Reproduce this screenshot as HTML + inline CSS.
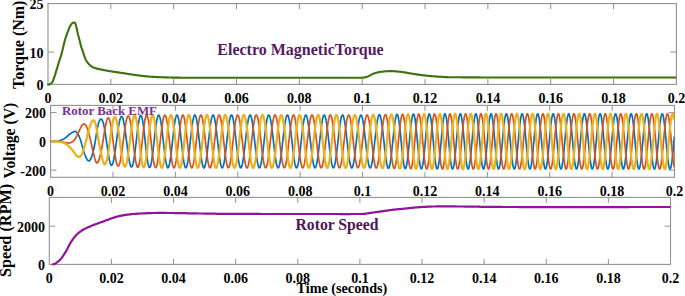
<!DOCTYPE html>
<html><head><meta charset="utf-8"><style>
html,body{margin:0;padding:0;background:#fff;width:685px;height:296px;overflow:hidden}
</style></head><body>
<svg width="685" height="296" viewBox="0 0 685 296" style="position:absolute;left:0;top:0"><rect x="48.0" y="3.6" width="628.40" height="80.80" fill="none" stroke="#929292" stroke-width="1.1"/><text x="48.00" y="102.8" text-anchor="middle" font-family='"Liberation Serif", serif' font-weight="bold" font-size="14">0</text><line x1="110.84" y1="84.4" x2="110.84" y2="78.9" stroke="#929292" stroke-width="1"/><line x1="110.84" y1="3.6" x2="110.84" y2="9.1" stroke="#929292" stroke-width="1"/><text x="110.84" y="102.8" text-anchor="middle" font-family='"Liberation Serif", serif' font-weight="bold" font-size="14">0.02</text><line x1="173.68" y1="84.4" x2="173.68" y2="78.9" stroke="#929292" stroke-width="1"/><line x1="173.68" y1="3.6" x2="173.68" y2="9.1" stroke="#929292" stroke-width="1"/><text x="173.68" y="102.8" text-anchor="middle" font-family='"Liberation Serif", serif' font-weight="bold" font-size="14">0.04</text><line x1="236.52" y1="84.4" x2="236.52" y2="78.9" stroke="#929292" stroke-width="1"/><line x1="236.52" y1="3.6" x2="236.52" y2="9.1" stroke="#929292" stroke-width="1"/><text x="236.52" y="102.8" text-anchor="middle" font-family='"Liberation Serif", serif' font-weight="bold" font-size="14">0.06</text><line x1="299.36" y1="84.4" x2="299.36" y2="78.9" stroke="#929292" stroke-width="1"/><line x1="299.36" y1="3.6" x2="299.36" y2="9.1" stroke="#929292" stroke-width="1"/><text x="299.36" y="102.8" text-anchor="middle" font-family='"Liberation Serif", serif' font-weight="bold" font-size="14">0.08</text><line x1="362.20" y1="84.4" x2="362.20" y2="78.9" stroke="#929292" stroke-width="1"/><line x1="362.20" y1="3.6" x2="362.20" y2="9.1" stroke="#929292" stroke-width="1"/><text x="362.20" y="102.8" text-anchor="middle" font-family='"Liberation Serif", serif' font-weight="bold" font-size="14">0.1</text><line x1="425.04" y1="84.4" x2="425.04" y2="78.9" stroke="#929292" stroke-width="1"/><line x1="425.04" y1="3.6" x2="425.04" y2="9.1" stroke="#929292" stroke-width="1"/><text x="425.04" y="102.8" text-anchor="middle" font-family='"Liberation Serif", serif' font-weight="bold" font-size="14">0.12</text><line x1="487.88" y1="84.4" x2="487.88" y2="78.9" stroke="#929292" stroke-width="1"/><line x1="487.88" y1="3.6" x2="487.88" y2="9.1" stroke="#929292" stroke-width="1"/><text x="487.88" y="102.8" text-anchor="middle" font-family='"Liberation Serif", serif' font-weight="bold" font-size="14">0.14</text><line x1="550.72" y1="84.4" x2="550.72" y2="78.9" stroke="#929292" stroke-width="1"/><line x1="550.72" y1="3.6" x2="550.72" y2="9.1" stroke="#929292" stroke-width="1"/><text x="550.72" y="102.8" text-anchor="middle" font-family='"Liberation Serif", serif' font-weight="bold" font-size="14">0.16</text><line x1="613.56" y1="84.4" x2="613.56" y2="78.9" stroke="#929292" stroke-width="1"/><line x1="613.56" y1="3.6" x2="613.56" y2="9.1" stroke="#929292" stroke-width="1"/><text x="613.56" y="102.8" text-anchor="middle" font-family='"Liberation Serif", serif' font-weight="bold" font-size="14">0.18</text><text x="676.40" y="102.8" text-anchor="middle" font-family='"Liberation Serif", serif' font-weight="bold" font-size="14">0.2</text><text x="43.6" y="90.00" text-anchor="end" font-family='"Liberation Serif", serif' font-weight="bold" font-size="14">0</text><line x1="48.0" y1="52.08" x2="54.0" y2="52.08" stroke="#929292" stroke-width="1"/><line x1="676.4" y1="52.08" x2="670.4" y2="52.08" stroke="#929292" stroke-width="1"/><text x="43.6" y="57.68" text-anchor="end" font-family='"Liberation Serif", serif' font-weight="bold" font-size="14">10</text><text x="43.6" y="9.20" text-anchor="end" font-family='"Liberation Serif", serif' font-weight="bold" font-size="14">25</text><rect x="50.6" y="105.4" width="623.90" height="71.90" fill="none" stroke="#929292" stroke-width="1.1"/><text x="50.60" y="195.5" text-anchor="middle" font-family='"Liberation Serif", serif' font-weight="bold" font-size="14">0</text><line x1="112.99" y1="177.3" x2="112.99" y2="171.8" stroke="#929292" stroke-width="1"/><line x1="112.99" y1="105.4" x2="112.99" y2="110.9" stroke="#929292" stroke-width="1"/><text x="112.99" y="195.5" text-anchor="middle" font-family='"Liberation Serif", serif' font-weight="bold" font-size="14">0.02</text><line x1="175.38" y1="177.3" x2="175.38" y2="171.8" stroke="#929292" stroke-width="1"/><line x1="175.38" y1="105.4" x2="175.38" y2="110.9" stroke="#929292" stroke-width="1"/><text x="175.38" y="195.5" text-anchor="middle" font-family='"Liberation Serif", serif' font-weight="bold" font-size="14">0.04</text><line x1="237.77" y1="177.3" x2="237.77" y2="171.8" stroke="#929292" stroke-width="1"/><line x1="237.77" y1="105.4" x2="237.77" y2="110.9" stroke="#929292" stroke-width="1"/><text x="237.77" y="195.5" text-anchor="middle" font-family='"Liberation Serif", serif' font-weight="bold" font-size="14">0.06</text><line x1="300.16" y1="177.3" x2="300.16" y2="171.8" stroke="#929292" stroke-width="1"/><line x1="300.16" y1="105.4" x2="300.16" y2="110.9" stroke="#929292" stroke-width="1"/><text x="300.16" y="195.5" text-anchor="middle" font-family='"Liberation Serif", serif' font-weight="bold" font-size="14">0.08</text><line x1="362.55" y1="177.3" x2="362.55" y2="171.8" stroke="#929292" stroke-width="1"/><line x1="362.55" y1="105.4" x2="362.55" y2="110.9" stroke="#929292" stroke-width="1"/><text x="362.55" y="195.5" text-anchor="middle" font-family='"Liberation Serif", serif' font-weight="bold" font-size="14">0.1</text><line x1="424.94" y1="177.3" x2="424.94" y2="171.8" stroke="#929292" stroke-width="1"/><line x1="424.94" y1="105.4" x2="424.94" y2="110.9" stroke="#929292" stroke-width="1"/><text x="424.94" y="195.5" text-anchor="middle" font-family='"Liberation Serif", serif' font-weight="bold" font-size="14">0.12</text><line x1="487.33" y1="177.3" x2="487.33" y2="171.8" stroke="#929292" stroke-width="1"/><line x1="487.33" y1="105.4" x2="487.33" y2="110.9" stroke="#929292" stroke-width="1"/><text x="487.33" y="195.5" text-anchor="middle" font-family='"Liberation Serif", serif' font-weight="bold" font-size="14">0.14</text><line x1="549.72" y1="177.3" x2="549.72" y2="171.8" stroke="#929292" stroke-width="1"/><line x1="549.72" y1="105.4" x2="549.72" y2="110.9" stroke="#929292" stroke-width="1"/><text x="549.72" y="195.5" text-anchor="middle" font-family='"Liberation Serif", serif' font-weight="bold" font-size="14">0.16</text><line x1="612.11" y1="177.3" x2="612.11" y2="171.8" stroke="#929292" stroke-width="1"/><line x1="612.11" y1="105.4" x2="612.11" y2="110.9" stroke="#929292" stroke-width="1"/><text x="612.11" y="195.5" text-anchor="middle" font-family='"Liberation Serif", serif' font-weight="bold" font-size="14">0.18</text><text x="674.50" y="195.5" text-anchor="middle" font-family='"Liberation Serif", serif' font-weight="bold" font-size="14">0.2</text><line x1="50.6" y1="170.11" x2="56.6" y2="170.11" stroke="#929292" stroke-width="1"/><line x1="674.5" y1="170.11" x2="668.5" y2="170.11" stroke="#929292" stroke-width="1"/><text x="46.0" y="175.71" text-anchor="end" font-family='"Liberation Serif", serif' font-weight="bold" font-size="14">-200</text><line x1="50.6" y1="141.35" x2="56.6" y2="141.35" stroke="#929292" stroke-width="1"/><line x1="674.5" y1="141.35" x2="668.5" y2="141.35" stroke="#929292" stroke-width="1"/><text x="46.0" y="146.95" text-anchor="end" font-family='"Liberation Serif", serif' font-weight="bold" font-size="14">0</text><line x1="50.6" y1="112.59" x2="56.6" y2="112.59" stroke="#929292" stroke-width="1"/><line x1="674.5" y1="112.59" x2="668.5" y2="112.59" stroke="#929292" stroke-width="1"/><text x="46.0" y="118.19" text-anchor="end" font-family='"Liberation Serif", serif' font-weight="bold" font-size="14">200</text><rect x="49.3" y="197.4" width="621.20" height="67.00" fill="none" stroke="#929292" stroke-width="1.1"/><text x="49.30" y="282.5" text-anchor="middle" font-family='"Liberation Serif", serif' font-weight="bold" font-size="14">0</text><line x1="111.42" y1="264.4" x2="111.42" y2="258.9" stroke="#929292" stroke-width="1"/><line x1="111.42" y1="197.4" x2="111.42" y2="202.9" stroke="#929292" stroke-width="1"/><text x="111.42" y="282.5" text-anchor="middle" font-family='"Liberation Serif", serif' font-weight="bold" font-size="14">0.02</text><line x1="173.54" y1="264.4" x2="173.54" y2="258.9" stroke="#929292" stroke-width="1"/><line x1="173.54" y1="197.4" x2="173.54" y2="202.9" stroke="#929292" stroke-width="1"/><text x="173.54" y="282.5" text-anchor="middle" font-family='"Liberation Serif", serif' font-weight="bold" font-size="14">0.04</text><line x1="235.66" y1="264.4" x2="235.66" y2="258.9" stroke="#929292" stroke-width="1"/><line x1="235.66" y1="197.4" x2="235.66" y2="202.9" stroke="#929292" stroke-width="1"/><text x="235.66" y="282.5" text-anchor="middle" font-family='"Liberation Serif", serif' font-weight="bold" font-size="14">0.06</text><line x1="297.78" y1="264.4" x2="297.78" y2="258.9" stroke="#929292" stroke-width="1"/><line x1="297.78" y1="197.4" x2="297.78" y2="202.9" stroke="#929292" stroke-width="1"/><text x="297.78" y="282.5" text-anchor="middle" font-family='"Liberation Serif", serif' font-weight="bold" font-size="14">0.08</text><line x1="359.90" y1="264.4" x2="359.90" y2="258.9" stroke="#929292" stroke-width="1"/><line x1="359.90" y1="197.4" x2="359.90" y2="202.9" stroke="#929292" stroke-width="1"/><text x="359.90" y="282.5" text-anchor="middle" font-family='"Liberation Serif", serif' font-weight="bold" font-size="14">0.1</text><line x1="422.02" y1="264.4" x2="422.02" y2="258.9" stroke="#929292" stroke-width="1"/><line x1="422.02" y1="197.4" x2="422.02" y2="202.9" stroke="#929292" stroke-width="1"/><text x="422.02" y="282.5" text-anchor="middle" font-family='"Liberation Serif", serif' font-weight="bold" font-size="14">0.12</text><line x1="484.14" y1="264.4" x2="484.14" y2="258.9" stroke="#929292" stroke-width="1"/><line x1="484.14" y1="197.4" x2="484.14" y2="202.9" stroke="#929292" stroke-width="1"/><text x="484.14" y="282.5" text-anchor="middle" font-family='"Liberation Serif", serif' font-weight="bold" font-size="14">0.14</text><line x1="546.26" y1="264.4" x2="546.26" y2="258.9" stroke="#929292" stroke-width="1"/><line x1="546.26" y1="197.4" x2="546.26" y2="202.9" stroke="#929292" stroke-width="1"/><text x="546.26" y="282.5" text-anchor="middle" font-family='"Liberation Serif", serif' font-weight="bold" font-size="14">0.16</text><line x1="608.38" y1="264.4" x2="608.38" y2="258.9" stroke="#929292" stroke-width="1"/><line x1="608.38" y1="197.4" x2="608.38" y2="202.9" stroke="#929292" stroke-width="1"/><text x="608.38" y="282.5" text-anchor="middle" font-family='"Liberation Serif", serif' font-weight="bold" font-size="14">0.18</text><text x="670.50" y="282.5" text-anchor="middle" font-family='"Liberation Serif", serif' font-weight="bold" font-size="14">0.2</text><text x="45.0" y="270.00" text-anchor="end" font-family='"Liberation Serif", serif' font-weight="bold" font-size="14">0</text><line x1="49.3" y1="226.11" x2="55.3" y2="226.11" stroke="#929292" stroke-width="1"/><line x1="670.5" y1="226.11" x2="664.5" y2="226.11" stroke="#929292" stroke-width="1"/><text x="45.0" y="231.71" text-anchor="end" font-family='"Liberation Serif", serif' font-weight="bold" font-size="14">2000</text><defs><clipPath id="c1"><rect x="40" y="3.6" width="636.40" height="83.80"/></clipPath><clipPath id="c3"><rect x="40" y="197.4" width="630.50" height="70.00"/></clipPath></defs><path clip-path="url(#c1)" d="M48.0 84.6L48.5 84.6L49.0 84.5L49.5 84.4L50.0 84.2L50.5 83.9L51.0 83.6L51.5 83.1L52.0 82.5L52.5 81.9L53.0 80.8L53.5 79.5L54.0 78.1L54.5 76.6L55.0 75.1L55.5 73.4L56.0 71.7L56.5 70.1L57.0 68.5L57.5 66.9L58.0 65.2L58.5 63.6L59.0 62.0L59.5 60.4L60.0 58.8L60.5 57.2L61.0 55.6L61.5 53.9L62.0 52.1L62.5 50.2L63.0 48.1L63.5 45.9L64.0 43.8L64.5 41.7L65.0 39.8L65.5 38.2L66.0 36.6L66.5 35.2L67.0 33.8L67.5 32.5L68.0 31.1L68.5 29.8L69.0 28.5L69.5 27.3L70.0 26.3L70.5 25.4L71.0 24.6L71.5 23.9L72.0 23.4L72.5 23.0L73.0 22.7L73.5 22.6L74.0 22.6L74.5 22.6L75.0 23.0L75.5 23.8L76.0 25.6L76.5 27.6L77.0 29.8L77.5 32.1L78.0 34.3L78.5 36.2L79.0 38.2L79.5 40.1L80.0 42.0L80.5 44.1L81.0 46.1L81.5 47.9L82.0 49.2L82.5 50.5L83.0 51.9L83.5 53.4L84.0 55.0L84.5 56.6L85.0 58.0L85.5 59.2L86.0 60.2L86.5 61.0L87.0 61.7L87.5 62.5L88.0 63.1L88.5 63.7L89.0 64.2L89.5 64.7L90.0 65.2L90.5 65.6L91.0 66.1L91.5 66.5L92.0 66.8L92.5 67.1L93.0 67.3L93.5 67.5L94.0 67.7L94.5 67.9L95.0 68.0L95.5 68.2L96.0 68.3L96.5 68.5L97.0 68.6L97.5 68.8L98.0 68.9L98.5 69.0L99.0 69.1L99.5 69.2L100.0 69.3L100.5 69.4L101.0 69.5L101.5 69.6L102.0 69.7L102.5 69.8L103.0 69.9L103.5 70.0L104.0 70.1L104.5 70.2L105.0 70.3L105.5 70.4L106.0 70.5L106.5 70.6L107.0 70.7L107.5 70.8L108.0 70.9L108.5 71.0L109.0 71.0L109.5 71.1L110.0 71.2L110.5 71.3L111.0 71.3L111.5 71.4L112.0 71.5L112.5 71.6L113.0 71.6L113.5 71.7L114.0 71.8L114.5 71.9L115.0 71.9L115.5 72.0L116.0 72.1L116.5 72.1L117.0 72.2L117.5 72.3L118.0 72.4L118.5 72.4L119.0 72.5L119.5 72.6L120.0 72.7L120.5 72.7L121.0 72.8L121.5 72.9L122.0 73.0L122.5 73.0L123.0 73.1L123.5 73.2L124.0 73.3L124.5 73.3L125.0 73.4L125.5 73.5L126.0 73.6L126.5 73.7L127.0 73.7L127.5 73.8L128.0 73.9L128.5 74.0L129.0 74.1L129.5 74.1L130.0 74.2L130.5 74.3L131.0 74.4L131.5 74.5L132.0 74.5L132.5 74.6L133.0 74.7L133.5 74.8L134.0 74.8L134.5 74.9L135.0 75.0L135.5 75.0L136.0 75.1L136.5 75.2L137.0 75.3L137.5 75.3L138.0 75.4L138.5 75.4L139.0 75.5L139.5 75.6L140.0 75.6L140.5 75.7L141.0 75.7L141.5 75.8L142.0 75.9L142.5 75.9L143.0 76.0L143.5 76.0L144.0 76.1L144.5 76.1L145.0 76.2L145.5 76.2L146.0 76.3L146.5 76.4L147.0 76.4L147.5 76.5L148.0 76.5L148.5 76.5L149.0 76.6L149.5 76.6L150.0 76.7L150.5 76.7L151.0 76.8L151.5 76.8L152.0 76.8L152.5 76.9L153.0 76.9L153.5 76.9L154.0 76.9L154.5 77.0L155.0 77.0L155.5 77.0L156.0 77.0L156.5 77.0L157.0 77.1L157.5 77.1L158.0 77.1L158.5 77.1L159.0 77.2L159.5 77.2L160.0 77.2L160.5 77.2L161.0 77.2L161.5 77.3L162.0 77.3L162.5 77.3L163.0 77.3L163.5 77.3L164.0 77.4L164.5 77.4L165.0 77.4L165.5 77.4L166.0 77.4L166.5 77.4L167.0 77.4L167.5 77.5L168.0 77.5L168.5 77.5L169.0 77.5L169.5 77.5L170.0 77.5L170.5 77.5L171.0 77.5L171.5 77.5L172.0 77.6L172.5 77.6L173.0 77.6L173.5 77.6L174.0 77.6L174.5 77.6L175.0 77.6L175.5 77.6L176.0 77.6L176.5 77.6L177.0 77.6L177.5 77.6L178.0 77.6L178.5 77.6L179.0 77.6L179.5 77.6L180.0 77.6L180.5 77.7L181.0 77.7L181.5 77.7L182.0 77.7L182.5 77.7L183.0 77.7L183.5 77.7L184.0 77.7L184.5 77.7L185.0 77.7L185.5 77.7L186.0 77.7L186.5 77.7L187.0 77.7L187.5 77.7L188.0 77.7L188.5 77.7L189.0 77.7L189.5 77.7L190.0 77.7L190.5 77.7L191.0 77.7L191.5 77.7L192.0 77.7L192.5 77.7L193.0 77.7L193.5 77.7L194.0 77.7L194.5 77.7L195.0 77.7L195.5 77.7L196.0 77.7L196.5 77.7L197.0 77.7L197.5 77.7L198.0 77.7L198.5 77.7L199.0 77.7L199.5 77.7L200.0 77.8L200.5 77.8L201.0 77.8L201.5 77.8L202.0 77.8L202.5 77.8L203.0 77.8L203.5 77.8L204.0 77.8L204.5 77.8L205.0 77.8L205.5 77.8L206.0 77.8L206.5 77.8L207.0 77.8L207.5 77.8L208.0 77.8L208.5 77.8L209.0 77.8L209.5 77.8L210.0 77.8L210.5 77.8L211.0 77.8L211.5 77.8L212.0 77.8L212.5 77.8L213.0 77.8L213.5 77.8L214.0 77.8L214.5 77.8L215.0 77.8L215.5 77.8L216.0 77.8L216.5 77.8L217.0 77.8L217.5 77.8L218.0 77.8L218.5 77.8L219.0 77.8L219.5 77.8L220.0 77.8L220.5 77.8L221.0 77.8L221.5 77.8L222.0 77.8L222.5 77.8L223.0 77.8L223.5 77.8L224.0 77.8L224.5 77.8L225.0 77.8L225.5 77.8L226.0 77.8L226.5 77.8L227.0 77.8L227.5 77.8L228.0 77.8L228.5 77.8L229.0 77.8L229.5 77.8L230.0 77.8L230.5 77.8L231.0 77.8L231.5 77.8L232.0 77.8L232.5 77.8L233.0 77.8L233.5 77.8L234.0 77.8L234.5 77.8L235.0 77.8L235.5 77.8L236.0 77.8L236.5 77.8L237.0 77.8L237.5 77.8L238.0 77.8L238.5 77.8L239.0 77.8L239.5 77.8L240.0 77.8L240.5 77.8L241.0 77.8L241.5 77.8L242.0 77.8L242.5 77.8L243.0 77.8L243.5 77.8L244.0 77.8L244.5 77.8L245.0 77.8L245.5 77.8L246.0 77.8L246.5 77.8L247.0 77.8L247.5 77.8L248.0 77.8L248.5 77.8L249.0 77.8L249.5 77.8L250.0 77.8L250.5 77.8L251.0 77.8L251.5 77.8L252.0 77.8L252.5 77.8L253.0 77.8L253.5 77.8L254.0 77.8L254.5 77.8L255.0 77.8L255.5 77.8L256.0 77.8L256.5 77.8L257.0 77.8L257.5 77.8L258.0 77.8L258.5 77.8L259.0 77.8L259.5 77.8L260.0 77.8L260.5 77.8L261.0 77.8L261.5 77.8L262.0 77.8L262.5 77.8L263.0 77.8L263.5 77.8L264.0 77.8L264.5 77.8L265.0 77.8L265.5 77.8L266.0 77.8L266.5 77.8L267.0 77.8L267.5 77.8L268.0 77.8L268.5 77.8L269.0 77.8L269.5 77.8L270.0 77.8L270.5 77.8L271.0 77.8L271.5 77.8L272.0 77.8L272.5 77.8L273.0 77.8L273.5 77.8L274.0 77.8L274.5 77.8L275.0 77.8L275.5 77.8L276.0 77.8L276.5 77.8L277.0 77.8L277.5 77.8L278.0 77.8L278.5 77.8L279.0 77.8L279.5 77.8L280.0 77.8L280.5 77.8L281.0 77.8L281.5 77.8L282.0 77.8L282.5 77.8L283.0 77.8L283.5 77.8L284.0 77.8L284.5 77.8L285.0 77.8L285.5 77.8L286.0 77.8L286.5 77.8L287.0 77.8L287.5 77.8L288.0 77.8L288.5 77.8L289.0 77.8L289.5 77.8L290.0 77.8L290.5 77.8L291.0 77.8L291.5 77.8L292.0 77.8L292.5 77.8L293.0 77.8L293.5 77.8L294.0 77.8L294.5 77.8L295.0 77.8L295.5 77.8L296.0 77.8L296.5 77.8L297.0 77.8L297.5 77.8L298.0 77.8L298.5 77.8L299.0 77.8L299.5 77.8L300.0 77.8L300.5 77.8L301.0 77.8L301.5 77.8L302.0 77.8L302.5 77.8L303.0 77.8L303.5 77.8L304.0 77.8L304.5 77.8L305.0 77.8L305.5 77.8L306.0 77.8L306.5 77.8L307.0 77.8L307.5 77.8L308.0 77.8L308.5 77.8L309.0 77.8L309.5 77.8L310.0 77.8L310.5 77.8L311.0 77.8L311.5 77.8L312.0 77.8L312.5 77.8L313.0 77.8L313.5 77.8L314.0 77.8L314.5 77.8L315.0 77.8L315.5 77.8L316.0 77.8L316.5 77.8L317.0 77.8L317.5 77.8L318.0 77.8L318.5 77.8L319.0 77.8L319.5 77.8L320.0 77.8L320.5 77.8L321.0 77.8L321.5 77.8L322.0 77.8L322.5 77.8L323.0 77.8L323.5 77.8L324.0 77.8L324.5 77.8L325.0 77.8L325.5 77.8L326.0 77.8L326.5 77.8L327.0 77.8L327.5 77.8L328.0 77.8L328.5 77.8L329.0 77.8L329.5 77.8L330.0 77.8L330.5 77.7L331.0 77.7L331.5 77.7L332.0 77.7L332.5 77.7L333.0 77.7L333.5 77.7L334.0 77.7L334.5 77.7L335.0 77.7L335.5 77.7L336.0 77.7L336.5 77.7L337.0 77.7L337.5 77.7L338.0 77.7L338.5 77.7L339.0 77.7L339.5 77.7L340.0 77.7L340.5 77.7L341.0 77.7L341.5 77.7L342.0 77.7L342.5 77.7L343.0 77.7L343.5 77.7L344.0 77.7L344.5 77.7L345.0 77.7L345.5 77.7L346.0 77.7L346.5 77.7L347.0 77.7L347.5 77.7L348.0 77.7L348.5 77.7L349.0 77.7L349.5 77.7L350.0 77.7L350.5 77.7L351.0 77.7L351.5 77.7L352.0 77.7L352.5 77.7L353.0 77.7L353.5 77.7L354.0 77.7L354.5 77.7L355.0 77.7L355.5 77.7L356.0 77.7L356.5 77.7L357.0 77.7L357.5 77.7L358.0 77.7L358.5 77.7L359.0 77.7L359.5 77.7L360.0 77.7L360.5 77.7L361.0 77.7L361.5 77.7L362.0 77.7L362.5 77.7L363.0 77.6L363.5 77.6L364.0 77.5L364.5 77.4L365.0 77.3L365.5 77.2L366.0 77.1L366.5 76.9L367.0 76.8L367.5 76.6L368.0 76.4L368.5 76.2L369.0 76.0L369.5 75.7L370.0 75.4L370.5 75.1L371.0 74.8L371.5 74.6L372.0 74.3L372.5 74.1L373.0 73.8L373.5 73.7L374.0 73.5L374.5 73.3L375.0 73.2L375.5 73.0L376.0 72.8L376.5 72.7L377.0 72.6L377.5 72.4L378.0 72.3L378.5 72.2L379.0 72.1L379.5 72.0L380.0 71.9L380.5 71.8L381.0 71.8L381.5 71.7L382.0 71.7L382.5 71.6L383.0 71.6L383.5 71.5L384.0 71.5L384.5 71.4L385.0 71.4L385.5 71.3L386.0 71.3L386.5 71.3L387.0 71.2L387.5 71.2L388.0 71.2L388.5 71.1L389.0 71.1L389.5 71.1L390.0 71.1L390.5 71.1L391.0 71.1L391.5 71.1L392.0 71.1L392.5 71.1L393.0 71.2L393.5 71.2L394.0 71.2L394.5 71.2L395.0 71.3L395.5 71.3L396.0 71.4L396.5 71.4L397.0 71.5L397.5 71.5L398.0 71.6L398.5 71.6L399.0 71.7L399.5 71.7L400.0 71.8L400.5 71.8L401.0 71.9L401.5 71.9L402.0 72.0L402.5 72.1L403.0 72.1L403.5 72.2L404.0 72.3L404.5 72.4L405.0 72.4L405.5 72.5L406.0 72.6L406.5 72.7L407.0 72.8L407.5 72.9L408.0 73.0L408.5 73.1L409.0 73.2L409.5 73.2L410.0 73.3L410.5 73.4L411.0 73.5L411.5 73.6L412.0 73.7L412.5 73.8L413.0 73.8L413.5 73.9L414.0 74.0L414.5 74.1L415.0 74.1L415.5 74.2L416.0 74.3L416.5 74.4L417.0 74.4L417.5 74.5L418.0 74.6L418.5 74.6L419.0 74.7L419.5 74.8L420.0 74.9L420.5 74.9L421.0 75.0L421.5 75.1L422.0 75.1L422.5 75.2L423.0 75.3L423.5 75.3L424.0 75.4L424.5 75.4L425.0 75.5L425.5 75.6L426.0 75.6L426.5 75.7L427.0 75.7L427.5 75.8L428.0 75.8L428.5 75.9L429.0 75.9L429.5 76.0L430.0 76.0L430.5 76.1L431.0 76.1L431.5 76.1L432.0 76.2L432.5 76.2L433.0 76.3L433.5 76.3L434.0 76.3L434.5 76.4L435.0 76.4L435.5 76.5L436.0 76.5L436.5 76.5L437.0 76.6L437.5 76.6L438.0 76.6L438.5 76.7L439.0 76.7L439.5 76.7L440.0 76.7L440.5 76.8L441.0 76.8L441.5 76.8L442.0 76.9L442.5 76.9L443.0 76.9L443.5 77.0L444.0 77.0L444.5 77.0L445.0 77.0L445.5 77.1L446.0 77.1L446.5 77.1L447.0 77.1L447.5 77.1L448.0 77.2L448.5 77.2L449.0 77.2L449.5 77.2L450.0 77.2L450.5 77.2L451.0 77.2L451.5 77.2L452.0 77.2L452.5 77.2L453.0 77.2L453.5 77.3L454.0 77.3L454.5 77.3L455.0 77.3L455.5 77.3L456.0 77.3L456.5 77.3L457.0 77.3L457.5 77.3L458.0 77.3L458.5 77.3L459.0 77.3L459.5 77.3L460.0 77.3L460.5 77.3L461.0 77.3L461.5 77.3L462.0 77.4L462.5 77.4L463.0 77.4L463.5 77.4L464.0 77.4L464.5 77.4L465.0 77.4L465.5 77.4L466.0 77.4L466.5 77.4L467.0 77.4L467.5 77.4L468.0 77.4L468.5 77.4L469.0 77.4L469.5 77.4L470.0 77.4L470.5 77.4L471.0 77.4L471.5 77.4L472.0 77.4L472.5 77.4L473.0 77.4L473.5 77.4L474.0 77.4L474.5 77.4L475.0 77.4L475.5 77.4L476.0 77.4L476.5 77.4L477.0 77.4L477.5 77.4L478.0 77.4L478.5 77.4L479.0 77.4L479.5 77.4L480.0 77.5L480.5 77.5L481.0 77.5L481.5 77.5L482.0 77.5L482.5 77.5L483.0 77.5L483.5 77.5L484.0 77.5L484.5 77.5L485.0 77.5L485.5 77.5L486.0 77.5L486.5 77.5L487.0 77.5L487.5 77.5L488.0 77.5L488.5 77.5L489.0 77.5L489.5 77.5L490.0 77.5L490.5 77.5L491.0 77.5L491.5 77.5L492.0 77.5L492.5 77.5L493.0 77.5L493.5 77.5L494.0 77.5L494.5 77.5L495.0 77.5L495.5 77.5L496.0 77.5L496.5 77.5L497.0 77.5L497.5 77.5L498.0 77.5L498.5 77.5L499.0 77.5L499.5 77.5L500.0 77.5L500.5 77.5L501.0 77.5L501.5 77.5L502.0 77.5L502.5 77.5L503.0 77.5L503.5 77.5L504.0 77.5L504.5 77.5L505.0 77.5L505.5 77.5L506.0 77.5L506.5 77.5L507.0 77.5L507.5 77.5L508.0 77.5L508.5 77.5L509.0 77.5L509.5 77.5L510.0 77.5L510.5 77.5L511.0 77.5L511.5 77.5L512.0 77.5L512.5 77.5L513.0 77.5L513.5 77.5L514.0 77.5L514.5 77.5L515.0 77.5L515.5 77.5L516.0 77.5L516.5 77.5L517.0 77.5L517.5 77.5L518.0 77.5L518.5 77.5L519.0 77.5L519.5 77.5L520.0 77.5L520.5 77.5L521.0 77.5L521.5 77.5L522.0 77.5L522.5 77.5L523.0 77.5L523.5 77.5L524.0 77.5L524.5 77.5L525.0 77.5L525.5 77.5L526.0 77.5L526.5 77.5L527.0 77.5L527.5 77.5L528.0 77.5L528.5 77.5L529.0 77.5L529.5 77.5L530.0 77.5L530.5 77.5L531.0 77.5L531.5 77.5L532.0 77.5L532.5 77.5L533.0 77.5L533.5 77.5L534.0 77.5L534.5 77.5L535.0 77.5L535.5 77.5L536.0 77.5L536.5 77.5L537.0 77.5L537.5 77.5L538.0 77.5L538.5 77.5L539.0 77.5L539.5 77.5L540.0 77.5L540.5 77.5L541.0 77.5L541.5 77.5L542.0 77.5L542.5 77.5L543.0 77.5L543.5 77.5L544.0 77.5L544.5 77.5L545.0 77.5L545.5 77.5L546.0 77.5L546.5 77.5L547.0 77.5L547.5 77.5L548.0 77.5L548.5 77.5L549.0 77.5L549.5 77.5L550.0 77.5L550.5 77.5L551.0 77.5L551.5 77.5L552.0 77.5L552.5 77.5L553.0 77.5L553.5 77.5L554.0 77.5L554.5 77.5L555.0 77.5L555.5 77.5L556.0 77.5L556.5 77.5L557.0 77.5L557.5 77.5L558.0 77.5L558.5 77.5L559.0 77.5L559.5 77.5L560.0 77.5L560.5 77.5L561.0 77.5L561.5 77.5L562.0 77.5L562.5 77.5L563.0 77.5L563.5 77.5L564.0 77.5L564.5 77.5L565.0 77.5L565.5 77.5L566.0 77.5L566.5 77.5L567.0 77.5L567.5 77.5L568.0 77.5L568.5 77.5L569.0 77.5L569.5 77.5L570.0 77.5L570.5 77.5L571.0 77.5L571.5 77.5L572.0 77.5L572.5 77.5L573.0 77.5L573.5 77.5L574.0 77.5L574.5 77.5L575.0 77.5L575.5 77.5L576.0 77.5L576.5 77.5L577.0 77.5L577.5 77.5L578.0 77.5L578.5 77.5L579.0 77.5L579.5 77.5L580.0 77.5L580.5 77.5L581.0 77.5L581.5 77.5L582.0 77.5L582.5 77.5L583.0 77.5L583.5 77.5L584.0 77.5L584.5 77.5L585.0 77.5L585.5 77.5L586.0 77.5L586.5 77.5L587.0 77.5L587.5 77.5L588.0 77.5L588.5 77.5L589.0 77.5L589.5 77.5L590.0 77.5L590.5 77.5L591.0 77.5L591.5 77.5L592.0 77.5L592.5 77.5L593.0 77.5L593.5 77.5L594.0 77.5L594.5 77.5L595.0 77.5L595.5 77.5L596.0 77.5L596.5 77.5L597.0 77.5L597.5 77.5L598.0 77.5L598.5 77.5L599.0 77.5L599.5 77.5L600.0 77.5L600.5 77.5L601.0 77.5L601.5 77.5L602.0 77.5L602.5 77.5L603.0 77.5L603.5 77.5L604.0 77.5L604.5 77.5L605.0 77.5L605.5 77.5L606.0 77.5L606.5 77.5L607.0 77.5L607.5 77.5L608.0 77.5L608.5 77.5L609.0 77.5L609.5 77.5L610.0 77.5L610.5 77.5L611.0 77.5L611.5 77.5L612.0 77.5L612.5 77.5L613.0 77.5L613.5 77.5L614.0 77.5L614.5 77.5L615.0 77.5L615.5 77.5L616.0 77.5L616.5 77.5L617.0 77.5L617.5 77.5L618.0 77.5L618.5 77.5L619.0 77.5L619.5 77.5L620.0 77.5L620.5 77.5L621.0 77.5L621.5 77.5L622.0 77.5L622.5 77.5L623.0 77.5L623.5 77.5L624.0 77.5L624.5 77.5L625.0 77.5L625.5 77.5L626.0 77.5L626.5 77.5L627.0 77.5L627.5 77.5L628.0 77.5L628.5 77.5L629.0 77.5L629.5 77.5L630.0 77.5L630.5 77.5L631.0 77.5L631.5 77.5L632.0 77.5L632.5 77.5L633.0 77.5L633.5 77.5L634.0 77.5L634.5 77.5L635.0 77.5L635.5 77.5L636.0 77.5L636.5 77.5L637.0 77.5L637.5 77.5L638.0 77.5L638.5 77.5L639.0 77.5L639.5 77.5L640.0 77.5L640.5 77.5L641.0 77.5L641.5 77.5L642.0 77.5L642.5 77.5L643.0 77.5L643.5 77.5L644.0 77.5L644.5 77.5L645.0 77.5L645.5 77.5L646.0 77.5L646.5 77.5L647.0 77.5L647.5 77.5L648.0 77.5L648.5 77.5L649.0 77.5L649.5 77.5L650.0 77.5L650.5 77.5L651.0 77.5L651.5 77.5L652.0 77.5L652.5 77.5L653.0 77.5L653.5 77.5L654.0 77.5L654.5 77.5L655.0 77.5L655.5 77.5L656.0 77.5L656.5 77.5L657.0 77.5L657.5 77.5L658.0 77.5L658.5 77.5L659.0 77.5L659.5 77.5L660.0 77.5L660.5 77.5L661.0 77.5L661.5 77.5L662.0 77.5L662.5 77.5L663.0 77.5L663.5 77.5L664.0 77.5L664.5 77.5L665.0 77.5L665.5 77.5L666.0 77.5L666.5 77.5L667.0 77.5L667.5 77.5L668.0 77.5L668.5 77.5L669.0 77.5L669.5 77.5L670.0 77.5L670.5 77.5L671.0 77.5L671.5 77.5L672.0 77.5L672.5 77.5L673.0 77.5L673.5 77.5L674.0 77.5L674.5 77.5L675.0 77.5L675.5 77.5L676.0 77.5L676.5 77.5" fill="none" stroke="#3f720f" stroke-width="2.1" stroke-linejoin="round" stroke-linecap="round"/><g clip-path="url(#c2)"><path d="M50.6 141.4L50.9 141.4L51.1 141.4L51.4 141.4L51.6 141.4L51.9 141.4L52.1 141.4L52.4 141.4L52.6 141.4L52.9 141.4L53.1 141.4L53.4 141.4L53.6 141.4L53.9 141.4L54.1 141.4L54.4 141.4L54.6 141.3L54.9 141.3L55.1 141.3L55.4 141.3L55.6 141.3L55.9 141.2L56.1 141.2L56.4 141.2L56.6 141.2L56.9 141.1L57.1 141.1L57.4 141.1L57.6 141.1L57.9 141.0L58.1 141.0L58.4 140.9L58.6 140.9L58.9 140.9L59.1 140.8L59.4 140.7L59.6 140.7L59.9 140.6L60.1 140.5L60.4 140.4L60.6 140.3L60.9 140.2L61.1 140.2L61.4 140.1L61.6 140.0L61.9 139.9L62.1 139.8L62.4 139.7L62.6 139.6L62.9 139.4L63.1 139.3L63.4 139.2L63.6 139.0L63.9 138.9L64.1 138.7L64.3 138.6L64.6 138.4L64.8 138.3L65.1 138.1L65.3 137.9L65.6 137.8L65.8 137.6L66.1 137.4L66.3 137.2L66.6 137.0L66.8 136.8L67.1 136.6L67.3 136.3L67.6 136.1L67.8 135.8L68.1 135.6L68.3 135.3L68.6 135.1L68.8 134.9L69.1 134.6L69.3 134.4L69.6 134.2L69.8 134.0L70.1 133.8L70.3 133.6L70.6 133.4L70.8 133.3L71.1 133.1L71.3 133.0L71.6 132.8L71.8 132.7L72.1 132.6L72.3 132.4L72.6 132.3L72.8 132.2L73.1 132.1L73.3 131.9L73.6 131.8L73.8 131.7L74.1 131.6L74.3 131.5L74.6 131.4L74.8 131.4L75.1 131.4L75.3 131.4L75.6 131.5L75.8 131.6L76.1 131.8L76.3 132.0L76.6 132.2L76.8 132.5L77.1 132.8L77.3 133.1L77.6 133.5L77.8 133.9L78.1 134.3L78.3 134.7L78.6 135.2L78.8 135.8L79.1 136.3L79.3 136.9L79.6 137.5L79.8 138.1L80.1 138.8L80.3 139.5L80.6 140.3L80.8 141.1L81.1 141.9L81.3 142.8L81.6 143.6L81.8 144.5L82.1 145.4L82.3 146.3L82.6 147.2L82.8 148.1L83.1 149.0L83.3 149.8L83.6 150.7L83.8 151.5L84.1 152.3L84.3 153.0L84.6 153.8L84.8 154.5L85.1 155.2L85.3 155.8L85.6 156.4L85.8 157.0L86.1 157.6L86.3 158.1L86.6 158.6L86.8 159.1L87.1 159.5L87.3 159.8L87.6 160.1L87.8 160.4L88.1 160.6L88.3 160.8L88.6 160.9L88.8 160.9L89.1 160.9L89.3 160.8L89.6 160.6L89.8 160.4L90.1 160.1L90.3 159.7L90.6 159.3L90.8 158.8L91.1 158.3L91.3 157.7L91.6 157.0L91.8 156.3L92.1 155.5L92.3 154.7L92.6 153.9L92.8 153.0L93.1 152.0L93.3 151.1L93.6 150.0L93.8 148.9L94.1 147.8L94.3 146.6L94.6 145.3L94.8 143.9L95.1 142.4L95.3 140.9L95.6 139.3L95.8 137.7L96.1 136.1L96.3 134.5L96.6 133.0L96.8 131.4L97.1 130.0L97.3 128.6L97.6 127.3L97.8 126.1L98.1 125.0L98.3 124.0L98.6 123.1L98.8 122.3L99.1 121.6L99.3 121.0L99.6 120.5L99.8 120.1L100.1 119.7L100.3 119.5L100.6 119.3L100.8 119.2L101.1 119.1L101.3 119.2L101.6 119.3L101.8 119.6L102.1 119.9L102.3 120.3L102.6 120.9L102.8 121.5L103.1 122.3L103.3 123.1L103.6 124.1L103.8 125.2L104.1 126.3L104.3 127.6L104.6 128.9L104.8 130.3L105.1 131.8L105.3 133.4L105.6 135.0L105.8 136.7L106.1 138.4L106.3 140.2L106.6 141.9L106.8 143.7L107.1 145.5L107.3 147.3L107.6 149.0L107.8 150.7L108.1 152.4L108.3 154.0L108.6 155.6L108.8 157.0L109.1 158.4L109.3 159.7L109.6 160.8L109.8 161.9L110.1 162.8L110.3 163.6L110.6 164.2L110.8 164.7L111.1 165.1L111.3 165.3L111.6 165.3L111.8 165.2L112.1 164.9L112.3 164.5L112.6 164.0L112.8 163.3L113.1 162.4L113.3 161.4L113.6 160.3L113.8 159.1L114.1 157.8L114.3 156.4L114.6 154.8L114.8 153.2L115.1 151.5L115.3 149.8L115.6 148.0L115.8 146.2L116.1 144.3L116.3 142.4L116.6 140.5L116.8 138.6L117.1 136.7L117.3 134.9L117.6 133.0L117.8 131.3L118.1 129.5L118.3 127.9L118.6 126.3L118.8 124.8L119.1 123.4L119.3 122.2L119.6 121.0L119.8 119.9L120.1 119.0L120.3 118.2L120.6 117.6L120.8 117.1L121.1 116.7L121.3 116.5L121.6 116.4L121.8 116.5L122.1 116.7L122.3 117.1L122.6 117.7L122.8 118.3L123.1 119.2L123.3 120.1L123.6 121.2L123.8 122.4L124.1 123.7L124.3 125.2L124.6 126.7L124.8 128.3L125.1 130.1L125.3 131.9L125.6 133.7L125.8 135.6L126.1 137.6L126.3 139.5L126.6 141.5L126.8 143.5L127.1 145.5L127.3 147.5L127.6 149.4L127.8 151.3L128.1 153.1L128.3 154.9L128.6 156.5L128.8 158.1L129.1 159.6L129.3 161.0L129.6 162.2L129.8 163.3L130.1 164.3L130.3 165.2L130.6 165.8L130.8 166.4L131.1 166.7L131.3 166.9L131.6 167.0L131.8 166.8L132.1 166.5L132.3 166.1L132.6 165.4L132.8 164.6L133.1 163.7L133.3 162.6L133.6 161.3L133.8 159.9L134.1 158.4L134.3 156.8L134.6 155.0L134.8 153.1L135.1 151.2L135.3 149.2L135.6 147.1L135.8 144.9L136.1 142.8L136.3 140.6L136.6 138.4L136.8 136.2L137.1 134.1L137.3 132.0L137.6 130.0L137.8 128.0L138.1 126.1L138.3 124.4L138.6 122.8L138.8 121.3L139.1 119.9L139.3 118.7L139.6 117.7L139.8 116.9L140.1 116.2L140.3 115.8L140.6 115.5L140.8 115.5L141.1 115.6L141.3 116.0L141.6 116.5L141.8 117.3L142.1 118.2L142.3 119.3L142.6 120.6L142.8 122.1L143.1 123.7L143.3 125.5L143.6 127.3L143.8 129.3L144.1 131.4L144.3 133.6L144.6 135.9L144.8 138.2L145.1 140.5L145.3 142.8L145.6 145.1L145.8 147.4L146.1 149.6L146.3 151.8L146.6 153.9L146.8 155.9L147.1 157.8L147.3 159.5L147.6 161.1L147.8 162.6L148.1 163.8L148.3 164.9L148.6 165.8L148.8 166.6L149.1 167.1L149.3 167.4L149.6 167.5L149.8 167.4L150.1 167.1L150.3 166.6L150.6 166.0L150.8 165.1L151.1 164.0L151.3 162.8L151.6 161.4L151.8 159.9L152.1 158.2L152.3 156.4L152.6 154.5L152.8 152.5L153.1 150.4L153.3 148.2L153.6 146.0L153.8 143.8L154.1 141.6L154.3 139.3L154.6 137.1L154.8 134.9L155.1 132.7L155.3 130.6L155.6 128.6L155.8 126.7L156.1 124.9L156.3 123.2L156.6 121.7L156.8 120.3L157.1 119.0L157.3 117.9L157.6 117.0L157.8 116.3L158.1 115.7L158.3 115.3L158.6 115.2L158.8 115.2L159.1 115.3L159.3 115.7L159.6 116.3L159.8 117.0L160.1 117.9L160.3 119.0L160.6 120.3L160.8 121.7L161.1 123.2L161.3 124.9L161.6 126.7L161.8 128.6L162.1 130.6L162.3 132.6L162.6 134.8L162.8 136.9L163.1 139.2L163.3 141.4L163.6 143.6L163.8 145.8L164.1 148.0L164.3 150.2L164.6 152.2L164.8 154.2L165.1 156.1L165.3 157.9L165.6 159.6L165.8 161.2L166.1 162.6L166.3 163.9L166.6 165.0L166.8 165.9L167.1 166.6L167.3 167.2L167.6 167.6L167.8 167.8L168.1 167.7L168.3 167.5L168.6 167.2L168.8 166.6L169.1 165.8L169.3 164.8L169.6 163.7L169.8 162.4L170.1 161.0L170.3 159.4L170.6 157.6L170.8 155.8L171.1 153.8L171.3 151.7L171.6 149.6L171.8 147.4L172.1 145.1L172.3 142.8L172.6 140.5L172.8 138.2L173.1 135.9L173.3 133.7L173.6 131.5L173.8 129.4L174.1 127.4L174.3 125.5L174.6 123.7L174.8 122.0L175.1 120.5L175.3 119.2L175.6 118.0L175.8 117.0L176.1 116.2L176.3 115.6L176.6 115.2L176.8 115.0L177.1 115.0L177.3 115.2L177.6 115.7L177.8 116.3L178.1 117.1L178.3 118.1L178.6 119.3L178.8 120.7L179.1 122.2L179.3 123.9L179.6 125.8L179.8 127.7L180.1 129.8L180.3 131.9L180.6 134.1L180.8 136.4L181.1 138.7L181.3 141.1L181.6 143.4L181.8 145.7L182.1 148.0L182.3 150.3L182.6 152.4L182.8 154.5L183.1 156.5L183.3 158.4L183.6 160.1L183.8 161.7L184.1 163.1L184.3 164.3L184.6 165.4L184.8 166.3L185.1 167.0L185.3 167.4L185.6 167.7L185.8 167.8L186.1 167.7L186.3 167.3L186.6 166.8L186.8 166.1L187.1 165.2L187.3 164.1L187.6 162.8L187.8 161.3L188.1 159.7L188.3 158.0L188.6 156.2L188.8 154.2L189.1 152.1L189.3 150.0L189.6 147.8L189.8 145.5L190.1 143.3L190.3 141.0L190.6 138.7L190.8 136.4L191.1 134.2L191.3 132.0L191.6 129.9L191.8 127.9L192.1 126.0L192.3 124.2L192.6 122.5L192.8 121.0L193.1 119.6L193.3 118.4L193.6 117.4L193.8 116.5L194.1 115.8L194.3 115.4L194.6 115.1L194.8 115.0L195.1 115.1L195.3 115.4L195.6 115.9L195.8 116.6L196.1 117.5L196.3 118.5L196.6 119.8L196.8 121.1L197.1 122.7L197.3 124.3L197.6 126.1L197.8 128.1L198.1 130.1L198.3 132.2L198.6 134.3L198.8 136.5L199.1 138.8L199.3 141.0L199.6 143.3L199.8 145.6L200.1 147.8L200.3 150.0L200.6 152.1L200.8 154.1L201.1 156.1L201.3 157.9L201.6 159.6L201.8 161.2L202.1 162.6L202.3 163.9L202.6 165.0L202.8 165.9L203.1 166.7L203.3 167.2L203.6 167.6L203.8 167.8L204.1 167.8L204.3 167.6L204.6 167.2L204.8 166.6L205.1 165.8L205.3 164.8L205.6 163.7L205.8 162.4L206.1 160.9L206.3 159.3L206.6 157.6L206.8 155.8L207.1 153.8L207.3 151.8L207.6 149.6L207.8 147.4L208.1 145.2L208.3 142.9L208.6 140.7L208.8 138.4L209.1 136.2L209.3 134.0L209.6 131.8L209.8 129.7L210.1 127.7L210.3 125.8L210.6 124.1L210.8 122.4L211.1 120.9L211.3 119.6L211.6 118.4L211.8 117.3L212.1 116.5L212.3 115.8L212.6 115.4L212.8 115.1L213.1 115.0L213.3 115.1L213.6 115.4L213.8 115.9L214.1 116.6L214.3 117.5L214.6 118.5L214.8 119.7L215.1 121.1L215.3 122.6L215.6 124.3L215.8 126.1L216.1 128.0L216.3 130.0L216.6 132.1L216.8 134.2L217.1 136.5L217.3 138.7L217.6 141.0L217.8 143.2L218.1 145.5L218.3 147.7L218.6 149.9L218.8 152.0L219.1 154.0L219.3 156.0L219.6 157.8L219.8 159.5L220.1 161.1L220.3 162.5L220.6 163.8L220.8 164.9L221.1 165.8L221.3 166.6L221.6 167.2L221.8 167.6L222.1 167.8L222.3 167.8L222.6 167.6L222.8 167.2L223.1 166.6L223.3 165.9L223.6 165.0L223.8 163.9L224.1 162.6L224.3 161.2L224.6 159.6L224.8 157.9L225.1 156.1L225.3 154.2L225.6 152.2L225.8 150.1L226.1 148.0L226.3 145.8L226.6 143.5L226.8 141.3L227.1 139.1L227.3 136.8L227.6 134.7L227.8 132.5L228.1 130.4L228.3 128.5L228.6 126.6L228.8 124.8L229.1 123.1L229.3 121.5L229.6 120.1L229.8 118.9L230.1 117.8L230.3 116.9L230.6 116.2L230.8 115.6L231.1 115.2L231.3 115.0L231.6 115.0L231.8 115.2L232.1 115.6L232.3 116.1L232.6 116.9L232.8 117.8L233.1 118.9L233.3 120.1L233.6 121.5L233.8 123.0L234.1 124.7L234.3 126.5L234.6 128.3L234.8 130.3L235.1 132.4L235.3 134.5L235.6 136.7L235.8 138.9L236.1 141.1L236.3 143.3L236.6 145.5L236.8 147.7L237.1 149.8L237.3 151.9L237.6 153.9L237.8 155.8L238.1 157.6L238.3 159.3L238.6 160.9L238.8 162.3L239.1 163.6L239.3 164.7L239.6 165.7L239.8 166.5L240.1 167.1L240.3 167.5L240.6 167.7L240.8 167.8L241.1 167.7L241.3 167.3L241.6 166.8L241.8 166.2L242.1 165.3L242.3 164.3L242.6 163.1L242.8 161.7L243.1 160.2L243.3 158.6L243.6 156.8L243.8 155.0L244.1 153.0L244.3 151.0L244.6 148.9L244.8 146.7L245.1 144.5L245.3 142.3L245.6 140.1L245.8 137.8L246.1 135.6L246.3 133.5L246.6 131.4L246.8 129.4L247.1 127.4L247.3 125.6L247.6 123.9L247.8 122.3L248.1 120.8L248.3 119.5L248.6 118.3L248.8 117.3L249.1 116.5L249.3 115.8L249.6 115.4L249.8 115.1L250.1 115.0L250.3 115.1L250.6 115.4L250.8 115.9L251.1 116.5L251.3 117.3L251.6 118.3L251.8 119.5L252.1 120.8L252.3 122.3L252.6 123.9L252.8 125.6L253.1 127.5L253.3 129.4L253.6 131.5L253.8 133.6L254.1 135.7L254.3 137.9L254.6 140.1L254.8 142.4L255.1 144.6L255.3 146.8L255.6 148.9L255.8 151.0L256.1 153.1L256.4 155.0L256.6 156.9L256.9 158.6L257.1 160.3L257.4 161.8L257.6 163.1L257.9 164.3L258.1 165.3L258.4 166.2L258.6 166.9L258.9 167.4L259.1 167.7L259.4 167.8L259.6 167.7L259.9 167.5L260.1 167.1L260.4 166.4L260.6 165.6L260.9 164.7L261.1 163.5L261.4 162.3L261.6 160.8L261.9 159.3L262.1 157.6L262.4 155.7L262.6 153.8L262.9 151.8L263.1 149.7L263.4 147.6L263.6 145.4L263.9 143.2L264.1 141.0L264.4 138.8L264.6 136.6L264.9 134.4L265.1 132.3L265.4 130.3L265.6 128.3L265.9 126.4L266.1 124.7L266.4 123.0L266.6 121.5L266.9 120.1L267.1 118.9L267.4 117.8L267.6 116.9L267.9 116.2L268.1 115.6L268.4 115.2L268.6 115.0L268.9 115.0L269.1 115.2L269.4 115.6L269.6 116.1L269.9 116.8L270.1 117.7L270.4 118.8L270.6 120.0L270.9 121.3L271.1 122.8L271.4 124.5L271.6 126.2L271.9 128.1L272.1 130.1L272.4 132.1L272.6 134.2L272.9 136.3L273.1 138.5L273.4 140.7L273.6 143.0L273.9 145.2L274.1 147.3L274.4 149.5L274.6 151.5L274.9 153.5L275.1 155.5L275.4 157.3L275.6 159.0L275.9 160.6L276.1 162.0L276.4 163.4L276.6 164.5L276.9 165.5L277.1 166.3L277.4 167.0L277.6 167.4L277.9 167.7L278.1 167.8L278.4 167.7L278.6 167.4L278.9 167.0L279.1 166.3L279.4 165.5L279.6 164.5L279.9 163.3L280.1 162.0L280.4 160.5L280.6 158.9L280.9 157.2L281.1 155.4L281.4 153.4L281.6 151.4L281.9 149.3L282.1 147.1L282.4 144.9L282.6 142.7L282.9 140.4L283.1 138.2L283.4 136.0L283.6 133.8L283.9 131.7L284.1 129.6L284.4 127.7L284.6 125.8L284.9 124.1L285.1 122.4L285.4 120.9L285.6 119.6L285.9 118.4L286.1 117.4L286.4 116.5L286.6 115.9L286.9 115.4L287.1 115.1L287.4 115.0L287.6 115.1L287.9 115.4L288.1 115.9L288.4 116.5L288.6 117.4L288.9 118.4L289.1 119.6L289.4 120.9L289.6 122.4L289.9 124.1L290.1 125.8L290.4 127.7L290.6 129.7L290.9 131.8L291.1 133.9L291.4 136.1L291.6 138.3L291.9 140.6L292.1 142.8L292.4 145.1L292.6 147.3L292.9 149.5L293.1 151.6L293.4 153.6L293.6 155.6L293.9 157.5L294.1 159.2L294.4 160.8L294.6 162.2L294.9 163.6L295.1 164.7L295.4 165.7L295.6 166.5L295.9 167.1L296.1 167.5L296.4 167.7L296.6 167.8L296.9 167.6L297.1 167.3L297.4 166.8L297.6 166.1L297.9 165.2L298.1 164.1L298.4 162.9L298.6 161.5L298.9 160.0L299.1 158.3L299.4 156.5L299.6 154.6L299.9 152.6L300.1 150.5L300.4 148.4L300.6 146.2L300.9 144.0L301.1 141.7L301.4 139.5L301.6 137.3L301.9 135.1L302.1 132.9L302.4 130.8L302.6 128.8L302.9 126.9L303.1 125.1L303.4 123.4L303.6 121.8L303.9 120.4L304.1 119.1L304.4 118.0L304.6 117.0L304.9 116.3L305.1 115.7L305.4 115.3L305.6 115.0L305.9 115.0L306.1 115.2L306.4 115.5L306.6 116.0L306.9 116.8L307.1 117.7L307.4 118.7L307.6 119.9L307.9 121.3L308.1 122.8L308.4 124.5L308.6 126.3L308.9 128.2L309.1 130.1L309.4 132.2L309.6 134.3L309.9 136.5L310.1 138.7L310.4 140.9L310.6 143.2L310.9 145.4L311.1 147.6L311.4 149.8L311.6 151.8L311.9 153.9L312.1 155.8L312.4 157.6L312.6 159.3L312.9 160.9L313.1 162.3L313.4 163.6L313.6 164.8L313.9 165.7L314.1 166.5L314.4 167.1L314.6 167.5L314.9 167.8L315.1 167.8L315.4 167.6L315.6 167.3L315.9 166.8L316.1 166.1L316.4 165.2L316.6 164.1L316.9 162.9L317.1 161.5L317.4 160.0L317.6 158.3L317.9 156.5L318.1 154.6L318.4 152.6L318.6 150.5L318.9 148.4L319.1 146.2L319.4 143.9L319.6 141.7L319.9 139.4L320.1 137.2L320.4 135.0L320.6 132.8L320.9 130.7L321.1 128.7L321.4 126.7L321.6 124.9L321.9 123.2L322.1 121.6L322.4 120.2L322.6 118.9L322.9 117.8L323.1 116.9L323.4 116.1L323.6 115.6L323.9 115.2L324.1 115.0L324.4 115.0L324.6 115.2L324.9 115.6L325.1 116.2L325.4 117.0L325.6 118.0L325.9 119.1L326.1 120.4L326.4 121.8L326.6 123.4L326.9 125.1L327.1 127.0L327.4 128.9L327.6 131.0L327.9 133.1L328.1 135.3L328.4 137.5L328.6 139.8L328.9 142.1L329.1 144.3L329.4 146.6L329.6 148.8L329.9 150.9L330.1 153.0L330.4 155.0L330.6 156.9L330.9 158.7L331.1 160.3L331.4 161.8L331.6 163.2L331.9 164.4L332.1 165.4L332.4 166.3L332.6 166.9L332.9 167.4L333.1 167.7L333.4 167.8L333.6 167.7L333.9 167.4L334.1 166.9L334.4 166.2L334.6 165.4L334.9 164.4L335.1 163.2L335.4 161.8L335.6 160.3L335.9 158.6L336.1 156.9L336.4 155.0L336.6 153.0L336.9 150.9L337.1 148.8L337.4 146.6L337.6 144.4L337.9 142.1L338.1 139.9L338.4 137.6L338.6 135.4L338.9 133.2L339.1 131.1L339.4 129.1L339.6 127.1L339.9 125.3L340.1 123.6L340.4 122.0L340.6 120.5L340.9 119.2L341.1 118.1L341.4 117.1L341.6 116.3L341.9 115.7L342.1 115.3L342.4 115.0L342.6 115.0L342.9 115.2L343.1 115.5L343.4 116.0L343.6 116.8L343.9 117.7L344.1 118.7L344.4 120.0L344.6 121.3L344.9 122.9L345.1 124.6L345.4 126.3L345.6 128.2L345.9 130.2L346.1 132.3L346.4 134.5L346.6 136.7L346.9 138.9L347.1 141.1L347.4 143.4L347.6 145.6L347.9 147.8L348.1 150.0L348.4 152.1L348.6 154.1L348.9 156.0L349.1 157.8L349.4 159.5L349.6 161.1L349.9 162.5L350.1 163.8L350.4 164.9L350.6 165.9L350.9 166.6L351.1 167.2L351.4 167.6L351.6 167.8L351.9 167.8L352.1 167.6L352.4 167.2L352.6 166.7L352.9 165.9L353.1 165.0L353.4 163.9L353.6 162.6L353.9 161.2L354.1 159.6L354.4 157.9L354.6 156.1L354.9 154.2L355.1 152.2L355.4 150.1L355.6 147.9L355.9 145.7L356.1 143.5L356.4 141.3L356.6 139.0L356.9 136.8L357.1 134.6L357.4 132.4L357.6 130.4L357.9 128.4L358.1 126.5L358.4 124.7L358.6 123.0L358.9 121.4L359.1 120.0L359.4 118.8L359.6 117.7L359.9 116.8L360.1 116.1L360.4 115.5L360.6 115.2L360.9 115.0L361.1 115.0L361.4 115.3L361.6 115.7L361.9 116.2L362.1 117.0L362.4 118.0L362.6 119.1L362.9 120.4L363.1 121.8L363.4 123.4L363.6 125.1L363.9 126.9L364.1 128.8L364.4 130.9L364.6 133.0L364.9 135.1L365.1 137.3L365.4 139.6L365.6 141.8L365.9 144.1L366.1 146.3L366.4 148.5L366.6 150.6L366.9 152.7L367.1 154.7L367.4 156.6L367.6 158.4L367.9 160.1L368.1 161.6L368.4 163.0L368.6 164.2L368.9 165.3L369.1 166.2L369.4 166.9L369.6 167.4L369.9 167.7L370.1 167.9L370.4 167.8L370.6 167.6L370.9 167.1L371.1 166.5L371.4 165.7L371.6 164.7L371.9 163.5L372.1 162.2L372.4 160.7L372.6 159.1L372.9 157.3L373.1 155.4L373.4 153.5L373.6 151.4L373.9 149.2L374.1 147.0L374.4 144.8L374.6 142.5L374.9 140.2L375.1 138.0L375.4 135.7L375.6 133.5L375.9 131.4L376.1 129.3L376.4 127.3L376.6 125.4L376.9 123.7L377.1 122.0L377.4 120.6L377.6 119.2L377.9 118.0L378.1 117.0L378.4 116.2L378.6 115.5L378.9 115.1L379.1 114.8L379.4 114.7L379.6 114.9L379.9 115.2L380.1 115.7L380.4 116.4L380.6 117.3L380.9 118.3L381.1 119.6L381.4 121.0L381.6 122.5L381.9 124.2L382.1 126.0L382.4 127.9L382.6 130.0L382.9 132.1L383.1 134.3L383.4 136.5L383.6 138.8L383.9 141.1L384.1 143.5L384.4 145.8L384.6 148.0L384.9 150.3L385.1 152.4L385.4 154.5L385.6 156.5L385.9 158.4L386.1 160.1L386.4 161.7L386.6 163.2L386.9 164.5L387.1 165.6L387.4 166.5L387.6 167.3L387.9 167.8L388.1 168.1L388.4 168.3L388.6 168.2L388.9 167.9L389.1 167.4L389.4 166.7L389.6 165.8L389.9 164.7L390.1 163.4L390.4 161.9L390.6 160.2L390.9 158.4L391.1 156.5L391.4 154.4L391.6 152.3L391.9 150.0L392.1 147.6L392.4 145.2L392.6 142.8L392.9 140.3L393.1 137.9L393.4 135.5L393.6 133.1L393.9 130.8L394.1 128.5L394.4 126.4L394.6 124.4L394.9 122.5L395.1 120.8L395.4 119.3L395.6 117.9L395.9 116.8L396.1 115.9L396.4 115.2L396.6 114.7L396.9 114.4L397.1 114.4L397.4 114.6L397.6 115.1L397.9 115.7L398.1 116.6L398.4 117.8L398.6 119.1L398.9 120.7L399.1 122.4L399.4 124.3L399.6 126.3L399.9 128.5L400.1 130.8L400.4 133.2L400.6 135.7L400.9 138.2L401.1 140.8L401.4 143.4L401.6 145.9L401.9 148.4L402.1 150.9L402.4 153.3L402.6 155.6L402.9 157.7L403.1 159.7L403.4 161.5L403.6 163.2L403.9 164.6L404.1 165.9L404.4 166.9L404.6 167.7L404.9 168.2L405.1 168.5L405.4 168.6L405.6 168.4L405.9 167.9L406.1 167.2L406.4 166.3L406.6 165.2L406.9 163.8L407.1 162.2L407.4 160.4L407.6 158.5L407.9 156.4L408.1 154.1L408.4 151.7L408.6 149.3L408.9 146.7L409.1 144.1L409.4 141.5L409.6 138.9L409.9 136.2L410.1 133.7L410.4 131.2L410.6 128.8L410.9 126.5L411.1 124.3L411.4 122.3L411.6 120.5L411.9 118.9L412.1 117.5L412.4 116.3L412.6 115.4L412.9 114.7L413.1 114.3L413.4 114.1L413.6 114.2L413.9 114.5L414.1 115.1L414.4 116.0L414.6 117.1L414.9 118.4L415.1 120.0L415.4 121.8L415.6 123.7L415.9 125.9L416.1 128.1L416.4 130.6L416.6 133.1L416.9 135.7L417.1 138.4L417.4 141.1L417.6 143.8L417.9 146.4L418.1 149.1L418.4 151.6L418.6 154.1L418.9 156.4L419.1 158.6L419.4 160.6L419.6 162.5L419.9 164.1L420.1 165.5L420.4 166.7L420.6 167.6L420.9 168.3L421.1 168.7L421.4 168.8L421.6 168.7L421.9 168.3L422.1 167.6L422.4 166.7L422.6 165.6L422.9 164.2L423.1 162.5L423.4 160.7L423.6 158.7L423.9 156.5L424.1 154.2L424.4 151.7L424.6 149.2L424.9 146.5L425.1 143.8L425.4 141.1L425.6 138.4L425.9 135.8L426.1 133.1L426.4 130.6L426.6 128.1L426.9 125.8L427.1 123.7L427.4 121.7L427.6 119.9L427.9 118.3L428.1 117.0L428.4 115.8L428.6 115.0L428.9 114.4L429.1 114.0L429.4 113.9L429.6 114.1L429.9 114.6L430.1 115.3L430.4 116.2L430.6 117.5L430.9 118.9L431.1 120.6L431.4 122.5L431.6 124.5L431.9 126.8L432.1 129.1L432.4 131.6L432.6 134.2L432.9 136.9L433.1 139.6L433.4 142.4L433.6 145.1L433.9 147.8L434.1 150.4L434.4 152.9L434.6 155.4L434.9 157.7L435.1 159.8L435.4 161.7L435.6 163.5L435.9 165.0L436.1 166.3L436.4 167.4L436.6 168.2L436.9 168.7L437.1 168.9L437.4 168.9L437.6 168.6L437.9 168.0L438.1 167.2L438.4 166.1L438.6 164.7L438.9 163.1L439.1 161.3L439.4 159.3L439.6 157.1L439.9 154.7L440.1 152.2L440.4 149.6L440.6 146.9L440.9 144.1L441.1 141.3L441.4 138.5L441.6 135.7L441.9 133.0L442.1 130.4L442.4 127.9L442.6 125.5L442.9 123.3L443.1 121.2L443.4 119.4L443.6 117.8L443.9 116.5L444.1 115.4L444.4 114.6L444.6 114.1L444.9 113.8L445.1 113.9L445.4 114.2L445.6 114.9L445.9 115.8L446.1 117.0L446.4 118.4L446.6 120.1L446.9 122.1L447.1 124.2L447.4 126.5L447.6 129.0L447.9 131.6L448.1 134.3L448.4 137.1L448.6 139.9L448.9 142.8L449.1 145.6L449.4 148.4L449.6 151.1L449.9 153.7L450.1 156.2L450.4 158.5L450.6 160.7L450.9 162.6L451.1 164.3L451.4 165.8L451.6 167.0L451.9 167.9L452.1 168.6L452.4 168.9L452.6 169.0L452.9 168.8L453.1 168.3L453.4 167.5L453.6 166.4L453.9 165.1L454.1 163.5L454.4 161.8L454.6 159.7L454.9 157.6L455.1 155.2L455.4 152.7L455.6 150.1L455.9 147.4L456.1 144.6L456.4 141.9L456.6 139.1L456.9 136.3L457.1 133.6L457.4 131.0L457.6 128.4L457.9 126.0L458.1 123.8L458.4 121.8L458.6 119.9L458.9 118.3L459.1 116.9L459.4 115.7L459.6 114.8L459.9 114.2L460.1 113.9L460.4 113.8L460.6 114.0L460.9 114.5L461.1 115.2L461.4 116.3L461.6 117.5L461.9 119.0L462.1 120.8L462.4 122.7L462.6 124.8L462.9 127.1L463.1 129.6L463.4 132.1L463.6 134.8L463.9 137.5L464.1 140.2L464.4 143.0L464.6 145.7L464.9 148.4L465.1 151.1L465.4 153.6L465.6 156.0L465.9 158.3L466.1 160.4L466.4 162.3L466.6 164.0L466.9 165.5L467.1 166.7L467.4 167.7L467.6 168.4L467.9 168.8L468.1 169.0L468.4 168.9L468.6 168.5L468.9 167.8L469.1 166.8L469.4 165.6L469.6 164.2L469.9 162.5L470.1 160.6L470.4 158.4L470.6 156.2L470.9 153.7L471.1 151.1L471.4 148.5L471.6 145.7L471.9 142.9L472.1 140.1L472.4 137.3L472.6 134.6L472.9 131.9L473.1 129.3L473.4 126.8L473.6 124.5L473.9 122.4L474.1 120.4L474.4 118.7L474.6 117.2L474.9 116.0L475.1 115.0L475.4 114.3L475.6 113.9L475.9 113.8L476.1 114.0L476.4 114.4L476.6 115.2L476.9 116.2L477.1 117.5L477.4 119.0L477.6 120.8L477.9 122.8L478.1 124.9L478.4 127.3L478.6 129.8L478.9 132.4L479.1 135.2L479.4 138.0L479.6 140.8L479.9 143.6L480.1 146.4L480.4 149.2L480.6 151.9L480.9 154.4L481.1 156.9L481.4 159.1L481.6 161.2L481.9 163.1L482.1 164.7L482.4 166.1L482.6 167.3L482.9 168.1L483.1 168.7L483.4 169.0L483.6 169.0L483.9 168.7L484.1 168.1L484.4 167.2L484.6 166.0L484.9 164.6L485.1 162.9L485.4 161.0L485.6 158.9L485.9 156.7L486.1 154.2L486.4 151.6L486.6 148.9L486.9 146.1L487.1 143.3L487.4 140.4L487.6 137.5L487.9 134.7L488.1 132.0L488.4 129.3L488.6 126.8L488.9 124.5L489.1 122.3L489.4 120.3L489.6 118.6L489.9 117.1L490.1 115.8L490.4 114.9L490.6 114.2L490.9 113.9L491.1 113.8L491.4 114.1L491.6 114.6L491.9 115.4L492.1 116.6L492.4 118.0L492.6 119.6L492.9 121.5L493.1 123.6L493.4 125.9L493.6 128.4L493.9 131.0L494.1 133.8L494.4 136.6L494.6 139.4L494.9 142.3L495.1 145.2L495.4 148.0L495.6 150.8L495.9 153.4L496.1 156.0L496.4 158.3L496.6 160.5L496.9 162.5L497.1 164.2L497.4 165.7L497.6 166.9L497.9 167.9L498.1 168.5L498.4 168.9L498.6 169.0L498.9 168.8L499.1 168.3L499.4 167.5L499.6 166.4L499.9 165.1L500.1 163.6L500.4 161.8L500.6 159.8L500.9 157.6L501.1 155.2L501.4 152.7L501.6 150.1L501.9 147.4L502.1 144.7L502.4 141.9L502.6 139.1L502.9 136.3L503.1 133.6L503.4 131.0L503.6 128.5L503.9 126.1L504.1 123.9L504.4 121.9L504.6 120.0L504.9 118.4L505.1 117.0L505.4 115.8L505.6 114.9L505.9 114.3L506.1 113.9L506.4 113.8L506.6 114.0L506.9 114.4L507.1 115.1L507.4 116.1L507.6 117.3L507.9 118.7L508.1 120.4L508.4 122.2L508.6 124.3L508.9 126.5L509.1 128.9L509.4 131.4L509.6 133.9L509.9 136.6L510.1 139.3L510.4 142.0L510.6 144.7L510.9 147.4L511.1 150.0L511.4 152.6L511.6 155.0L511.9 157.3L512.1 159.4L512.4 161.4L512.6 163.2L512.9 164.8L513.1 166.1L513.4 167.2L513.6 168.0L513.9 168.6L514.1 168.9L514.4 169.0L514.6 168.8L514.9 168.3L515.1 167.5L515.4 166.5L515.6 165.2L515.9 163.7L516.1 162.0L516.4 160.1L516.6 158.0L516.9 155.7L517.1 153.2L517.4 150.7L517.6 148.0L517.9 145.3L518.1 142.6L518.4 139.8L518.6 137.1L518.9 134.4L519.1 131.7L519.4 129.2L519.6 126.8L519.9 124.5L520.1 122.4L520.4 120.5L520.6 118.8L520.9 117.3L521.1 116.1L521.4 115.1L521.6 114.4L521.9 114.0L522.1 113.8L522.4 113.9L522.6 114.3L522.9 115.0L523.1 115.9L523.4 117.1L523.6 118.6L523.9 120.2L524.1 122.1L524.4 124.2L524.6 126.5L524.9 128.9L525.1 131.4L525.4 134.1L525.6 136.8L525.9 139.5L526.1 142.3L526.4 145.1L526.6 147.8L526.9 150.5L527.1 153.1L527.4 155.5L527.6 157.9L527.9 160.0L528.1 162.0L528.4 163.7L528.6 165.2L528.9 166.5L529.1 167.5L529.4 168.3L529.6 168.8L529.9 169.0L530.1 168.9L530.4 168.6L530.6 167.9L530.9 167.0L531.1 165.9L531.4 164.4L531.6 162.8L531.9 160.9L532.1 158.9L532.4 156.6L532.6 154.2L532.9 151.7L533.1 149.1L533.4 146.3L533.6 143.6L533.9 140.8L534.1 138.0L534.4 135.3L534.6 132.6L534.9 130.0L535.1 127.5L535.4 125.2L535.6 123.0L535.9 121.0L536.1 119.2L536.4 117.7L536.6 116.4L536.9 115.3L537.1 114.5L537.4 114.0L537.6 113.8L537.9 113.9L538.1 114.2L538.4 114.8L538.6 115.7L538.9 116.9L539.1 118.3L539.4 119.9L539.6 121.8L539.9 123.9L540.1 126.1L540.4 128.5L540.6 131.1L540.9 133.7L541.1 136.4L541.4 139.2L541.6 142.0L541.9 144.8L542.1 147.5L542.4 150.2L542.6 152.8L542.9 155.3L543.1 157.7L543.4 159.8L543.6 161.8L543.9 163.6L544.1 165.1L544.4 166.4L544.6 167.5L544.9 168.3L545.1 168.8L545.4 169.0L545.6 168.9L545.9 168.6L546.1 167.9L546.4 167.1L546.6 165.9L546.9 164.5L547.1 162.8L547.4 160.9L547.6 158.9L547.9 156.6L548.1 154.2L548.4 151.7L548.6 149.0L548.9 146.3L549.1 143.5L549.4 140.7L549.6 138.0L549.9 135.2L550.1 132.5L550.4 129.9L550.6 127.4L550.9 125.1L551.1 122.9L551.4 120.9L551.6 119.2L551.9 117.6L552.1 116.3L552.4 115.3L552.6 114.5L552.9 114.0L553.1 113.8L553.4 113.9L553.6 114.2L553.9 114.9L554.1 115.8L554.4 116.9L554.6 118.4L554.9 120.0L555.1 121.9L555.4 124.0L555.6 126.2L555.9 128.6L556.1 131.2L556.4 133.8L556.6 136.6L556.9 139.3L557.1 142.1L557.4 144.9L557.6 147.7L557.9 150.4L558.1 153.0L558.4 155.4L558.6 157.8L558.9 159.9L559.1 161.9L559.4 163.7L559.6 165.2L559.9 166.5L560.1 167.5L560.4 168.3L560.6 168.8L560.9 169.0L561.1 168.9L561.4 168.6L561.6 167.9L561.9 167.0L562.1 165.9L562.4 164.5L562.6 162.8L562.9 160.9L563.1 158.9L563.4 156.6L563.6 154.2L563.9 151.7L564.1 149.1L564.4 146.3L564.6 143.6L564.9 140.8L565.1 138.0L565.4 135.3L565.6 132.6L565.9 130.0L566.1 127.5L566.4 125.2L566.6 123.0L566.9 121.0L567.1 119.3L567.4 117.7L567.6 116.4L567.9 115.4L568.1 114.6L568.4 114.1L568.6 113.8L568.9 113.9L569.1 114.2L569.4 114.8L569.6 115.7L569.9 116.8L570.1 118.2L570.4 119.8L570.6 121.6L570.9 123.7L571.1 125.9L571.4 128.3L571.6 130.8L571.9 133.4L572.1 136.1L572.4 138.8L572.6 141.6L572.9 144.4L573.1 147.1L573.4 149.8L573.6 152.4L573.9 154.9L574.1 157.2L574.4 159.4L574.6 161.4L574.9 163.2L575.1 164.8L575.4 166.2L575.6 167.3L575.9 168.1L576.1 168.7L576.4 169.0L576.6 169.0L576.9 168.7L577.1 168.2L577.4 167.4L577.6 166.3L577.9 165.0L578.1 163.4L578.4 161.7L578.6 159.7L578.9 157.5L579.1 155.2L579.4 152.7L579.6 150.2L579.9 147.5L580.1 144.8L580.4 142.1L580.6 139.3L580.9 136.6L581.1 133.9L581.4 131.3L581.6 128.8L581.9 126.4L582.1 124.2L582.4 122.1L582.6 120.3L582.9 118.6L583.1 117.2L583.4 116.0L583.6 115.1L583.9 114.4L584.1 113.9L584.4 113.8L584.6 113.9L584.9 114.3L585.1 115.0L585.4 115.9L585.6 117.0L585.9 118.5L586.1 120.1L586.4 121.9L586.6 123.9L586.9 126.1L587.1 128.5L587.4 131.0L587.6 133.5L587.9 136.2L588.1 138.9L588.4 141.6L588.6 144.4L588.9 147.1L589.1 149.7L589.4 152.3L589.6 154.7L589.9 157.1L590.1 159.2L590.4 161.2L590.6 163.0L590.9 164.6L591.1 166.0L591.4 167.1L591.6 168.0L591.9 168.6L592.1 168.9L592.4 169.0L592.6 168.8L592.9 168.3L593.1 167.5L593.4 166.5L593.6 165.3L593.9 163.8L594.1 162.0L594.4 160.1L594.6 158.0L594.9 155.7L595.1 153.2L595.4 150.7L595.6 148.0L595.9 145.3L596.1 142.5L596.4 139.8L596.6 137.0L596.9 134.3L597.1 131.6L597.4 129.1L597.6 126.7L597.9 124.4L598.1 122.3L598.4 120.4L598.6 118.7L598.9 117.2L599.1 116.0L599.4 115.0L599.6 114.3L599.9 113.9L600.1 113.8L600.4 114.0L600.6 114.4L600.9 115.1L601.1 116.1L601.4 117.3L601.6 118.8L601.9 120.6L602.1 122.5L602.4 124.6L602.6 126.9L602.9 129.4L603.1 132.0L603.4 134.7L603.6 137.4L603.9 140.2L604.1 143.0L604.4 145.8L604.6 148.5L604.9 151.2L605.1 153.8L605.4 156.2L605.6 158.5L605.9 160.6L606.1 162.5L606.4 164.2L606.6 165.7L606.9 166.9L607.1 167.8L607.4 168.5L607.6 168.9L607.9 169.0L608.1 168.8L608.4 168.4L608.6 167.6L608.9 166.6L609.1 165.4L609.4 163.8L609.6 162.1L609.9 160.1L610.1 158.0L610.4 155.7L610.6 153.2L610.9 150.6L611.1 148.0L611.4 145.2L611.6 142.4L611.9 139.6L612.1 136.8L612.4 134.1L612.6 131.5L612.9 128.9L613.1 126.5L613.4 124.2L613.6 122.1L613.9 120.2L614.1 118.5L614.4 117.1L614.6 115.9L614.9 114.9L615.1 114.3L615.4 113.9L615.6 113.8L615.9 114.0L616.1 114.5L616.4 115.2L616.6 116.2L616.9 117.5L617.1 119.0L617.4 120.7L617.6 122.7L617.9 124.9L618.1 127.2L618.4 129.6L618.6 132.2L618.9 134.9L619.1 137.7L619.4 140.5L619.6 143.2L619.9 146.0L620.1 148.8L620.4 151.4L620.6 154.0L620.9 156.4L621.1 158.7L621.4 160.7L621.6 162.6L621.9 164.3L622.1 165.7L622.4 166.9L622.6 167.9L622.9 168.5L623.1 168.9L623.4 169.0L623.6 168.8L623.9 168.3L624.1 167.6L624.4 166.6L624.6 165.3L624.9 163.8L625.1 162.1L625.4 160.1L625.6 158.0L625.9 155.7L626.1 153.2L626.4 150.7L626.6 148.0L626.9 145.3L627.1 142.5L627.4 139.7L627.6 136.9L627.9 134.2L628.1 131.6L628.4 129.0L628.6 126.6L628.9 124.3L629.1 122.2L629.4 120.3L629.6 118.7L629.9 117.2L630.1 116.0L630.4 115.0L630.6 114.3L630.9 113.9L631.1 113.8L631.4 113.9L631.6 114.4L631.9 115.1L632.1 116.0L632.4 117.2L632.6 118.7L632.9 120.4L633.1 122.3L633.4 124.4L633.6 126.7L633.9 129.1L634.1 131.6L634.4 134.2L634.6 137.0L634.9 139.7L635.1 142.5L635.4 145.2L635.6 148.0L635.9 150.6L636.1 153.2L636.4 155.6L636.6 157.9L636.9 160.1L637.1 162.0L637.4 163.8L637.6 165.3L637.9 166.5L638.1 167.6L638.4 168.3L638.6 168.8L638.9 169.0L639.1 168.9L639.4 168.6L639.6 167.9L639.9 167.0L640.1 165.9L640.4 164.4L640.6 162.8L640.9 160.9L641.1 158.9L641.4 156.6L641.6 154.2L641.9 151.7L642.1 149.1L642.4 146.3L642.6 143.6L642.9 140.8L643.1 138.0L643.4 135.2L643.6 132.6L643.9 130.0L644.1 127.5L644.4 125.1L644.6 123.0L644.9 121.0L645.1 119.2L645.4 117.7L645.6 116.4L645.9 115.3L646.1 114.5L646.4 114.0L646.6 113.8L646.9 113.9L647.1 114.2L647.4 114.8L647.6 115.7L647.9 116.9L648.1 118.3L648.4 120.0L648.6 121.8L648.9 123.9L649.1 126.2L649.4 128.6L649.6 131.1L649.9 133.8L650.1 136.5L650.4 139.3L650.6 142.1L650.9 144.9L651.1 147.6L651.4 150.3L651.6 152.9L651.9 155.4L652.1 157.7L652.4 159.9L652.6 161.9L652.9 163.6L653.1 165.2L653.4 166.5L653.6 167.5L653.9 168.3L654.1 168.8L654.4 169.0L654.6 168.9L654.9 168.6L655.1 167.9L655.4 167.0L655.6 165.9L655.9 164.5L656.1 162.8L656.4 160.9L656.6 158.9L656.9 156.6L657.1 154.2L657.4 151.7L657.6 149.1L657.9 146.3L658.1 143.6L658.4 140.8L658.6 138.0L658.9 135.3L659.1 132.6L659.4 130.0L659.6 127.5L659.9 125.2L660.1 123.0L660.4 121.1L660.6 119.3L660.9 117.7L661.1 116.4L661.4 115.4L661.6 114.6L661.9 114.1L662.1 113.8L662.4 113.9L662.6 114.2L662.9 114.8L663.1 115.6L663.4 116.7L663.6 118.1L663.9 119.7L664.1 121.5L664.4 123.6L664.6 125.8L664.9 128.1L665.1 130.6L665.4 133.2L665.6 135.9L665.9 138.7L666.1 141.4L666.4 144.2L666.6 147.0L666.9 149.6L667.1 152.2L667.4 154.7L667.6 157.1L667.9 159.3L668.1 161.3L668.4 163.1L668.6 164.7L668.9 166.1L669.1 167.2L669.4 168.1L669.6 168.6L669.9 168.9L670.1 169.0L670.4 168.7L670.6 168.2L670.9 167.4L671.1 166.3L671.4 165.0L671.6 163.5L671.9 161.7L672.1 159.7L672.4 157.5L672.6 155.2L672.9 152.7L673.1 150.1L673.4 147.5L673.6 144.7L673.9 141.9L674.1 139.2L674.4 136.4" fill="none" stroke="#0072bd" stroke-width="1.7" stroke-linejoin="round"/><path d="M50.6 141.4L50.9 141.4L51.1 141.4L51.4 141.4L51.6 141.4L51.9 141.4L52.1 141.4L52.4 141.4L52.6 141.4L52.9 141.4L53.1 141.4L53.4 141.4L53.6 141.4L53.9 141.4L54.1 141.4L54.4 141.4L54.6 141.4L54.9 141.4L55.1 141.4L55.4 141.4L55.6 141.5L55.9 141.5L56.1 141.5L56.4 141.5L56.6 141.5L56.9 141.5L57.1 141.5L57.4 141.5L57.6 141.5L57.9 141.6L58.1 141.6L58.4 141.6L58.6 141.6L58.9 141.6L59.1 141.7L59.4 141.7L59.6 141.7L59.9 141.7L60.1 141.8L60.4 141.8L60.6 141.8L60.9 141.9L61.1 141.9L61.4 141.9L61.6 142.0L61.9 142.0L62.1 142.0L62.4 142.1L62.6 142.1L62.9 142.2L63.1 142.2L63.4 142.3L63.6 142.3L63.9 142.3L64.1 142.4L64.3 142.4L64.6 142.5L64.8 142.5L65.1 142.6L65.3 142.6L65.6 142.7L65.8 142.7L66.1 142.7L66.3 142.8L66.6 142.8L66.8 142.9L67.1 142.9L67.3 142.9L67.6 143.0L67.8 143.0L68.1 143.0L68.3 143.0L68.6 143.1L68.8 143.0L69.1 143.0L69.3 143.0L69.6 142.9L69.8 142.9L70.1 142.8L70.3 142.7L70.6 142.6L70.8 142.5L71.1 142.4L71.3 142.3L71.6 142.2L71.8 142.0L72.1 141.9L72.3 141.7L72.6 141.6L72.8 141.4L73.1 141.2L73.3 141.0L73.6 140.8L73.8 140.5L74.1 140.3L74.3 140.0L74.6 139.7L74.8 139.3L75.1 139.0L75.3 138.6L75.6 138.2L75.8 137.8L76.1 137.3L76.3 136.9L76.6 136.4L76.8 135.9L77.1 135.4L77.3 134.9L77.6 134.3L77.8 133.8L78.1 133.2L78.3 132.7L78.6 132.1L78.8 131.5L79.1 131.0L79.3 130.5L79.6 129.9L79.8 129.4L80.1 128.8L80.3 128.3L80.6 127.7L80.8 127.2L81.1 126.7L81.3 126.3L81.6 125.9L81.8 125.5L82.1 125.1L82.3 124.8L82.6 124.6L82.8 124.3L83.1 124.2L83.3 124.1L83.6 124.0L83.8 124.0L84.1 124.0L84.3 124.1L84.6 124.2L84.8 124.3L85.1 124.6L85.3 124.8L85.6 125.1L85.8 125.5L86.1 125.8L86.3 126.3L86.6 126.8L86.8 127.3L87.1 127.9L87.3 128.5L87.6 129.2L87.8 129.9L88.1 130.7L88.3 131.5L88.6 132.4L88.8 133.3L89.1 134.2L89.3 135.2L89.6 136.2L89.8 137.2L90.1 138.3L90.3 139.4L90.6 140.5L90.8 141.6L91.1 142.7L91.3 143.9L91.6 145.0L91.8 146.2L92.1 147.3L92.3 148.5L92.6 149.5L92.8 150.6L93.1 151.6L93.3 152.7L93.6 153.7L93.8 154.7L94.1 155.6L94.3 156.6L94.6 157.5L94.8 158.4L95.1 159.3L95.3 160.1L95.6 160.9L95.8 161.5L96.1 162.1L96.3 162.5L96.6 162.8L96.8 163.0L97.1 163.0L97.3 163.0L97.6 162.8L97.8 162.5L98.1 162.0L98.3 161.5L98.6 161.0L98.8 160.3L99.1 159.6L99.3 158.8L99.6 158.0L99.8 157.1L100.1 156.1L100.3 155.1L100.6 154.0L100.8 152.9L101.1 151.7L101.3 150.5L101.6 149.2L101.8 147.9L102.1 146.5L102.3 145.1L102.6 143.6L102.8 142.0L103.1 140.5L103.3 138.9L103.6 137.3L103.8 135.7L104.1 134.1L104.3 132.6L104.6 131.0L104.8 129.6L105.1 128.1L105.3 126.7L105.6 125.4L105.8 124.2L106.1 123.0L106.3 122.0L106.6 121.0L106.8 120.2L107.1 119.5L107.3 118.9L107.6 118.5L107.8 118.1L108.1 118.0L108.3 117.9L108.6 118.1L108.8 118.3L109.1 118.7L109.3 119.3L109.6 120.0L109.8 120.8L110.1 121.8L110.3 122.9L110.6 124.2L110.8 125.5L111.1 126.9L111.3 128.5L111.6 130.1L111.8 131.8L112.1 133.6L112.3 135.4L112.6 137.3L112.8 139.2L113.1 141.1L113.3 143.0L113.6 144.9L113.8 146.8L114.1 148.7L114.3 150.5L114.6 152.2L114.8 153.9L115.1 155.5L115.3 157.0L115.6 158.4L115.8 159.8L116.1 161.0L116.3 162.1L116.6 163.1L116.8 163.9L117.1 164.6L117.3 165.2L117.6 165.6L117.8 165.9L118.1 166.1L118.3 166.1L118.6 165.9L118.8 165.6L119.1 165.1L119.3 164.6L119.6 163.8L119.8 163.0L120.1 162.0L120.3 160.8L120.6 159.6L120.8 158.2L121.1 156.8L121.3 155.2L121.6 153.6L121.8 151.8L122.1 150.1L122.3 148.2L122.6 146.3L122.8 144.4L123.1 142.5L123.3 140.5L123.6 138.6L123.8 136.6L124.1 134.7L124.3 132.8L124.6 131.0L124.8 129.3L125.1 127.6L125.3 125.9L125.6 124.4L125.8 123.0L126.1 121.7L126.3 120.5L126.6 119.4L126.8 118.5L127.1 117.7L127.3 117.0L127.6 116.6L127.8 116.2L128.1 116.0L128.3 116.0L128.6 116.1L128.8 116.4L129.1 116.9L129.3 117.5L129.6 118.3L129.8 119.2L130.1 120.2L130.3 121.4L130.6 122.8L130.8 124.2L131.1 125.8L131.3 127.5L131.6 129.3L131.8 131.1L132.1 133.1L132.3 135.0L132.6 137.1L132.8 139.2L133.1 141.3L133.3 143.4L133.6 145.5L133.8 147.6L134.1 149.6L134.3 151.6L134.6 153.5L134.8 155.4L135.1 157.1L135.3 158.8L135.6 160.3L135.8 161.7L136.1 163.0L136.3 164.1L136.6 165.1L136.8 165.9L137.1 166.5L137.3 166.9L137.6 167.2L137.8 167.2L138.1 167.1L138.3 166.8L138.6 166.2L138.8 165.5L139.1 164.6L139.3 163.6L139.6 162.3L139.8 160.9L140.1 159.3L140.3 157.6L140.6 155.8L140.8 153.8L141.1 151.8L141.3 149.7L141.6 147.5L141.8 145.2L142.1 142.9L142.3 140.6L142.6 138.3L142.8 136.0L143.1 133.8L143.3 131.6L143.6 129.5L143.8 127.5L144.1 125.6L144.3 123.8L144.6 122.2L144.8 120.7L145.1 119.3L145.3 118.2L145.6 117.2L145.8 116.5L146.1 115.9L146.3 115.5L146.6 115.4L146.8 115.4L147.1 115.7L147.3 116.1L147.6 116.8L147.8 117.6L148.1 118.7L148.3 119.9L148.6 121.3L148.8 122.8L149.1 124.5L149.3 126.3L149.6 128.3L149.8 130.3L150.1 132.4L150.3 134.6L150.6 136.9L150.8 139.1L151.1 141.4L151.3 143.7L151.6 146.0L151.8 148.2L152.1 150.4L152.3 152.5L152.6 154.5L152.8 156.4L153.1 158.2L153.3 159.9L153.6 161.4L153.8 162.8L154.1 164.0L154.3 165.1L154.6 165.9L154.8 166.6L155.1 167.2L155.3 167.5L155.6 167.6L155.8 167.6L156.1 167.3L156.3 166.9L156.6 166.3L156.8 165.5L157.1 164.5L157.3 163.3L157.6 162.0L157.8 160.6L158.1 159.0L158.3 157.3L158.6 155.4L158.8 153.5L159.1 151.5L159.3 149.4L159.6 147.2L159.8 145.1L160.1 142.8L160.3 140.6L160.6 138.4L160.8 136.2L161.1 134.0L161.3 131.9L161.6 129.9L161.8 127.9L162.1 126.0L162.3 124.3L162.6 122.7L162.8 121.2L163.1 119.8L163.3 118.6L163.6 117.6L163.8 116.7L164.1 116.0L164.3 115.5L164.6 115.2L164.8 115.1L165.1 115.1L165.3 115.4L165.6 115.8L165.8 116.4L166.1 117.2L166.3 118.2L166.6 119.4L166.8 120.7L167.1 122.1L167.3 123.7L167.6 125.5L167.8 127.3L168.1 129.3L168.3 131.4L168.6 133.5L168.8 135.7L169.1 137.9L169.3 140.2L169.6 142.4L169.8 144.7L170.1 146.9L170.3 149.2L170.6 151.3L170.8 153.4L171.1 155.4L171.3 157.3L171.6 159.0L171.8 160.7L172.1 162.2L172.3 163.5L172.6 164.7L172.8 165.7L173.1 166.5L173.3 167.1L173.6 167.5L173.8 167.8L174.1 167.8L174.3 167.6L174.6 167.2L174.8 166.6L175.1 165.8L175.3 164.9L175.6 163.7L175.8 162.4L176.1 160.9L176.3 159.2L176.6 157.4L176.8 155.5L177.1 153.5L177.3 151.3L177.6 149.1L177.8 146.9L178.1 144.6L178.3 142.2L178.6 139.9L178.8 137.6L179.1 135.3L179.3 133.0L179.6 130.8L179.8 128.7L180.1 126.7L180.3 124.8L180.6 123.1L180.8 121.4L181.1 120.0L181.3 118.7L181.6 117.6L181.8 116.7L182.1 116.0L182.3 115.4L182.6 115.1L182.8 115.0L183.1 115.1L183.3 115.4L183.6 115.9L183.8 116.6L184.1 117.5L184.3 118.6L184.6 119.9L184.8 121.3L185.1 122.9L185.3 124.6L185.6 126.5L185.8 128.5L186.1 130.5L186.3 132.7L186.6 134.9L186.8 137.2L187.1 139.5L187.3 141.8L187.6 144.1L187.8 146.4L188.1 148.7L188.3 150.9L188.6 153.0L188.8 155.0L189.1 156.9L189.3 158.7L189.6 160.4L189.8 161.9L190.1 163.3L190.3 164.5L190.6 165.5L190.8 166.3L191.1 167.0L191.3 167.5L191.6 167.7L191.8 167.8L192.1 167.7L192.3 167.3L192.6 166.8L192.8 166.1L193.1 165.2L193.3 164.1L193.6 162.9L193.8 161.5L194.1 159.9L194.3 158.2L194.6 156.4L194.8 154.5L195.1 152.4L195.3 150.3L195.6 148.2L195.8 145.9L196.1 143.7L196.3 141.4L196.6 139.1L196.8 136.9L197.1 134.6L197.3 132.5L197.6 130.4L197.8 128.3L198.1 126.4L198.3 124.6L198.6 122.9L198.8 121.4L199.1 120.0L199.3 118.7L199.6 117.6L199.8 116.7L200.1 116.0L200.3 115.5L200.6 115.2L200.8 115.0L201.1 115.1L201.3 115.3L201.6 115.7L201.8 116.4L202.1 117.2L202.3 118.2L202.6 119.3L202.8 120.7L203.1 122.1L203.3 123.8L203.6 125.5L203.8 127.4L204.1 129.3L204.3 131.4L204.6 133.5L204.8 135.7L205.1 138.0L205.3 140.2L205.6 142.5L205.8 144.8L206.1 147.0L206.3 149.2L206.6 151.3L206.8 153.4L207.1 155.4L207.3 157.3L207.6 159.0L207.8 160.6L208.1 162.1L208.3 163.4L208.6 164.6L208.8 165.6L209.1 166.4L209.3 167.1L209.6 167.5L209.8 167.7L210.1 167.8L210.3 167.7L210.6 167.3L210.8 166.8L211.1 166.1L211.3 165.2L211.6 164.1L211.8 162.8L212.1 161.4L212.3 159.9L212.6 158.2L212.8 156.4L213.1 154.5L213.3 152.4L213.6 150.3L213.8 148.2L214.1 145.9L214.3 143.7L214.6 141.4L214.8 139.2L215.1 136.9L215.3 134.7L215.6 132.5L215.8 130.4L216.1 128.4L216.3 126.5L216.6 124.7L216.8 123.0L217.1 121.4L217.3 120.0L217.6 118.8L217.8 117.7L218.1 116.8L218.3 116.0L218.6 115.5L218.8 115.2L219.1 115.0L219.3 115.0L219.6 115.3L219.8 115.7L220.1 116.3L220.3 117.1L220.6 118.1L220.8 119.2L221.1 120.5L221.3 122.0L221.6 123.6L221.8 125.3L222.1 127.2L222.3 129.1L222.6 131.2L222.8 133.3L223.1 135.5L223.3 137.7L223.6 139.9L223.8 142.2L224.1 144.4L224.3 146.6L224.6 148.8L224.8 151.0L225.1 153.0L225.3 155.0L225.6 156.9L225.8 158.6L226.1 160.3L226.3 161.8L226.6 163.1L226.8 164.3L227.1 165.3L227.3 166.2L227.6 166.9L227.8 167.4L228.1 167.7L228.3 167.8L228.6 167.7L228.8 167.5L229.1 167.0L229.3 166.4L229.6 165.6L229.8 164.6L230.1 163.5L230.3 162.2L230.6 160.7L230.8 159.1L231.1 157.4L231.3 155.6L231.6 153.6L231.8 151.6L232.1 149.5L232.3 147.4L232.6 145.2L232.8 143.0L233.1 140.8L233.3 138.5L233.6 136.3L233.8 134.2L234.1 132.1L234.3 130.0L234.6 128.1L234.8 126.2L235.1 124.4L235.3 122.8L235.6 121.3L235.8 119.9L236.1 118.7L236.3 117.6L236.6 116.8L236.8 116.0L237.1 115.5L237.3 115.2L237.6 115.0L237.8 115.0L238.1 115.3L238.3 115.7L238.6 116.2L238.8 117.0L239.1 117.9L239.3 119.0L239.6 120.3L239.8 121.7L240.1 123.2L240.3 124.9L240.6 126.7L240.8 128.6L241.1 130.6L241.3 132.7L241.6 134.8L241.8 137.0L242.1 139.2L242.3 141.4L242.6 143.6L242.8 145.8L243.1 148.0L243.3 150.2L243.6 152.2L243.8 154.2L244.1 156.1L244.3 157.9L244.6 159.6L244.8 161.1L245.1 162.5L245.3 163.8L245.6 164.9L245.8 165.8L246.1 166.6L246.3 167.2L246.6 167.6L246.8 167.8L247.1 167.8L247.3 167.6L247.6 167.3L247.8 166.7L248.1 166.0L248.3 165.1L248.6 164.0L248.8 162.8L249.1 161.4L249.3 159.9L249.6 158.2L249.8 156.5L250.1 154.6L250.3 152.6L250.6 150.5L250.8 148.4L251.1 146.2L251.3 144.0L251.6 141.8L251.8 139.6L252.1 137.4L252.3 135.2L252.6 133.0L252.8 130.9L253.1 128.9L253.3 127.0L253.6 125.2L253.8 123.5L254.1 121.9L254.3 120.5L254.6 119.2L254.8 118.1L255.1 117.1L255.3 116.3L255.6 115.7L255.8 115.3L256.1 115.1L256.4 115.0L256.6 115.1L256.9 115.5L257.1 116.0L257.4 116.7L257.6 117.5L257.9 118.6L258.1 119.8L258.4 121.1L258.6 122.6L258.9 124.2L259.1 126.0L259.4 127.9L259.6 129.8L259.9 131.9L260.1 134.0L260.4 136.1L260.6 138.3L260.9 140.5L261.1 142.8L261.4 145.0L261.6 147.2L261.9 149.3L262.1 151.4L262.4 153.4L262.6 155.4L262.9 157.2L263.1 158.9L263.4 160.5L263.6 162.0L263.9 163.3L264.1 164.5L264.4 165.5L264.6 166.3L264.9 166.9L265.1 167.4L265.4 167.7L265.6 167.8L265.9 167.7L266.1 167.5L266.4 167.0L266.6 166.4L266.9 165.6L267.1 164.6L267.4 163.4L267.6 162.2L267.9 160.7L268.1 159.1L268.4 157.4L268.6 155.6L268.9 153.7L269.1 151.7L269.4 149.7L269.6 147.5L269.9 145.4L270.1 143.2L270.4 141.0L270.6 138.8L270.9 136.6L271.1 134.4L271.4 132.3L271.6 130.3L271.9 128.3L272.1 126.4L272.4 124.7L272.6 123.0L272.9 121.5L273.1 120.1L273.4 118.9L273.6 117.8L273.9 116.9L274.1 116.2L274.4 115.6L274.6 115.2L274.9 115.0L275.1 115.0L275.4 115.2L275.6 115.6L275.9 116.1L276.1 116.8L276.4 117.7L276.6 118.8L276.9 120.0L277.1 121.4L277.4 122.9L277.6 124.6L277.9 126.3L278.1 128.2L278.4 130.2L278.6 132.2L278.9 134.3L279.1 136.5L279.4 138.7L279.6 140.9L279.9 143.2L280.1 145.4L280.4 147.6L280.6 149.7L280.9 151.8L281.1 153.8L281.4 155.7L281.6 157.6L281.9 159.3L282.1 160.9L282.4 162.3L282.6 163.6L282.9 164.7L283.1 165.7L283.4 166.5L283.6 167.1L283.9 167.5L284.1 167.7L284.4 167.8L284.6 167.6L284.9 167.3L285.1 166.8L285.4 166.1L285.6 165.2L285.9 164.1L286.1 162.9L286.4 161.5L286.6 160.0L286.9 158.3L287.1 156.5L287.4 154.6L287.6 152.6L287.9 150.5L288.1 148.4L288.4 146.2L288.6 143.9L288.9 141.7L289.1 139.4L289.4 137.2L289.6 135.0L289.9 132.8L290.1 130.7L290.4 128.7L290.6 126.8L290.9 124.9L291.1 123.2L291.4 121.7L291.6 120.2L291.9 119.0L292.1 117.9L292.4 116.9L292.6 116.2L292.9 115.6L293.1 115.2L293.4 115.0L293.6 115.0L293.9 115.2L294.1 115.6L294.4 116.2L294.6 116.9L294.9 117.9L295.1 119.0L295.4 120.3L295.6 121.7L295.9 123.3L296.1 125.0L296.4 126.8L296.6 128.7L296.9 130.8L297.1 132.9L297.4 135.0L297.6 137.2L297.9 139.5L298.1 141.7L298.4 144.0L298.6 146.2L298.9 148.4L299.1 150.5L299.4 152.6L299.6 154.6L299.9 156.5L300.1 158.3L300.4 159.9L300.6 161.5L300.9 162.9L301.1 164.1L301.4 165.2L301.6 166.0L301.9 166.8L302.1 167.3L302.4 167.6L302.6 167.8L302.9 167.8L303.1 167.5L303.4 167.1L303.6 166.5L303.9 165.7L304.1 164.8L304.4 163.7L304.6 162.4L304.9 161.0L305.1 159.4L305.4 157.7L305.6 155.9L305.9 153.9L306.1 151.9L306.4 149.9L306.6 147.7L306.9 145.5L307.1 143.3L307.4 141.1L307.6 138.8L307.9 136.6L308.1 134.4L308.4 132.3L308.6 130.2L308.9 128.2L309.1 126.4L309.4 124.6L309.6 122.9L309.9 121.4L310.1 120.0L310.4 118.8L310.6 117.7L310.9 116.8L311.1 116.1L311.4 115.5L311.6 115.2L311.9 115.0L312.1 115.0L312.4 115.2L312.6 115.7L312.9 116.2L313.1 117.0L313.4 117.9L313.6 119.1L313.9 120.3L314.1 121.8L314.4 123.3L314.6 125.0L314.9 126.8L315.1 128.8L315.4 130.8L315.6 132.9L315.9 135.0L316.1 137.2L316.4 139.5L316.6 141.7L316.9 144.0L317.1 146.2L317.4 148.4L317.6 150.5L317.9 152.6L318.1 154.6L318.4 156.5L318.6 158.3L318.9 160.0L319.1 161.5L319.4 162.9L319.6 164.1L319.9 165.2L320.1 166.1L320.4 166.8L320.6 167.3L320.9 167.7L321.1 167.8L321.4 167.7L321.6 167.5L321.9 167.1L322.1 166.4L322.4 165.6L322.6 164.6L322.9 163.5L323.1 162.2L323.4 160.7L323.6 159.1L323.9 157.3L324.1 155.5L324.4 153.5L324.6 151.4L324.9 149.3L325.1 147.1L325.4 144.9L325.6 142.6L325.9 140.3L326.1 138.1L326.4 135.8L326.6 133.7L326.9 131.5L327.1 129.4L327.4 127.5L327.6 125.6L327.9 123.8L328.1 122.2L328.4 120.7L328.6 119.4L328.9 118.2L329.1 117.2L329.4 116.4L329.6 115.8L329.9 115.3L330.1 115.1L330.4 115.0L330.6 115.1L330.9 115.5L331.1 116.0L331.4 116.7L331.6 117.6L331.9 118.7L332.1 119.9L332.4 121.3L332.6 122.8L332.9 124.5L333.1 126.3L333.4 128.2L333.6 130.2L333.9 132.3L334.1 134.5L334.4 136.7L334.6 138.9L334.9 141.2L335.1 143.5L335.4 145.7L335.6 147.9L335.9 150.1L336.1 152.2L336.4 154.2L336.6 156.1L336.9 158.0L337.1 159.6L337.4 161.2L337.6 162.6L337.9 163.9L338.1 165.0L338.4 165.9L338.6 166.7L338.9 167.2L339.1 167.6L339.4 167.8L339.6 167.8L339.9 167.6L340.1 167.2L340.4 166.6L340.6 165.8L340.9 164.9L341.1 163.8L341.4 162.5L341.6 161.1L341.9 159.5L342.1 157.8L342.4 155.9L342.6 154.0L342.9 152.0L343.1 149.9L343.4 147.7L343.6 145.5L343.9 143.3L344.1 141.0L344.4 138.8L344.6 136.6L344.9 134.4L345.1 132.2L345.4 130.1L345.6 128.2L345.9 126.3L346.1 124.5L346.4 122.8L346.6 121.3L346.9 119.9L347.1 118.7L347.4 117.6L347.6 116.7L347.9 116.0L348.1 115.5L348.4 115.2L348.6 115.0L348.9 115.1L349.1 115.3L349.4 115.7L349.6 116.3L349.9 117.1L350.1 118.1L350.4 119.3L350.6 120.6L350.9 122.0L351.1 123.6L351.4 125.3L351.6 127.2L351.9 129.1L352.1 131.2L352.4 133.3L352.6 135.4L352.9 137.7L353.1 139.9L353.4 142.2L353.6 144.4L353.9 146.6L354.1 148.8L354.4 150.9L354.6 153.0L354.9 155.0L355.1 156.9L355.4 158.6L355.6 160.3L355.9 161.8L356.1 163.1L356.4 164.3L356.6 165.4L356.9 166.2L357.1 166.9L357.4 167.4L357.6 167.7L357.9 167.8L358.1 167.7L358.4 167.4L358.6 167.0L358.9 166.3L359.1 165.5L359.4 164.5L359.6 163.3L359.9 162.0L360.1 160.5L360.4 158.9L360.6 157.2L360.9 155.3L361.1 153.4L361.4 151.3L361.6 149.2L361.9 147.0L362.1 144.8L362.4 142.6L362.6 140.3L362.9 138.1L363.1 135.9L363.4 133.7L363.6 131.6L363.9 129.5L364.1 127.6L364.4 125.7L364.6 124.0L364.9 122.3L365.1 120.8L365.4 119.5L365.6 118.3L365.9 117.3L366.1 116.5L366.4 115.8L366.6 115.3L366.9 115.1L367.1 115.0L367.4 115.1L367.6 115.4L367.9 115.8L368.1 116.5L368.4 117.4L368.6 118.4L368.9 119.6L369.1 121.0L369.4 122.5L369.6 124.1L369.9 125.9L370.1 127.8L370.4 129.8L370.6 131.8L370.9 134.0L371.1 136.2L371.4 138.4L371.6 140.7L371.9 143.0L372.1 145.2L372.4 147.5L372.6 149.7L372.9 151.8L373.1 153.9L373.4 155.8L373.6 157.7L373.9 159.4L374.1 161.0L374.4 162.5L374.6 163.8L374.9 165.0L375.1 165.9L375.4 166.7L375.6 167.3L375.9 167.7L376.1 168.0L376.4 168.0L376.6 167.8L376.9 167.5L377.1 166.9L377.4 166.2L377.6 165.2L377.9 164.1L378.1 162.9L378.4 161.5L378.6 159.9L378.9 158.2L379.1 156.4L379.4 154.4L379.6 152.4L379.9 150.3L380.1 148.1L380.4 145.9L380.6 143.6L380.9 141.3L381.1 139.0L381.4 136.7L381.6 134.5L381.9 132.3L382.1 130.2L382.4 128.1L382.6 126.2L382.9 124.3L383.1 122.6L383.4 121.0L383.6 119.6L383.9 118.3L384.1 117.3L384.4 116.3L384.6 115.6L384.9 115.1L385.1 114.7L385.4 114.6L385.6 114.7L385.9 114.9L386.1 115.4L386.4 116.1L386.6 116.9L386.9 118.0L387.1 119.2L387.4 120.6L387.6 122.2L387.9 123.9L388.1 125.8L388.4 127.8L388.6 129.9L388.9 132.1L389.1 134.4L389.4 136.7L389.6 139.1L389.9 141.5L390.1 143.9L390.4 146.3L390.6 148.6L390.9 150.9L391.1 153.1L391.4 155.3L391.6 157.3L391.9 159.2L392.1 161.0L392.4 162.6L392.6 164.0L392.9 165.3L393.1 166.3L393.4 167.1L393.6 167.8L393.9 168.2L394.1 168.4L394.4 168.3L394.6 168.0L394.9 167.5L395.1 166.8L395.4 165.9L395.6 164.7L395.9 163.4L396.1 161.8L396.4 160.1L396.6 158.2L396.9 156.1L397.1 154.0L397.4 151.7L397.6 149.3L397.9 146.8L398.1 144.3L398.4 141.8L398.6 139.3L398.9 136.7L399.1 134.2L399.4 131.8L399.6 129.5L399.9 127.2L400.1 125.1L400.4 123.1L400.6 121.3L400.9 119.7L401.1 118.2L401.4 117.0L401.6 116.0L401.9 115.2L402.1 114.6L402.4 114.3L402.6 114.3L402.9 114.5L403.1 114.9L403.4 115.6L403.6 116.5L403.9 117.6L404.1 119.0L404.4 120.5L404.6 122.3L404.9 124.2L405.1 126.3L405.4 128.5L405.6 130.9L405.9 133.3L406.1 135.8L406.4 138.4L406.6 141.0L406.9 143.6L407.1 146.2L407.4 148.8L407.6 151.2L407.9 153.6L408.1 155.9L408.4 158.1L408.6 160.1L408.9 161.9L409.1 163.5L409.4 165.0L409.6 166.2L409.9 167.2L410.1 167.9L410.4 168.4L410.6 168.7L410.9 168.6L411.1 168.4L411.4 167.8L411.6 167.1L411.9 166.0L412.1 164.8L412.4 163.3L412.6 161.6L412.9 159.7L413.1 157.7L413.4 155.4L413.6 153.1L413.9 150.6L414.1 148.0L414.4 145.4L414.6 142.7L414.9 140.1L415.1 137.4L415.4 134.7L415.6 132.2L415.9 129.7L416.1 127.3L416.4 125.1L416.6 123.0L416.9 121.1L417.1 119.4L417.4 117.9L417.6 116.6L417.9 115.6L418.1 114.8L418.4 114.3L418.6 114.0L418.9 114.1L419.1 114.3L419.4 114.9L419.6 115.7L419.9 116.8L420.1 118.1L420.4 119.6L420.6 121.3L420.9 123.3L421.1 125.4L421.4 127.7L421.6 130.1L421.9 132.6L422.1 135.2L422.4 137.9L422.6 140.6L422.9 143.3L423.1 146.0L423.4 148.6L423.6 151.2L423.9 153.7L424.1 156.0L424.4 158.3L424.6 160.3L424.9 162.2L425.1 163.9L425.4 165.3L425.6 166.5L425.9 167.5L426.1 168.2L426.4 168.7L426.6 168.9L426.9 168.8L427.1 168.4L427.4 167.8L427.6 167.0L427.9 165.8L428.1 164.5L428.4 162.9L428.6 161.1L428.9 159.1L429.1 157.0L429.4 154.7L429.6 152.2L429.9 149.7L430.1 147.1L430.4 144.4L430.6 141.7L430.9 138.9L431.1 136.2L431.4 133.6L431.6 131.0L431.9 128.5L432.1 126.2L432.4 124.0L432.6 122.0L432.9 120.1L433.1 118.5L433.4 117.1L433.6 115.9L433.9 115.0L434.1 114.4L434.4 114.0L434.6 113.9L434.9 114.0L435.1 114.5L435.4 115.2L435.6 116.1L435.9 117.3L436.1 118.8L436.4 120.5L436.6 122.4L436.9 124.4L437.1 126.7L437.4 129.1L437.6 131.6L437.9 134.3L438.1 137.0L438.4 139.7L438.6 142.5L438.9 145.3L439.1 148.0L439.4 150.6L439.6 153.2L439.9 155.7L440.1 158.0L440.4 160.1L440.6 162.1L440.9 163.8L441.1 165.3L441.4 166.6L441.6 167.6L441.9 168.3L442.1 168.8L442.4 169.0L442.6 168.9L442.9 168.5L443.1 167.8L443.4 166.8L443.6 165.6L443.9 164.1L444.1 162.4L444.4 160.4L444.6 158.3L444.9 155.9L445.1 153.4L445.4 150.8L445.6 148.1L445.9 145.3L446.1 142.5L446.4 139.6L446.6 136.8L446.9 134.0L447.1 131.3L447.4 128.7L447.6 126.3L447.9 124.0L448.1 121.8L448.4 119.9L448.6 118.3L448.9 116.8L449.1 115.7L449.4 114.8L449.6 114.2L449.9 113.9L450.1 113.8L450.4 114.1L450.6 114.7L450.9 115.5L451.1 116.6L451.4 118.0L451.6 119.6L451.9 121.5L452.1 123.5L452.4 125.8L452.6 128.2L452.9 130.8L453.1 133.4L453.4 136.2L453.6 139.0L453.9 141.8L454.1 144.6L454.4 147.4L454.6 150.1L454.9 152.7L455.1 155.2L455.4 157.6L455.6 159.7L455.9 161.7L456.1 163.5L456.4 165.1L456.6 166.4L456.9 167.4L457.1 168.2L457.4 168.7L457.6 169.0L457.9 168.9L458.1 168.6L458.4 168.0L458.6 167.1L458.9 166.0L459.1 164.6L459.4 163.0L459.6 161.2L459.9 159.2L460.1 157.0L460.4 154.6L460.6 152.1L460.9 149.5L461.1 146.8L461.4 144.1L461.6 141.3L461.9 138.6L462.1 135.8L462.4 133.2L462.6 130.6L462.9 128.1L463.1 125.7L463.4 123.5L463.6 121.5L463.9 119.7L464.1 118.1L464.4 116.7L464.6 115.6L464.9 114.8L465.1 114.2L465.4 113.9L465.6 113.8L465.9 114.1L466.1 114.6L466.4 115.4L466.6 116.4L466.9 117.7L467.1 119.2L467.4 121.0L467.6 123.0L467.9 125.1L468.1 127.5L468.4 129.9L468.6 132.5L468.9 135.2L469.1 138.0L469.4 140.7L469.6 143.5L469.9 146.3L470.1 149.0L470.4 151.7L470.6 154.2L470.9 156.6L471.1 158.9L471.4 161.0L471.6 162.8L471.9 164.5L472.1 165.9L472.4 167.1L472.6 168.0L472.9 168.6L473.1 168.9L473.4 169.0L473.6 168.7L473.9 168.2L474.1 167.4L474.4 166.4L474.6 165.0L474.9 163.4L475.1 161.6L475.4 159.6L475.6 157.4L475.9 155.0L476.1 152.5L476.4 149.8L476.6 147.1L476.9 144.3L477.1 141.5L477.4 138.6L477.6 135.8L477.9 133.1L478.1 130.4L478.4 127.9L478.6 125.5L478.9 123.3L479.1 121.2L479.4 119.4L479.6 117.8L479.9 116.5L480.1 115.4L480.4 114.6L480.6 114.0L480.9 113.8L481.1 113.9L481.4 114.2L481.6 114.9L481.9 115.8L482.1 117.0L482.4 118.4L482.6 120.1L482.9 122.0L483.1 124.2L483.4 126.5L483.6 129.0L483.9 131.6L484.1 134.3L484.4 137.1L484.6 139.9L484.9 142.7L485.1 145.6L485.4 148.4L485.6 151.1L485.9 153.7L486.1 156.2L486.4 158.5L486.6 160.7L486.9 162.6L487.1 164.3L487.4 165.8L487.6 167.0L487.9 167.9L488.1 168.6L488.4 168.9L488.6 169.0L488.9 168.7L489.1 168.2L489.4 167.4L489.6 166.2L489.9 164.8L490.1 163.2L490.4 161.3L490.6 159.2L490.9 156.9L491.1 154.4L491.4 151.8L491.6 149.1L491.9 146.3L492.1 143.4L492.4 140.5L492.6 137.6L492.9 134.8L493.1 132.0L493.4 129.3L493.6 126.8L493.9 124.4L494.1 122.3L494.4 120.3L494.6 118.5L494.9 117.1L495.1 115.8L495.4 114.9L495.6 114.2L495.9 113.9L496.1 113.8L496.4 114.1L496.6 114.6L496.9 115.4L497.1 116.5L497.4 117.9L497.6 119.5L497.9 121.4L498.1 123.5L498.4 125.7L498.6 128.1L498.9 130.7L499.1 133.4L499.4 136.1L499.6 138.9L499.9 141.8L500.1 144.6L500.4 147.4L500.6 150.1L500.9 152.7L501.1 155.2L501.4 157.6L501.6 159.7L501.9 161.7L502.1 163.5L502.4 165.1L502.6 166.4L502.9 167.4L503.1 168.2L503.4 168.7L503.6 169.0L503.9 168.9L504.1 168.6L504.4 168.1L504.6 167.2L504.9 166.1L505.1 164.8L505.4 163.2L505.6 161.4L505.9 159.4L506.1 157.2L506.4 154.9L506.6 152.5L506.9 149.9L507.1 147.3L507.4 144.6L507.6 141.9L507.9 139.1L508.1 136.4L508.4 133.8L508.6 131.2L508.9 128.7L509.1 126.4L509.4 124.2L509.6 122.1L509.9 120.3L510.1 118.6L510.4 117.2L510.6 116.0L510.9 115.1L511.1 114.4L511.4 114.0L511.6 113.8L511.9 113.9L512.1 114.3L512.4 114.9L512.6 115.8L512.9 117.0L513.1 118.4L513.4 120.0L513.6 121.8L513.9 123.8L514.1 126.0L514.4 128.4L514.6 130.8L514.9 133.4L515.1 136.1L515.4 138.8L515.6 141.5L515.9 144.3L516.1 147.0L516.4 149.7L516.6 152.2L516.9 154.7L517.1 157.1L517.4 159.3L517.6 161.3L517.9 163.1L518.1 164.7L518.4 166.1L518.6 167.2L518.9 168.0L519.1 168.6L519.4 168.9L519.6 169.0L519.9 168.7L520.1 168.2L520.4 167.5L520.6 166.4L520.9 165.1L521.1 163.6L521.4 161.8L521.6 159.8L521.9 157.7L522.1 155.4L522.4 152.9L522.6 150.3L522.9 147.7L523.1 144.9L523.4 142.2L523.6 139.4L523.9 136.6L524.1 133.9L524.4 131.3L524.6 128.8L524.9 126.4L525.1 124.1L525.4 122.0L525.6 120.1L525.9 118.5L526.1 117.0L526.4 115.9L526.6 114.9L526.9 114.3L527.1 113.9L527.4 113.8L527.6 114.0L527.9 114.4L528.1 115.2L528.4 116.2L528.6 117.4L528.9 118.9L529.1 120.7L529.4 122.6L529.6 124.7L529.9 127.0L530.1 129.5L530.4 132.1L530.6 134.7L530.9 137.5L531.1 140.2L531.4 143.0L531.6 145.8L531.9 148.5L532.1 151.2L532.4 153.7L532.6 156.2L532.9 158.4L533.1 160.5L533.4 162.4L533.6 164.1L533.9 165.6L534.1 166.8L534.4 167.8L534.6 168.5L534.9 168.9L535.1 169.0L535.4 168.8L535.6 168.4L535.9 167.7L536.1 166.7L536.4 165.5L536.6 164.0L536.9 162.3L537.1 160.3L537.4 158.2L537.6 155.9L537.9 153.5L538.1 150.9L538.4 148.2L538.6 145.5L538.9 142.7L539.1 139.9L539.4 137.1L539.6 134.4L539.9 131.7L540.1 129.1L540.4 126.7L540.6 124.4L540.9 122.3L541.1 120.4L541.4 118.7L541.6 117.2L541.9 116.0L542.1 115.0L542.4 114.3L542.6 113.9L542.9 113.8L543.1 114.0L543.4 114.4L543.6 115.1L543.9 116.1L544.1 117.3L544.4 118.8L544.6 120.6L544.9 122.5L545.1 124.6L545.4 126.9L545.6 129.4L545.9 132.0L546.1 134.7L546.4 137.4L546.6 140.2L546.9 143.0L547.1 145.8L547.4 148.5L547.6 151.2L547.9 153.7L548.1 156.2L548.4 158.4L548.6 160.6L548.9 162.5L549.1 164.2L549.4 165.6L549.6 166.8L549.9 167.8L550.1 168.5L550.4 168.9L550.6 169.0L550.9 168.8L551.1 168.4L551.4 167.7L551.6 166.7L551.9 165.4L552.1 163.9L552.4 162.2L552.6 160.3L552.9 158.1L553.1 155.8L553.4 153.3L553.6 150.8L553.9 148.1L554.1 145.3L554.4 142.6L554.6 139.8L554.9 137.0L555.1 134.2L555.4 131.6L555.6 129.0L555.9 126.6L556.1 124.3L556.4 122.2L556.6 120.3L556.9 118.6L557.1 117.1L557.4 115.9L557.6 115.0L557.9 114.3L558.1 113.9L558.4 113.8L558.6 114.0L558.9 114.4L559.1 115.1L559.4 116.1L559.6 117.4L559.9 118.9L560.1 120.6L560.4 122.6L560.6 124.7L560.9 127.0L561.1 129.5L561.4 132.0L561.6 134.7L561.9 137.5L562.1 140.2L562.4 143.0L562.6 145.8L562.9 148.5L563.1 151.2L563.4 153.7L563.6 156.2L563.9 158.4L564.1 160.5L564.4 162.4L564.6 164.1L564.9 165.6L565.1 166.8L565.4 167.8L565.6 168.5L565.9 168.9L566.1 169.0L566.4 168.9L566.6 168.4L566.9 167.7L567.1 166.7L567.4 165.5L567.6 164.0L567.9 162.3L568.1 160.4L568.4 158.3L568.6 156.0L568.9 153.6L569.1 151.0L569.4 148.4L569.6 145.6L569.9 142.9L570.1 140.1L570.4 137.3L570.6 134.6L570.9 131.9L571.1 129.4L571.4 126.9L571.6 124.7L571.9 122.5L572.1 120.6L572.4 118.9L572.6 117.4L572.9 116.1L573.1 115.2L573.4 114.4L573.6 114.0L573.9 113.8L574.1 113.9L574.4 114.3L574.6 114.9L574.9 115.9L575.1 117.0L575.4 118.5L575.6 120.1L575.9 122.0L576.1 124.1L576.4 126.3L576.6 128.7L576.9 131.2L577.1 133.8L577.4 136.5L577.6 139.3L577.9 142.0L578.1 144.8L578.4 147.5L578.6 150.2L578.9 152.7L579.1 155.2L579.4 157.5L579.6 159.7L579.9 161.6L580.1 163.4L580.4 165.0L580.6 166.3L580.9 167.3L581.1 168.1L581.4 168.7L581.6 169.0L581.9 169.0L582.1 168.7L582.4 168.2L582.6 167.3L582.9 166.3L583.1 165.0L583.4 163.4L583.6 161.7L583.9 159.7L584.1 157.6L584.4 155.3L584.6 152.9L584.9 150.4L585.1 147.7L585.4 145.0L585.6 142.3L585.9 139.6L586.1 136.9L586.4 134.2L586.6 131.6L586.9 129.1L587.1 126.7L587.4 124.5L587.6 122.4L587.9 120.5L588.1 118.8L588.4 117.4L588.6 116.2L588.9 115.2L589.1 114.5L589.4 114.0L589.6 113.8L589.9 113.9L590.1 114.2L590.4 114.9L590.6 115.7L590.9 116.9L591.1 118.3L591.4 119.9L591.6 121.7L591.9 123.7L592.1 125.9L592.4 128.3L592.6 130.7L592.9 133.3L593.1 136.0L593.4 138.7L593.6 141.5L593.9 144.2L594.1 147.0L594.4 149.6L594.6 152.2L594.9 154.7L595.1 157.1L595.4 159.3L595.6 161.3L595.9 163.1L596.1 164.7L596.4 166.1L596.6 167.2L596.9 168.1L597.1 168.6L597.4 168.9L597.6 169.0L597.9 168.7L598.1 168.2L598.4 167.4L598.6 166.3L598.9 165.0L599.1 163.4L599.4 161.6L599.6 159.6L599.9 157.4L600.1 155.1L600.4 152.6L600.6 150.0L600.9 147.3L601.1 144.5L601.4 141.7L601.6 138.9L601.9 136.2L602.1 133.4L602.4 130.8L602.6 128.3L602.9 125.9L603.1 123.6L603.4 121.6L603.6 119.7L603.9 118.1L604.1 116.7L604.4 115.6L604.6 114.7L604.9 114.2L605.1 113.8L605.4 113.8L605.6 114.1L605.9 114.6L606.1 115.5L606.4 116.5L606.6 117.9L606.9 119.5L607.1 121.3L607.4 123.3L607.6 125.5L607.9 127.9L608.1 130.4L608.4 133.0L608.6 135.7L608.9 138.5L609.1 141.3L609.4 144.1L609.6 146.9L609.9 149.6L610.1 152.2L610.4 154.7L610.6 157.1L610.9 159.3L611.1 161.3L611.4 163.2L611.6 164.8L611.9 166.1L612.1 167.3L612.4 168.1L612.6 168.7L612.9 169.0L613.1 169.0L613.4 168.7L613.6 168.1L613.9 167.3L614.1 166.2L614.4 164.9L614.6 163.3L614.9 161.4L615.1 159.4L615.4 157.2L615.6 154.8L615.9 152.3L616.1 149.7L616.4 147.0L616.6 144.2L616.9 141.4L617.1 138.6L617.4 135.9L617.6 133.2L617.9 130.5L618.1 128.0L618.4 125.7L618.6 123.4L618.9 121.4L619.1 119.6L619.4 118.0L619.6 116.6L619.9 115.5L620.1 114.7L620.4 114.1L620.6 113.8L620.9 113.8L621.1 114.1L621.4 114.7L621.6 115.5L621.9 116.6L622.1 118.0L622.4 119.6L622.6 121.4L622.9 123.4L623.1 125.6L623.4 128.0L623.6 130.5L623.9 133.1L624.1 135.8L624.4 138.6L624.6 141.3L624.9 144.1L625.1 146.9L625.4 149.6L625.6 152.2L625.9 154.7L626.1 157.1L626.4 159.3L626.6 161.3L626.9 163.1L627.1 164.7L627.4 166.1L627.6 167.2L627.9 168.1L628.1 168.7L628.4 169.0L628.6 169.0L628.9 168.7L629.1 168.2L629.4 167.4L629.6 166.3L629.9 165.0L630.1 163.4L630.4 161.7L630.6 159.7L630.9 157.5L631.1 155.2L631.4 152.7L631.6 150.1L631.9 147.4L632.1 144.7L632.4 141.9L632.6 139.2L632.9 136.4L633.1 133.7L633.4 131.1L633.6 128.6L633.9 126.2L634.1 124.0L634.4 121.9L634.6 120.0L634.9 118.4L635.1 117.0L635.4 115.8L635.6 114.9L635.9 114.3L636.1 113.9L636.4 113.8L636.6 114.0L636.9 114.5L637.1 115.2L637.4 116.2L637.6 117.5L637.9 119.0L638.1 120.7L638.4 122.6L638.6 124.8L638.9 127.1L639.1 129.5L639.4 132.1L639.6 134.8L639.9 137.5L640.1 140.3L640.4 143.0L640.6 145.8L640.9 148.5L641.1 151.2L641.4 153.7L641.6 156.2L641.9 158.4L642.1 160.5L642.4 162.4L642.6 164.1L642.9 165.6L643.1 166.8L643.4 167.8L643.6 168.5L643.9 168.9L644.1 169.0L644.4 168.8L644.6 168.4L644.9 167.7L645.1 166.7L645.4 165.5L645.6 164.0L645.9 162.3L646.1 160.3L646.4 158.2L646.6 155.9L646.9 153.4L647.1 150.8L647.4 148.2L647.6 145.4L647.9 142.6L648.1 139.8L648.4 137.1L648.6 134.3L648.9 131.6L649.1 129.1L649.4 126.6L649.6 124.4L649.9 122.2L650.1 120.3L650.4 118.6L650.6 117.2L650.9 116.0L651.1 115.0L651.4 114.3L651.6 113.9L651.9 113.8L652.1 114.0L652.4 114.4L652.6 115.1L652.9 116.1L653.1 117.4L653.4 118.9L653.6 120.6L653.9 122.6L654.1 124.7L654.4 127.0L654.6 129.5L654.9 132.0L655.1 134.7L655.4 137.4L655.6 140.2L655.9 143.0L656.1 145.8L656.4 148.5L656.6 151.2L656.9 153.7L657.1 156.2L657.4 158.4L657.6 160.5L657.9 162.4L658.1 164.1L658.4 165.6L658.6 166.8L658.9 167.8L659.1 168.5L659.4 168.9L659.6 169.0L659.9 168.9L660.1 168.4L660.4 167.7L660.6 166.8L660.9 165.5L661.1 164.1L661.4 162.4L661.6 160.5L661.9 158.4L662.1 156.1L662.4 153.7L662.6 151.1L662.9 148.5L663.1 145.8L663.4 143.0L663.6 140.2L663.9 137.5L664.1 134.7L664.4 132.1L664.6 129.5L664.9 127.1L665.1 124.8L665.4 122.6L665.6 120.7L665.9 119.0L666.1 117.5L666.4 116.2L666.6 115.2L666.9 114.5L667.1 114.0L667.4 113.8L667.6 113.9L667.9 114.3L668.1 114.9L668.4 115.8L668.6 117.0L668.9 118.4L669.1 120.0L669.4 121.9L669.6 123.9L669.9 126.2L670.1 128.6L670.4 131.1L670.6 133.7L670.9 136.4L671.1 139.2L671.4 142.0L671.6 144.7L671.9 147.5L672.1 150.1L672.4 152.7L672.6 155.2L672.9 157.5L673.1 159.7L673.4 161.7L673.6 163.5L673.9 165.0L674.1 166.3L674.4 167.4" fill="none" stroke="#d95319" stroke-width="1.7" stroke-linejoin="round"/><path d="M50.6 141.4L50.9 141.4L51.1 141.4L51.4 141.4L51.6 141.4L51.9 141.4L52.1 141.4L52.4 141.4L52.6 141.4L52.9 141.4L53.1 141.4L53.4 141.4L53.6 141.4L53.9 141.4L54.1 141.4L54.4 141.4L54.6 141.4L54.9 141.4L55.1 141.4L55.4 141.5L55.6 141.5L55.9 141.5L56.1 141.5L56.4 141.5L56.6 141.5L56.9 141.5L57.1 141.6L57.4 141.6L57.6 141.6L57.9 141.6L58.1 141.6L58.4 141.7L58.6 141.7L58.9 141.7L59.1 141.8L59.4 141.8L59.6 141.8L59.9 141.9L60.1 141.9L60.4 142.0L60.6 142.0L60.9 142.1L61.1 142.1L61.4 142.2L61.6 142.3L61.9 142.3L62.1 142.4L62.4 142.4L62.6 142.5L62.9 142.6L63.1 142.7L63.4 142.8L63.6 142.9L63.9 143.0L64.1 143.1L64.3 143.2L64.6 143.3L64.8 143.4L65.1 143.5L65.3 143.7L65.6 143.8L65.8 143.9L66.1 144.1L66.3 144.2L66.6 144.4L66.8 144.6L67.1 144.7L67.3 144.9L67.6 145.1L67.8 145.4L68.1 145.6L68.3 145.8L68.6 146.1L68.8 146.3L69.1 146.6L69.3 146.8L69.6 147.1L69.8 147.3L70.1 147.6L70.3 147.9L70.6 148.1L70.8 148.4L71.1 148.7L71.3 148.9L71.6 149.2L71.8 149.5L72.1 149.8L72.3 150.0L72.6 150.3L72.8 150.6L73.1 150.9L73.3 151.3L73.6 151.6L73.8 152.0L74.1 152.3L74.3 152.7L74.6 153.1L74.8 153.5L75.1 153.8L75.3 154.2L75.6 154.5L75.8 154.8L76.1 155.1L76.3 155.4L76.6 155.6L76.8 155.8L77.1 156.1L77.3 156.3L77.6 156.4L77.8 156.6L78.1 156.7L78.3 156.8L78.6 156.9L78.8 156.9L79.1 156.9L79.3 156.9L79.6 156.8L79.8 156.7L80.1 156.6L80.3 156.4L80.6 156.2L80.8 155.9L81.1 155.5L81.3 155.1L81.6 154.7L81.8 154.2L82.1 153.7L82.3 153.1L82.6 152.4L82.8 151.8L83.1 151.1L83.3 150.3L83.6 149.5L83.8 148.7L84.1 147.9L84.3 147.1L84.6 146.2L84.8 145.4L85.1 144.5L85.3 143.6L85.6 142.6L85.8 141.7L86.1 140.7L86.3 139.8L86.6 138.8L86.8 137.8L87.1 136.8L87.3 135.8L87.6 134.9L87.8 133.9L88.1 132.9L88.3 131.9L88.6 131.0L88.8 130.0L89.1 129.1L89.3 128.3L89.6 127.4L89.8 126.6L90.1 125.8L90.3 125.1L90.6 124.4L90.8 123.7L91.1 123.2L91.3 122.6L91.6 122.1L91.8 121.7L92.1 121.3L92.3 121.0L92.6 120.8L92.8 120.6L93.1 120.5L93.3 120.5L93.6 120.5L93.8 120.6L94.1 120.8L94.3 121.0L94.6 121.4L94.8 121.9L95.1 122.4L95.3 123.1L95.6 124.0L95.8 124.9L96.1 126.0L96.3 127.2L96.6 128.4L96.8 129.8L97.1 131.2L97.3 132.7L97.6 134.2L97.8 135.7L98.1 137.2L98.3 138.7L98.6 140.1L98.8 141.5L99.1 143.0L99.3 144.4L99.6 145.7L99.8 147.1L100.1 148.4L100.3 149.6L100.6 150.9L100.8 152.1L101.1 153.3L101.3 154.5L101.6 155.6L101.8 156.7L102.1 157.8L102.3 158.8L102.6 159.7L102.8 160.6L103.1 161.4L103.3 162.2L103.6 162.8L103.8 163.3L104.1 163.8L104.3 164.1L104.6 164.3L104.8 164.3L105.1 164.3L105.3 164.1L105.6 163.8L105.8 163.3L106.1 162.8L106.3 162.1L106.6 161.2L106.8 160.3L107.1 159.2L107.3 158.0L107.6 156.7L107.8 155.3L108.1 153.8L108.3 152.2L108.6 150.6L108.8 148.8L109.1 147.1L109.3 145.2L109.6 143.4L109.8 141.5L110.1 139.6L110.3 137.7L110.6 135.8L110.8 134.0L111.1 132.2L111.3 130.5L111.6 128.8L111.8 127.2L112.1 125.7L112.3 124.2L112.6 122.9L112.8 121.7L113.1 120.7L113.3 119.7L113.6 118.9L113.8 118.3L114.1 117.8L114.3 117.4L114.6 117.2L114.8 117.1L115.1 117.2L115.3 117.4L115.6 117.8L115.8 118.3L116.1 118.9L116.3 119.7L116.6 120.6L116.8 121.7L117.1 122.9L117.3 124.1L117.6 125.5L117.8 127.0L118.1 128.6L118.3 130.3L118.6 132.0L118.8 133.8L119.1 135.6L119.3 137.5L119.6 139.4L119.8 141.3L120.1 143.2L120.3 145.2L120.6 147.1L120.8 148.9L121.1 150.7L121.3 152.5L121.6 154.2L121.8 155.9L122.1 157.4L122.3 158.9L122.6 160.2L122.8 161.5L123.1 162.6L123.3 163.6L123.6 164.4L123.8 165.2L124.1 165.7L124.3 166.2L124.6 166.5L124.8 166.6L125.1 166.6L125.3 166.4L125.6 166.1L125.8 165.6L126.1 165.0L126.3 164.2L126.6 163.3L126.8 162.2L127.1 161.0L127.3 159.7L127.6 158.3L127.8 156.7L128.1 155.1L128.3 153.4L128.6 151.5L128.8 149.7L129.1 147.7L129.3 145.7L129.6 143.7L129.8 141.7L130.1 139.6L130.3 137.6L130.6 135.6L130.8 133.6L131.1 131.7L131.3 129.8L131.6 128.0L131.8 126.2L132.1 124.6L132.3 123.1L132.6 121.7L132.8 120.4L133.1 119.2L133.3 118.2L133.6 117.4L133.8 116.7L134.1 116.2L134.3 115.9L134.6 115.7L134.8 115.7L135.1 115.9L135.3 116.3L135.6 116.8L135.8 117.5L136.1 118.4L136.3 119.5L136.6 120.7L136.8 122.1L137.1 123.6L137.3 125.3L137.6 127.1L137.8 129.0L138.1 131.0L138.3 133.0L138.6 135.2L138.8 137.4L139.1 139.6L139.3 141.9L139.6 144.2L139.8 146.4L140.1 148.6L140.3 150.8L140.6 152.9L140.8 154.9L141.1 156.8L141.3 158.6L141.6 160.2L141.8 161.7L142.1 163.1L142.3 164.3L142.6 165.3L142.8 166.1L143.1 166.7L143.3 167.1L143.6 167.4L143.8 167.4L144.1 167.2L144.3 166.8L144.6 166.2L144.8 165.4L145.1 164.4L145.3 163.2L145.6 161.9L145.8 160.3L146.1 158.7L146.3 156.9L146.6 154.9L146.8 152.9L147.1 150.8L147.3 148.6L147.6 146.3L147.8 144.0L148.1 141.7L148.3 139.4L148.6 137.1L148.8 134.8L149.1 132.6L149.3 130.5L149.6 128.4L149.8 126.5L150.1 124.6L150.3 122.9L150.6 121.4L150.8 120.0L151.1 118.7L151.3 117.7L151.6 116.8L151.8 116.1L152.1 115.6L152.3 115.3L152.6 115.2L152.8 115.3L153.1 115.6L153.3 116.1L153.6 116.8L153.8 117.6L154.1 118.6L154.3 119.8L154.6 121.2L154.8 122.7L155.1 124.3L155.3 126.1L155.6 127.9L155.8 129.9L156.1 132.0L156.3 134.1L156.6 136.3L156.8 138.5L157.1 140.7L157.3 142.9L157.6 145.2L157.8 147.3L158.1 149.5L158.3 151.6L158.6 153.6L158.8 155.5L159.1 157.4L159.3 159.1L159.6 160.7L159.8 162.1L160.1 163.4L160.3 164.6L160.6 165.5L160.8 166.3L161.1 167.0L161.3 167.4L161.6 167.6L161.8 167.7L162.1 167.6L162.3 167.3L162.6 166.8L162.8 166.1L163.1 165.2L163.3 164.2L163.6 163.0L163.8 161.7L164.1 160.2L164.3 158.5L164.6 156.8L164.8 154.9L165.1 152.9L165.3 150.9L165.6 148.8L165.8 146.6L166.1 144.4L166.3 142.1L166.6 139.9L166.8 137.6L167.1 135.4L167.3 133.3L167.6 131.1L167.8 129.1L168.1 127.2L168.3 125.3L168.6 123.6L168.8 122.0L169.1 120.5L169.3 119.2L169.6 118.1L169.8 117.1L170.1 116.3L170.3 115.7L170.6 115.3L170.8 115.0L171.1 115.0L171.3 115.2L171.6 115.6L171.8 116.2L172.1 116.9L172.3 117.9L172.6 119.0L172.8 120.3L173.1 121.8L173.3 123.4L173.6 125.2L173.8 127.0L174.1 129.0L174.3 131.1L174.6 133.3L174.8 135.6L175.1 137.9L175.3 140.2L175.6 142.5L175.8 144.8L176.1 147.1L176.3 149.4L176.6 151.6L176.8 153.7L177.1 155.7L177.3 157.6L177.6 159.4L177.8 161.0L178.1 162.5L178.3 163.8L178.6 165.0L178.8 165.9L179.1 166.7L179.3 167.3L179.6 167.6L179.8 167.8L180.1 167.7L180.3 167.5L180.6 167.0L180.8 166.3L181.1 165.5L181.3 164.4L181.6 163.2L181.8 161.8L182.1 160.2L182.3 158.5L182.6 156.6L182.8 154.7L183.1 152.6L183.3 150.4L183.6 148.2L183.8 145.9L184.1 143.6L184.3 141.3L184.6 138.9L184.8 136.6L185.1 134.4L185.3 132.1L185.6 130.0L185.8 127.9L186.1 126.0L186.3 124.2L186.6 122.5L186.8 120.9L187.1 119.5L187.3 118.3L187.6 117.3L187.8 116.4L188.1 115.8L188.3 115.3L188.6 115.1L188.8 115.0L189.1 115.1L189.3 115.5L189.6 116.0L189.8 116.7L190.1 117.7L190.3 118.8L190.6 120.0L190.8 121.5L191.1 123.0L191.3 124.7L191.6 126.6L191.8 128.5L192.1 130.6L192.3 132.7L192.6 134.9L192.8 137.1L193.1 139.4L193.3 141.7L193.6 144.0L193.8 146.2L194.1 148.4L194.3 150.6L194.6 152.7L194.8 154.7L195.1 156.7L195.3 158.5L195.6 160.1L195.8 161.7L196.1 163.0L196.3 164.3L196.6 165.3L196.8 166.2L197.1 166.9L197.3 167.4L197.6 167.7L197.8 167.8L198.1 167.7L198.3 167.4L198.6 167.0L198.8 166.3L199.1 165.5L199.3 164.4L199.6 163.2L199.8 161.9L200.1 160.4L200.3 158.7L200.6 157.0L200.8 155.1L201.1 153.1L201.3 151.0L201.6 148.9L201.8 146.7L202.1 144.4L202.3 142.2L202.6 139.9L202.8 137.6L203.1 135.4L203.3 133.2L203.6 131.1L203.8 129.0L204.1 127.1L204.3 125.2L204.6 123.5L204.8 121.9L205.1 120.4L205.3 119.1L205.6 118.0L205.8 117.0L206.1 116.3L206.3 115.7L206.6 115.2L206.8 115.0L207.1 115.0L207.3 115.2L207.6 115.6L207.8 116.1L208.1 116.9L208.3 117.8L208.6 118.9L208.8 120.2L209.1 121.6L209.3 123.2L209.6 124.9L209.8 126.7L210.1 128.7L210.3 130.7L210.6 132.8L210.8 135.0L211.1 137.2L211.3 139.5L211.6 141.8L211.8 144.0L212.1 146.3L212.3 148.5L212.6 150.6L212.8 152.7L213.1 154.7L213.3 156.7L213.6 158.4L213.8 160.1L214.1 161.6L214.3 163.0L214.6 164.2L214.8 165.3L215.1 166.2L215.3 166.9L215.6 167.4L215.8 167.7L216.1 167.8L216.3 167.7L216.6 167.4L216.8 167.0L217.1 166.3L217.3 165.5L217.6 164.5L217.8 163.3L218.1 162.0L218.3 160.5L218.6 158.8L218.8 157.1L219.1 155.2L219.3 153.2L219.6 151.1L219.8 149.0L220.1 146.8L220.3 144.6L220.6 142.3L220.8 140.1L221.1 137.8L221.3 135.6L221.6 133.4L221.8 131.3L222.1 129.2L222.3 127.3L222.6 125.4L222.8 123.7L223.1 122.1L223.3 120.6L223.6 119.3L223.8 118.2L224.1 117.2L224.3 116.4L224.6 115.7L224.8 115.3L225.1 115.1L225.3 115.0L225.6 115.1L225.8 115.5L226.1 116.0L226.3 116.7L226.6 117.5L226.8 118.6L227.1 119.8L227.3 121.2L227.6 122.7L227.8 124.3L228.1 126.1L228.3 127.9L228.6 129.9L228.8 132.0L229.1 134.1L229.3 136.3L229.6 138.5L229.8 140.7L230.1 142.9L230.3 145.1L230.6 147.3L230.8 149.5L231.1 151.6L231.3 153.6L231.6 155.5L231.8 157.4L232.1 159.1L232.3 160.7L232.6 162.1L232.8 163.4L233.1 164.6L233.3 165.6L233.6 166.4L233.8 167.0L234.1 167.5L234.3 167.7L234.6 167.8L234.8 167.7L235.1 167.4L235.3 166.9L235.6 166.3L235.8 165.4L236.1 164.4L236.3 163.2L236.6 161.9L236.8 160.5L237.1 158.8L237.3 157.1L237.6 155.3L237.8 153.3L238.1 151.3L238.3 149.2L238.6 147.1L238.8 144.9L239.1 142.7L239.3 140.4L239.6 138.2L239.8 136.0L240.1 133.9L240.3 131.8L240.6 129.7L240.8 127.8L241.1 125.9L241.3 124.2L241.6 122.6L241.8 121.1L242.1 119.7L242.3 118.5L242.6 117.5L242.8 116.6L243.1 116.0L243.3 115.5L243.6 115.1L243.8 115.0L244.1 115.1L244.3 115.3L244.6 115.7L244.8 116.3L245.1 117.1L245.3 118.1L245.6 119.2L245.8 120.5L246.1 122.0L246.3 123.5L246.6 125.2L246.8 127.1L247.1 129.0L247.3 131.0L247.6 133.1L247.8 135.2L248.1 137.4L248.3 139.6L248.6 141.9L248.8 144.1L249.1 146.3L249.3 148.5L249.6 150.6L249.8 152.7L250.1 154.6L250.3 156.5L250.6 158.3L250.8 159.9L251.1 161.5L251.3 162.8L251.6 164.1L251.8 165.1L252.1 166.0L252.3 166.7L252.6 167.3L252.8 167.6L253.1 167.8L253.3 167.8L253.6 167.6L253.8 167.2L254.1 166.6L254.3 165.8L254.6 164.9L254.8 163.8L255.1 162.5L255.3 161.1L255.6 159.5L255.8 157.9L256.1 156.1L256.4 154.2L256.6 152.2L256.9 150.1L257.1 148.0L257.4 145.8L257.6 143.6L257.9 141.3L258.1 139.1L258.4 136.9L258.6 134.7L258.9 132.6L259.1 130.5L259.4 128.5L259.6 126.6L259.9 124.9L260.1 123.2L260.4 121.6L260.6 120.2L260.9 119.0L261.1 117.9L261.4 117.0L261.6 116.2L261.9 115.6L262.1 115.2L262.4 115.0L262.6 115.0L262.9 115.2L263.1 115.5L263.4 116.1L263.6 116.8L263.9 117.7L264.1 118.7L264.4 120.0L264.6 121.3L264.9 122.8L265.1 124.5L265.4 126.2L265.6 128.1L265.9 130.0L266.1 132.1L266.4 134.2L266.6 136.3L266.9 138.5L267.1 140.7L267.4 142.9L267.6 145.1L267.9 147.3L268.1 149.5L268.4 151.5L268.6 153.5L268.9 155.5L269.1 157.3L269.4 159.0L269.6 160.6L269.9 162.0L270.1 163.3L270.4 164.5L270.6 165.5L270.9 166.3L271.1 166.9L271.4 167.4L271.6 167.7L271.9 167.8L272.1 167.7L272.4 167.4L272.6 167.0L272.9 166.4L273.1 165.6L273.4 164.6L273.6 163.4L273.9 162.2L274.1 160.7L274.4 159.1L274.6 157.4L274.9 155.6L275.1 153.7L275.4 151.7L275.6 149.6L275.9 147.5L276.1 145.3L276.4 143.1L276.6 140.9L276.9 138.7L277.1 136.5L277.4 134.3L277.6 132.2L277.9 130.2L278.1 128.2L278.4 126.3L278.6 124.6L278.9 122.9L279.1 121.4L279.4 120.0L279.6 118.8L279.9 117.7L280.1 116.8L280.4 116.1L280.6 115.5L280.9 115.2L281.1 115.0L281.4 115.0L281.6 115.2L281.9 115.6L282.1 116.2L282.4 117.0L282.6 117.9L282.9 119.0L283.1 120.3L283.4 121.7L283.6 123.3L283.9 125.0L284.1 126.8L284.4 128.7L284.6 130.7L284.9 132.8L285.1 135.0L285.4 137.2L285.6 139.4L285.9 141.7L286.1 143.9L286.4 146.2L286.6 148.4L286.9 150.5L287.1 152.6L287.4 154.6L287.6 156.5L287.9 158.3L288.1 160.0L288.4 161.5L288.6 162.9L288.9 164.1L289.1 165.2L289.4 166.1L289.6 166.8L289.9 167.3L290.1 167.6L290.4 167.8L290.6 167.7L290.9 167.5L291.1 167.1L291.4 166.5L291.6 165.6L291.9 164.7L292.1 163.5L292.4 162.2L292.6 160.7L292.9 159.1L293.1 157.4L293.4 155.5L293.6 153.6L293.9 151.5L294.1 149.4L294.4 147.2L294.6 145.0L294.9 142.8L295.1 140.5L295.4 138.2L295.6 136.0L295.9 133.8L296.1 131.7L296.4 129.6L296.6 127.7L296.9 125.8L297.1 124.0L297.4 122.4L297.6 120.9L297.9 119.6L298.1 118.4L298.4 117.4L298.6 116.5L298.9 115.9L299.1 115.4L299.4 115.1L299.6 115.0L299.9 115.1L300.1 115.4L300.4 115.9L300.6 116.5L300.9 117.4L301.1 118.4L301.4 119.5L301.6 120.9L301.9 122.4L302.1 124.0L302.4 125.7L302.6 127.6L302.9 129.5L303.1 131.6L303.4 133.7L303.6 135.9L303.9 138.1L304.1 140.3L304.4 142.5L304.6 144.8L304.9 147.0L305.1 149.1L305.4 151.2L305.6 153.3L305.9 155.2L306.1 157.1L306.4 158.8L306.6 160.4L306.9 161.9L307.1 163.3L307.4 164.4L307.6 165.4L307.9 166.3L308.1 166.9L308.4 167.4L308.6 167.7L308.9 167.8L309.1 167.7L309.4 167.4L309.6 167.0L309.9 166.3L310.1 165.5L310.4 164.5L310.6 163.3L310.9 162.0L311.1 160.5L311.4 158.9L311.6 157.2L311.9 155.3L312.1 153.4L312.4 151.3L312.6 149.2L312.9 147.1L313.1 144.9L313.4 142.6L313.6 140.4L313.9 138.2L314.1 135.9L314.4 133.8L314.6 131.6L314.9 129.6L315.1 127.6L315.4 125.8L315.6 124.0L315.9 122.4L316.1 120.9L316.4 119.6L316.6 118.4L316.9 117.4L317.1 116.5L317.4 115.9L317.6 115.4L317.9 115.1L318.1 115.0L318.4 115.1L318.6 115.4L318.9 115.9L319.1 116.5L319.4 117.4L319.6 118.4L319.9 119.6L320.1 120.9L320.4 122.4L320.6 124.1L320.9 125.8L321.1 127.7L321.4 129.7L321.6 131.8L321.9 133.9L322.1 136.1L322.4 138.4L322.6 140.6L322.9 142.9L323.1 145.1L323.4 147.4L323.6 149.5L323.9 151.7L324.1 153.7L324.4 155.7L324.6 157.5L324.9 159.3L325.1 160.9L325.4 162.3L325.6 163.6L325.9 164.8L326.1 165.7L326.4 166.5L326.6 167.1L326.9 167.5L327.1 167.8L327.4 167.8L327.6 167.6L327.9 167.3L328.1 166.7L328.4 166.0L328.6 165.0L328.9 163.9L329.1 162.7L329.4 161.2L329.6 159.7L329.9 158.0L330.1 156.1L330.4 154.2L330.6 152.2L330.9 150.1L331.1 147.9L331.4 145.7L331.6 143.4L331.9 141.2L332.1 138.9L332.4 136.6L332.6 134.4L332.9 132.3L333.1 130.2L333.4 128.2L333.6 126.3L333.9 124.5L334.1 122.8L334.4 121.3L334.6 119.9L334.9 118.6L335.1 117.6L335.4 116.7L335.6 116.0L335.9 115.5L336.1 115.1L336.4 115.0L336.6 115.1L336.9 115.3L337.1 115.8L337.4 116.4L337.6 117.2L337.9 118.2L338.1 119.3L338.4 120.7L338.6 122.1L338.9 123.7L339.1 125.5L339.4 127.3L339.6 129.3L339.9 131.3L340.1 133.5L340.4 135.6L340.6 137.9L340.9 140.1L341.1 142.4L341.4 144.6L341.6 146.8L341.9 149.0L342.1 151.1L342.4 153.2L342.6 155.2L342.9 157.0L343.1 158.8L343.4 160.4L343.6 161.9L343.9 163.3L344.1 164.4L344.4 165.5L344.6 166.3L344.9 167.0L345.1 167.4L345.4 167.7L345.6 167.8L345.9 167.7L346.1 167.4L346.4 166.9L346.6 166.3L346.9 165.4L347.1 164.4L347.4 163.2L347.6 161.9L347.9 160.4L348.1 158.7L348.4 157.0L348.6 155.1L348.9 153.1L349.1 151.1L349.4 148.9L349.6 146.7L349.9 144.5L350.1 142.3L350.4 140.0L350.6 137.8L350.9 135.6L351.1 133.4L351.4 131.3L351.6 129.2L351.9 127.3L352.1 125.4L352.4 123.7L352.6 122.1L352.9 120.6L353.1 119.3L353.4 118.2L353.6 117.2L353.9 116.4L354.1 115.8L354.4 115.3L354.6 115.1L354.9 115.0L355.1 115.1L355.4 115.5L355.6 116.0L355.9 116.7L356.1 117.6L356.4 118.6L356.6 119.8L356.9 121.2L357.1 122.7L357.4 124.4L357.6 126.2L357.9 128.0L358.1 130.0L358.4 132.1L358.6 134.2L358.9 136.4L359.1 138.6L359.4 140.9L359.6 143.1L359.9 145.4L360.1 147.6L360.4 149.7L360.6 151.8L360.9 153.9L361.1 155.8L361.4 157.6L361.6 159.3L361.9 160.9L362.1 162.4L362.4 163.6L362.6 164.8L362.9 165.7L363.1 166.5L363.4 167.1L363.6 167.5L363.9 167.8L364.1 167.8L364.4 167.6L364.6 167.3L364.9 166.8L365.1 166.0L365.4 165.1L365.6 164.1L365.9 162.8L366.1 161.4L366.4 159.9L366.6 158.2L366.9 156.4L367.1 154.5L367.4 152.5L367.6 150.4L367.9 148.3L368.1 146.1L368.4 143.8L368.6 141.6L368.9 139.3L369.1 137.1L369.4 134.9L369.6 132.7L369.9 130.6L370.1 128.6L370.4 126.6L370.6 124.8L370.9 123.1L371.1 121.5L371.4 120.1L371.6 118.8L371.9 117.7L372.1 116.8L372.4 116.0L372.6 115.4L372.9 115.1L373.1 114.9L373.4 114.9L373.6 115.1L373.9 115.5L374.1 116.1L374.4 116.9L374.6 117.9L374.9 119.0L375.1 120.3L375.4 121.7L375.6 123.3L375.9 125.1L376.1 126.9L376.4 128.9L376.6 130.9L376.9 133.1L377.1 135.3L377.4 137.5L377.6 139.7L377.9 142.0L378.1 144.3L378.4 146.6L378.6 148.8L378.9 150.9L379.1 153.0L379.4 155.0L379.6 157.0L379.9 158.8L380.1 160.4L380.4 162.0L380.6 163.4L380.9 164.6L381.1 165.6L381.4 166.5L381.6 167.2L381.9 167.7L382.1 168.0L382.4 168.1L382.6 168.1L382.9 167.8L383.1 167.3L383.4 166.6L383.6 165.8L383.9 164.7L384.1 163.5L384.4 162.1L384.6 160.6L384.9 158.9L385.1 157.0L385.4 155.1L385.6 153.0L385.9 150.9L386.1 148.7L386.4 146.4L386.6 144.1L386.9 141.7L387.1 139.4L387.4 137.0L387.6 134.7L387.9 132.5L388.1 130.3L388.4 128.1L388.6 126.1L388.9 124.2L389.1 122.4L389.4 120.8L389.6 119.4L389.9 118.1L390.1 117.0L390.4 116.1L390.6 115.3L390.9 114.8L391.1 114.6L391.4 114.5L391.6 114.6L391.9 115.0L392.1 115.6L392.4 116.4L392.6 117.4L392.9 118.6L393.1 120.0L393.4 121.6L393.6 123.4L393.9 125.3L394.1 127.3L394.4 129.5L394.6 131.8L394.9 134.1L395.1 136.6L395.4 139.0L395.6 141.5L395.9 144.0L396.1 146.5L396.4 149.0L396.6 151.3L396.9 153.6L397.1 155.8L397.4 157.9L397.6 159.9L397.9 161.6L398.1 163.2L398.4 164.6L398.6 165.8L398.9 166.8L399.1 167.6L399.4 168.1L399.6 168.4L399.9 168.5L400.1 168.3L400.4 167.9L400.6 167.2L400.9 166.3L401.1 165.2L401.4 163.8L401.6 162.3L401.9 160.6L402.1 158.6L402.4 156.6L402.6 154.4L402.9 152.0L403.1 149.6L403.4 147.1L403.6 144.6L403.9 142.0L404.1 139.4L404.4 136.8L404.6 134.3L404.9 131.8L405.1 129.4L405.4 127.1L405.6 125.0L405.9 123.0L406.1 121.1L406.4 119.5L406.6 118.0L406.9 116.8L407.1 115.8L407.4 115.0L407.6 114.5L407.9 114.2L408.1 114.2L408.4 114.4L408.6 114.9L408.9 115.6L409.1 116.6L409.4 117.8L409.6 119.2L409.9 120.8L410.1 122.6L410.4 124.6L410.6 126.8L410.9 129.1L411.1 131.5L411.4 134.0L411.6 136.6L411.9 139.2L412.1 141.9L412.4 144.6L412.6 147.2L412.9 149.8L413.1 152.3L413.4 154.7L413.6 156.9L413.9 159.1L414.1 161.0L414.4 162.8L414.6 164.4L414.9 165.7L415.1 166.8L415.4 167.7L415.6 168.3L415.9 168.7L416.1 168.8L416.4 168.6L416.6 168.1L416.9 167.4L417.1 166.5L417.4 165.3L417.6 163.8L417.9 162.2L418.1 160.3L418.4 158.3L418.6 156.1L418.9 153.7L419.1 151.3L419.4 148.7L419.6 146.0L419.9 143.3L420.1 140.6L420.4 137.9L420.6 135.3L420.9 132.7L421.1 130.1L421.4 127.7L421.6 125.4L421.9 123.3L422.1 121.4L422.4 119.6L422.6 118.1L422.9 116.8L423.1 115.7L423.4 114.9L423.6 114.3L423.9 114.0L424.1 114.0L424.4 114.2L424.6 114.7L424.9 115.5L425.1 116.5L425.4 117.8L425.6 119.3L425.9 121.0L426.1 122.9L426.4 124.9L426.6 127.2L426.9 129.6L427.1 132.1L427.4 134.7L427.6 137.3L427.9 140.0L428.1 142.7L428.4 145.4L428.6 148.1L428.9 150.7L429.1 153.2L429.4 155.6L429.6 157.9L429.9 160.0L430.1 161.9L430.4 163.6L430.6 165.1L430.9 166.4L431.1 167.4L431.4 168.1L431.6 168.7L431.9 168.9L432.1 168.9L432.4 168.6L432.6 168.0L432.9 167.2L433.1 166.1L433.4 164.7L433.6 163.2L433.9 161.4L434.1 159.4L434.4 157.3L434.6 155.0L434.9 152.5L435.1 149.9L435.4 147.3L435.6 144.6L435.9 141.8L436.1 139.1L436.4 136.4L436.6 133.7L436.9 131.1L437.1 128.6L437.4 126.2L437.6 124.0L437.9 121.9L438.1 120.1L438.4 118.4L438.6 117.0L438.9 115.8L439.1 114.9L439.4 114.3L439.6 113.9L439.9 113.8L440.1 114.0L440.4 114.5L440.6 115.3L440.9 116.3L441.1 117.6L441.4 119.1L441.6 120.9L441.9 122.8L442.1 125.0L442.4 127.4L442.6 129.9L442.9 132.5L443.1 135.2L443.4 138.0L443.6 140.8L443.9 143.6L444.1 146.4L444.4 149.2L444.6 151.9L444.9 154.4L445.1 156.9L445.4 159.1L445.6 161.2L445.9 163.1L446.1 164.7L446.4 166.1L446.6 167.3L446.9 168.1L447.1 168.7L447.4 169.0L447.6 169.0L447.9 168.6L448.1 168.0L448.4 167.2L448.6 166.0L448.9 164.6L449.1 162.9L449.4 161.0L449.6 158.9L449.9 156.6L450.1 154.2L450.4 151.6L450.6 148.9L450.9 146.1L451.1 143.3L451.4 140.4L451.6 137.6L451.9 134.8L452.1 132.1L452.4 129.5L452.6 127.0L452.9 124.7L453.1 122.5L453.4 120.5L453.6 118.8L453.9 117.3L454.1 116.1L454.4 115.1L454.6 114.4L454.9 113.9L455.1 113.8L455.4 113.9L455.6 114.4L455.9 115.1L456.1 116.0L456.4 117.3L456.6 118.8L456.9 120.5L457.1 122.4L457.4 124.5L457.6 126.8L457.9 129.2L458.1 131.8L458.4 134.4L458.6 137.1L458.9 139.9L459.1 142.7L459.4 145.4L459.6 148.1L459.9 150.8L460.1 153.4L460.4 155.8L460.6 158.1L460.9 160.2L461.1 162.1L461.4 163.8L461.6 165.3L461.9 166.6L462.1 167.6L462.4 168.3L462.6 168.8L462.9 169.0L463.1 168.9L463.4 168.6L463.6 167.9L463.9 167.0L464.1 165.9L464.4 164.5L464.6 162.8L464.9 161.0L465.1 158.9L465.4 156.7L465.6 154.3L465.9 151.8L466.1 149.2L466.4 146.5L466.6 143.8L466.9 141.0L467.1 138.2L467.4 135.5L467.6 132.8L467.9 130.2L468.1 127.7L468.4 125.4L468.6 123.2L468.9 121.2L469.1 119.4L469.4 117.8L469.6 116.5L469.9 115.4L470.1 114.6L470.4 114.1L470.6 113.8L470.9 113.9L471.1 114.2L471.4 114.8L471.6 115.6L471.9 116.8L472.1 118.2L472.4 119.8L472.6 121.7L472.9 123.7L473.1 126.0L473.4 128.4L473.6 130.9L473.9 133.6L474.1 136.3L474.4 139.1L474.6 142.0L474.9 144.8L475.1 147.6L475.4 150.3L475.6 152.9L475.9 155.4L476.1 157.8L476.4 159.9L476.6 161.9L476.9 163.7L477.1 165.3L477.4 166.6L477.6 167.6L477.9 168.3L478.1 168.8L478.4 169.0L478.6 168.9L478.9 168.5L479.1 167.8L479.4 166.8L479.6 165.6L479.9 164.1L480.1 162.4L480.4 160.4L480.6 158.3L480.9 155.9L481.1 153.5L481.4 150.8L481.6 148.1L481.9 145.3L482.1 142.5L482.4 139.6L482.6 136.8L482.9 134.0L483.1 131.3L483.4 128.8L483.6 126.3L483.9 124.0L484.1 121.9L484.4 120.0L484.6 118.3L484.9 116.9L485.1 115.7L485.4 114.8L485.6 114.2L485.9 113.9L486.1 113.8L486.4 114.1L486.6 114.6L486.9 115.5L487.1 116.6L487.4 118.0L487.6 119.7L487.9 121.5L488.1 123.6L488.4 125.9L488.6 128.4L488.9 131.0L489.1 133.7L489.4 136.5L489.6 139.4L489.9 142.3L490.1 145.2L490.4 148.0L490.6 150.8L490.9 153.4L491.1 156.0L491.4 158.3L491.6 160.5L491.9 162.5L492.1 164.2L492.4 165.7L492.6 167.0L492.9 167.9L493.1 168.6L493.4 168.9L493.6 169.0L493.9 168.7L494.1 168.2L494.4 167.3L494.6 166.2L494.9 164.8L495.1 163.2L495.4 161.3L495.6 159.2L495.9 156.9L496.1 154.4L496.4 151.8L496.6 149.1L496.9 146.3L497.1 143.5L497.4 140.6L497.6 137.8L497.9 135.0L498.1 132.2L498.4 129.6L498.6 127.1L498.9 124.7L499.1 122.5L499.4 120.6L499.6 118.8L499.9 117.3L500.1 116.1L500.4 115.1L500.6 114.4L500.9 113.9L501.1 113.8L501.4 113.9L501.6 114.4L501.9 115.1L502.1 116.0L502.4 117.3L502.6 118.7L502.9 120.4L503.1 122.3L503.4 124.4L503.6 126.7L503.9 129.1L504.1 131.6L504.4 134.3L504.6 137.0L504.9 139.7L505.1 142.5L505.4 145.2L505.6 147.9L505.9 150.5L506.1 153.1L506.4 155.5L506.6 157.8L506.9 159.9L507.1 161.8L507.4 163.6L507.6 165.1L507.9 166.4L508.1 167.4L508.4 168.2L508.6 168.7L508.9 169.0L509.1 169.0L509.4 168.7L509.6 168.1L509.9 167.3L510.1 166.3L510.4 165.0L510.6 163.5L510.9 161.7L511.1 159.8L511.4 157.7L511.6 155.4L511.9 153.0L512.1 150.5L512.4 147.9L512.6 145.2L512.9 142.5L513.1 139.7L513.4 137.0L513.6 134.4L513.9 131.8L514.1 129.2L514.4 126.8L514.6 124.6L514.9 122.5L515.1 120.6L515.4 118.9L515.6 117.4L515.9 116.2L516.1 115.2L516.4 114.5L516.6 114.0L516.9 113.8L517.1 113.9L517.4 114.2L517.6 114.9L517.9 115.8L518.1 116.9L518.4 118.3L518.6 120.0L518.9 121.8L519.1 123.8L519.4 126.1L519.6 128.4L519.9 131.0L520.1 133.6L520.4 136.3L520.6 139.0L520.9 141.8L521.1 144.5L521.4 147.3L521.6 150.0L521.9 152.5L522.1 155.0L522.4 157.4L522.6 159.5L522.9 161.5L523.1 163.3L523.4 164.9L523.6 166.2L523.9 167.3L524.1 168.1L524.4 168.7L524.6 169.0L524.9 169.0L525.1 168.7L525.4 168.1L525.6 167.3L525.9 166.2L526.1 164.8L526.4 163.2L526.6 161.4L526.9 159.4L527.1 157.2L527.4 154.9L527.6 152.4L527.9 149.8L528.1 147.1L528.4 144.3L528.6 141.5L528.9 138.7L529.1 136.0L529.4 133.3L529.6 130.7L529.9 128.2L530.1 125.8L530.4 123.6L530.6 121.5L530.9 119.7L531.1 118.1L531.4 116.7L531.6 115.6L531.9 114.7L532.1 114.2L532.4 113.9L532.6 113.8L532.9 114.1L533.1 114.6L533.4 115.4L533.6 116.5L533.9 117.8L534.1 119.4L534.4 121.2L534.6 123.2L534.9 125.4L535.1 127.7L535.4 130.2L535.6 132.8L535.9 135.5L536.1 138.3L536.4 141.0L536.6 143.8L536.9 146.6L537.1 149.3L537.4 152.0L537.6 154.5L537.9 156.9L538.1 159.1L538.4 161.2L538.6 163.0L538.9 164.6L539.1 166.0L539.4 167.2L539.6 168.0L539.9 168.6L540.1 168.9L540.4 169.0L540.6 168.7L540.9 168.2L541.1 167.4L541.4 166.3L541.6 165.0L541.9 163.4L542.1 161.6L542.4 159.6L542.6 157.4L542.9 155.1L543.1 152.6L543.4 150.0L543.6 147.3L543.9 144.5L544.1 141.7L544.4 138.9L544.6 136.1L544.9 133.4L545.1 130.8L545.4 128.3L545.6 125.9L545.9 123.6L546.1 121.6L546.4 119.8L546.6 118.1L546.9 116.7L547.1 115.6L547.4 114.8L547.6 114.2L547.9 113.9L548.1 113.8L548.4 114.1L548.6 114.6L548.9 115.4L549.1 116.5L549.4 117.8L549.6 119.4L549.9 121.2L550.1 123.2L550.4 125.4L550.6 127.8L550.9 130.3L551.1 132.9L551.4 135.6L551.6 138.4L551.9 141.1L552.1 143.9L552.4 146.7L552.6 149.4L552.9 152.1L553.1 154.6L553.4 157.0L553.6 159.2L553.9 161.2L554.1 163.1L554.4 164.7L554.6 166.1L554.9 167.2L555.1 168.1L555.4 168.6L555.6 169.0L555.9 169.0L556.1 168.7L556.4 168.2L556.6 167.4L556.9 166.3L557.1 164.9L557.4 163.3L557.6 161.5L557.9 159.5L558.1 157.3L558.4 155.0L558.6 152.5L558.9 149.9L559.1 147.2L559.4 144.4L559.6 141.6L559.9 138.8L560.1 136.0L560.4 133.3L560.6 130.7L560.9 128.2L561.1 125.8L561.4 123.6L561.6 121.6L561.9 119.7L562.1 118.1L562.4 116.7L562.6 115.6L562.9 114.7L563.1 114.2L563.4 113.9L563.6 113.8L563.9 114.1L564.1 114.6L564.4 115.4L564.6 116.5L564.9 117.8L565.1 119.4L565.4 121.2L565.6 123.2L565.9 125.3L566.1 127.7L566.4 130.2L566.6 132.8L566.9 135.4L567.1 138.2L567.4 141.0L567.6 143.8L567.9 146.5L568.1 149.2L568.4 151.8L568.6 154.4L568.9 156.8L569.1 159.0L569.4 161.0L569.6 162.9L569.9 164.5L570.1 165.9L570.4 167.1L570.6 168.0L570.9 168.6L571.1 168.9L571.4 169.0L571.6 168.8L571.9 168.3L572.1 167.5L572.4 166.5L572.6 165.2L572.9 163.7L573.1 161.9L573.4 160.0L573.6 157.8L573.9 155.5L574.1 153.0L574.4 150.5L574.6 147.8L574.9 145.1L575.1 142.3L575.4 139.6L575.6 136.8L575.9 134.1L576.1 131.5L576.4 128.9L576.6 126.5L576.9 124.3L577.1 122.2L577.4 120.3L577.6 118.6L577.9 117.2L578.1 116.0L578.4 115.0L578.6 114.4L578.9 113.9L579.1 113.8L579.4 113.9L579.6 114.3L579.9 115.0L580.1 116.0L580.4 117.2L580.6 118.6L580.9 120.3L581.1 122.1L581.4 124.2L581.6 126.4L581.9 128.8L582.1 131.3L582.4 133.9L582.6 136.6L582.9 139.3L583.1 142.0L583.4 144.8L583.6 147.5L583.9 150.1L584.1 152.6L584.4 155.1L584.6 157.4L584.9 159.5L585.1 161.5L585.4 163.3L585.6 164.8L585.9 166.2L586.1 167.2L586.4 168.1L586.6 168.6L586.9 168.9L587.1 169.0L587.4 168.7L587.6 168.2L587.9 167.5L588.1 166.5L588.4 165.2L588.6 163.7L588.9 162.0L589.1 160.0L589.4 157.9L589.6 155.7L589.9 153.2L590.1 150.7L590.4 148.1L590.6 145.4L590.9 142.7L591.1 139.9L591.4 137.2L591.6 134.5L591.9 131.9L592.1 129.4L592.4 127.0L592.6 124.7L592.9 122.6L593.1 120.7L593.4 119.0L593.6 117.5L593.9 116.2L594.1 115.2L594.4 114.5L594.6 114.0L594.9 113.8L595.1 113.9L595.4 114.2L595.6 114.9L595.9 115.8L596.1 117.0L596.4 118.4L596.6 120.0L596.9 121.9L597.1 123.9L597.4 126.2L597.6 128.6L597.9 131.1L598.1 133.7L598.4 136.4L598.6 139.2L598.9 142.0L599.1 144.8L599.4 147.5L599.6 150.2L599.9 152.8L600.1 155.3L600.4 157.7L600.6 159.8L600.9 161.8L601.1 163.6L601.4 165.1L601.6 166.4L601.9 167.5L602.1 168.3L602.4 168.8L602.6 169.0L602.9 168.9L603.1 168.6L603.4 167.9L603.6 167.0L603.9 165.9L604.1 164.5L604.4 162.8L604.6 160.9L604.9 158.8L605.1 156.6L605.4 154.2L605.6 151.6L605.9 149.0L606.1 146.2L606.4 143.4L606.6 140.6L606.9 137.8L607.1 135.1L607.4 132.4L607.6 129.8L607.9 127.3L608.1 125.0L608.4 122.8L608.6 120.8L608.9 119.1L609.1 117.5L609.4 116.3L609.6 115.2L609.9 114.5L610.1 114.0L610.4 113.8L610.6 113.9L610.9 114.3L611.1 114.9L611.4 115.8L611.6 117.0L611.9 118.4L612.1 120.1L612.4 122.0L612.6 124.1L612.9 126.3L613.1 128.8L613.4 131.3L613.6 134.0L613.9 136.7L614.1 139.5L614.4 142.3L614.6 145.1L614.9 147.8L615.1 150.5L615.4 153.1L615.6 155.6L615.9 157.9L616.1 160.0L616.4 162.0L616.6 163.8L616.9 165.3L617.1 166.6L617.4 167.6L617.6 168.3L617.9 168.8L618.1 169.0L618.4 168.9L618.6 168.5L618.9 167.9L619.1 166.9L619.4 165.8L619.6 164.3L619.9 162.7L620.1 160.8L620.4 158.7L620.6 156.4L620.9 154.0L621.1 151.4L621.4 148.8L621.6 146.1L621.9 143.3L622.1 140.5L622.4 137.7L622.6 135.0L622.9 132.3L623.1 129.7L623.4 127.2L623.6 124.9L623.9 122.8L624.1 120.8L624.4 119.0L624.6 117.5L624.9 116.2L625.1 115.2L625.4 114.5L625.6 114.0L625.9 113.8L626.1 113.9L626.4 114.3L626.6 114.9L626.9 115.8L627.1 117.0L627.4 118.4L627.6 120.0L627.9 121.9L628.1 124.0L628.4 126.2L628.6 128.6L628.9 131.1L629.1 133.8L629.4 136.5L629.6 139.2L629.9 142.0L630.1 144.8L630.4 147.5L630.6 150.2L630.9 152.8L631.1 155.2L631.4 157.6L631.6 159.7L631.9 161.7L632.1 163.5L632.4 165.0L632.6 166.3L632.9 167.4L633.1 168.2L633.4 168.7L633.6 169.0L633.9 168.9L634.1 168.6L634.4 168.1L634.6 167.2L634.9 166.1L635.1 164.7L635.4 163.1L635.6 161.3L635.9 159.3L636.1 157.1L636.4 154.8L636.6 152.3L636.9 149.7L637.1 147.0L637.4 144.2L637.6 141.5L637.9 138.7L638.1 135.9L638.4 133.2L638.6 130.6L638.9 128.1L639.1 125.8L639.4 123.6L639.6 121.5L639.9 119.7L640.1 118.1L640.4 116.7L640.6 115.6L640.9 114.7L641.1 114.2L641.4 113.9L641.6 113.8L641.9 114.1L642.1 114.6L642.4 115.4L642.6 116.5L642.9 117.8L643.1 119.4L643.4 121.2L643.6 123.2L643.9 125.4L644.1 127.7L644.4 130.2L644.6 132.8L644.9 135.5L645.1 138.3L645.4 141.1L645.6 143.9L645.9 146.6L646.1 149.3L646.4 152.0L646.6 154.5L646.9 156.9L647.1 159.1L647.4 161.2L647.6 163.0L647.9 164.7L648.1 166.0L648.4 167.2L648.6 168.0L648.9 168.6L649.1 168.9L649.4 169.0L649.6 168.7L649.9 168.2L650.1 167.4L650.4 166.3L650.6 165.0L650.9 163.4L651.1 161.6L651.4 159.6L651.6 157.4L651.9 155.0L652.1 152.5L652.4 149.9L652.6 147.2L652.9 144.4L653.1 141.6L653.4 138.8L653.6 136.1L653.9 133.4L654.1 130.7L654.4 128.2L654.6 125.8L654.9 123.6L655.1 121.6L655.4 119.7L655.6 118.1L655.9 116.7L656.1 115.6L656.4 114.7L656.6 114.2L656.9 113.9L657.1 113.8L657.4 114.1L657.6 114.6L657.9 115.4L658.1 116.5L658.4 117.8L658.6 119.4L658.9 121.1L659.1 123.1L659.4 125.3L659.6 127.7L659.9 130.1L660.1 132.7L660.4 135.4L660.6 138.1L660.9 140.9L661.1 143.7L661.4 146.4L661.6 149.2L661.9 151.8L662.1 154.3L662.4 156.7L662.6 158.9L662.9 161.0L663.1 162.8L663.4 164.5L663.6 165.9L663.9 167.0L664.1 167.9L664.4 168.6L664.6 168.9L664.9 169.0L665.1 168.8L665.4 168.3L665.6 167.6L665.9 166.6L666.1 165.3L666.4 163.8L666.6 162.0L666.9 160.1L667.1 158.0L667.4 155.7L667.6 153.2L667.9 150.6L668.1 148.0L668.4 145.3L668.6 142.5L668.9 139.7L669.1 137.0L669.4 134.3L669.6 131.6L669.9 129.1L670.1 126.6L670.4 124.4L670.6 122.3L670.9 120.4L671.1 118.7L671.4 117.2L671.6 116.0L671.9 115.1L672.1 114.4L672.4 113.9L672.6 113.8L672.9 113.9L673.1 114.4L673.4 115.1L673.6 116.0L673.9 117.2L674.1 118.7L674.4 120.4" fill="none" stroke="#edb120" stroke-width="2.3" stroke-linejoin="round"/></g><defs><clipPath id="c2"><rect x="50.6" y="105.4" width="623.9" height="71.9"/></clipPath></defs><path clip-path="url(#c3)" d="M53.0 264.3L53.5 264.2L54.0 264.1L54.5 264.0L55.0 263.7L55.5 263.4L56.0 263.1L56.5 262.7L57.0 262.3L57.5 261.9L58.0 261.6L58.5 261.2L59.0 260.8L59.5 260.4L60.0 259.9L60.5 259.3L61.0 258.7L61.5 258.1L62.0 257.4L62.5 256.7L63.0 256.0L63.5 255.3L64.0 254.5L64.5 253.7L65.0 252.9L65.5 252.1L66.0 251.3L66.5 250.4L67.0 249.6L67.5 248.6L68.0 247.6L68.5 246.6L69.0 245.6L69.5 244.6L70.0 243.7L70.5 242.8L71.0 242.0L71.5 241.2L72.0 240.5L72.5 239.8L73.0 239.1L73.5 238.4L74.0 237.7L74.5 237.1L75.0 236.5L75.5 235.9L76.0 235.4L76.5 234.8L77.0 234.3L77.5 233.9L78.0 233.4L78.5 233.0L79.0 232.6L79.5 232.2L80.0 231.8L80.5 231.5L81.0 231.1L81.5 230.8L82.0 230.5L82.5 230.1L83.0 229.8L83.5 229.5L84.0 229.2L84.5 229.0L85.0 228.7L85.5 228.4L86.0 228.2L86.5 228.0L87.0 227.7L87.5 227.5L88.0 227.3L88.5 227.1L89.0 226.9L89.5 226.7L90.0 226.5L90.5 226.2L91.0 226.0L91.5 225.8L92.0 225.6L92.5 225.4L93.0 225.2L93.5 225.0L94.0 224.8L94.5 224.7L95.0 224.5L95.5 224.3L96.0 224.1L96.5 223.9L97.0 223.7L97.5 223.5L98.0 223.3L98.5 223.2L99.0 223.0L99.5 222.8L100.0 222.6L100.5 222.4L101.0 222.3L101.5 222.1L102.0 221.9L102.5 221.7L103.0 221.6L103.5 221.4L104.0 221.2L104.5 221.0L105.0 220.8L105.5 220.6L106.0 220.4L106.5 220.3L107.0 220.1L107.5 219.9L108.0 219.7L108.5 219.5L109.0 219.3L109.5 219.2L110.0 219.0L110.5 218.8L111.0 218.6L111.5 218.4L112.0 218.3L112.5 218.1L113.0 217.9L113.5 217.7L114.0 217.6L114.5 217.4L115.0 217.2L115.5 217.1L116.0 216.9L116.5 216.8L117.0 216.6L117.5 216.5L118.0 216.4L118.5 216.3L119.0 216.2L119.5 216.1L120.0 215.9L120.5 215.8L121.0 215.7L121.5 215.6L122.0 215.5L122.5 215.4L123.0 215.4L123.5 215.3L124.0 215.2L124.5 215.1L125.0 215.0L125.5 214.9L126.0 214.9L126.5 214.8L127.0 214.7L127.5 214.6L128.0 214.6L128.5 214.5L129.0 214.5L129.5 214.4L130.0 214.4L130.5 214.3L131.0 214.2L131.5 214.2L132.0 214.1L132.5 214.1L133.0 214.0L133.5 214.0L134.0 214.0L134.5 213.9L135.0 213.9L135.5 213.8L136.0 213.8L136.5 213.8L137.0 213.7L137.5 213.7L138.0 213.7L138.5 213.6L139.0 213.6L139.5 213.6L140.0 213.5L140.5 213.5L141.0 213.5L141.5 213.5L142.0 213.4L142.5 213.4L143.0 213.4L143.5 213.4L144.0 213.3L144.5 213.3L145.0 213.3L145.5 213.3L146.0 213.3L146.5 213.2L147.0 213.2L147.5 213.2L148.0 213.2L148.5 213.2L149.0 213.2L149.5 213.1L150.0 213.1L150.5 213.1L151.0 213.1L151.5 213.1L152.0 213.1L152.5 213.0L153.0 213.0L153.5 213.0L154.0 213.0L154.5 213.0L155.0 213.0L155.5 213.0L156.0 212.9L156.5 212.9L157.0 212.9L157.5 212.9L158.0 212.9L158.5 212.9L159.0 212.9L159.5 212.9L160.0 212.9L160.5 212.9L161.0 212.9L161.5 212.9L162.0 212.9L162.5 212.9L163.0 212.9L163.5 212.9L164.0 212.9L164.5 212.9L165.0 212.9L165.5 212.9L166.0 212.9L166.5 212.9L167.0 213.0L167.5 213.0L168.0 213.0L168.5 213.0L169.0 213.0L169.5 213.0L170.0 213.0L170.5 213.0L171.0 213.0L171.5 213.0L172.0 213.0L172.5 213.0L173.0 213.0L173.5 213.0L174.0 213.0L174.5 213.1L175.0 213.1L175.5 213.1L176.0 213.1L176.5 213.1L177.0 213.1L177.5 213.1L178.0 213.1L178.5 213.1L179.0 213.1L179.5 213.1L180.0 213.1L180.5 213.1L181.0 213.1L181.5 213.2L182.0 213.2L182.5 213.2L183.0 213.2L183.5 213.2L184.0 213.2L184.5 213.2L185.0 213.2L185.5 213.2L186.0 213.2L186.5 213.2L187.0 213.3L187.5 213.3L188.0 213.3L188.5 213.3L189.0 213.3L189.5 213.3L190.0 213.3L190.5 213.3L191.0 213.3L191.5 213.3L192.0 213.3L192.5 213.4L193.0 213.4L193.5 213.4L194.0 213.4L194.5 213.4L195.0 213.4L195.5 213.4L196.0 213.4L196.5 213.4L197.0 213.4L197.5 213.4L198.0 213.5L198.5 213.5L199.0 213.5L199.5 213.5L200.0 213.5L200.5 213.5L201.0 213.5L201.5 213.5L202.0 213.5L202.5 213.5L203.0 213.5L203.5 213.6L204.0 213.6L204.5 213.6L205.0 213.6L205.5 213.6L206.0 213.6L206.5 213.6L207.0 213.6L207.5 213.6L208.0 213.6L208.5 213.6L209.0 213.6L209.5 213.7L210.0 213.7L210.5 213.7L211.0 213.7L211.5 213.7L212.0 213.7L212.5 213.7L213.0 213.7L213.5 213.7L214.0 213.7L214.5 213.7L215.0 213.7L215.5 213.7L216.0 213.7L216.5 213.8L217.0 213.8L217.5 213.8L218.0 213.8L218.5 213.8L219.0 213.8L219.5 213.8L220.0 213.8L220.5 213.8L221.0 213.8L221.5 213.8L222.0 213.8L222.5 213.8L223.0 213.8L223.5 213.8L224.0 213.9L224.5 213.9L225.0 213.9L225.5 213.9L226.0 213.9L226.5 213.9L227.0 213.9L227.5 213.9L228.0 213.9L228.5 213.9L229.0 213.9L229.5 213.9L230.0 213.9L230.5 213.9L231.0 213.9L231.5 213.9L232.0 213.9L232.5 213.9L233.0 213.9L233.5 213.9L234.0 213.9L234.5 213.9L235.0 213.9L235.5 213.9L236.0 213.9L236.5 213.9L237.0 213.9L237.5 213.9L238.0 213.9L238.5 213.9L239.0 213.9L239.5 213.9L240.0 213.9L240.5 213.9L241.0 213.9L241.5 213.9L242.0 213.9L242.5 213.9L243.0 213.9L243.5 213.9L244.0 213.9L244.5 213.9L245.0 213.9L245.5 213.9L246.0 213.9L246.5 213.9L247.0 213.9L247.5 213.9L248.0 213.9L248.5 213.9L249.0 213.9L249.5 213.9L250.0 213.9L250.5 213.9L251.0 213.9L251.5 213.9L252.0 213.9L252.5 213.9L253.0 213.9L253.5 213.9L254.0 213.9L254.5 213.9L255.0 213.9L255.5 213.9L256.0 213.9L256.5 213.9L257.0 213.9L257.5 213.9L258.0 213.9L258.5 213.9L259.0 213.9L259.5 213.9L260.0 213.9L260.5 214.0L261.0 214.0L261.5 214.0L262.0 214.0L262.5 214.0L263.0 214.0L263.5 214.0L264.0 214.0L264.5 214.0L265.0 214.0L265.5 214.0L266.0 214.0L266.5 214.0L267.0 214.0L267.5 214.0L268.0 214.0L268.5 214.0L269.0 214.0L269.5 214.0L270.0 214.0L270.5 214.0L271.0 214.0L271.5 214.0L272.0 214.0L272.5 214.0L273.0 214.0L273.5 214.0L274.0 214.0L274.5 214.0L275.0 214.0L275.5 214.0L276.0 214.0L276.5 214.0L277.0 214.0L277.5 214.0L278.0 214.0L278.5 214.0L279.0 214.0L279.5 214.0L280.0 214.0L280.5 214.0L281.0 214.0L281.5 214.0L282.0 214.0L282.5 214.0L283.0 214.0L283.5 214.0L284.0 214.0L284.5 214.0L285.0 214.0L285.5 214.0L286.0 214.0L286.5 214.0L287.0 214.0L287.5 214.0L288.0 214.0L288.5 214.0L289.0 214.0L289.5 214.0L290.0 214.0L290.5 214.0L291.0 214.0L291.5 214.0L292.0 214.0L292.5 214.0L293.0 214.0L293.5 214.0L294.0 214.0L294.5 214.0L295.0 214.0L295.5 214.0L296.0 214.0L296.5 214.0L297.0 214.0L297.5 214.0L298.0 214.0L298.5 214.0L299.0 214.0L299.5 214.0L300.0 214.0L300.5 214.0L301.0 214.0L301.5 214.0L302.0 214.0L302.5 214.0L303.0 214.0L303.5 214.0L304.0 214.0L304.5 214.0L305.0 214.0L305.5 214.0L306.0 214.0L306.5 214.0L307.0 214.0L307.5 214.0L308.0 214.0L308.5 214.0L309.0 214.0L309.5 214.0L310.0 214.0L310.5 214.0L311.0 214.0L311.5 214.0L312.0 214.0L312.5 214.0L313.0 214.0L313.5 214.0L314.0 214.0L314.5 214.0L315.0 214.0L315.5 214.0L316.0 214.0L316.5 214.0L317.0 214.0L317.5 214.0L318.0 214.0L318.5 214.0L319.0 214.0L319.5 214.0L320.0 214.0L320.5 214.0L321.0 214.0L321.5 214.0L322.0 214.0L322.5 214.0L323.0 214.0L323.5 214.0L324.0 214.0L324.5 214.0L325.0 214.0L325.5 214.0L326.0 214.0L326.5 214.0L327.0 214.0L327.5 214.0L328.0 214.0L328.5 214.0L329.0 214.0L329.5 214.0L330.0 214.0L330.5 214.0L331.0 214.0L331.5 214.0L332.0 214.0L332.5 214.0L333.0 214.0L333.5 214.0L334.0 214.0L334.5 214.0L335.0 214.0L335.5 214.0L336.0 214.0L336.5 214.0L337.0 214.0L337.5 214.0L338.0 214.0L338.5 214.0L339.0 214.0L339.5 214.0L340.0 214.1L340.5 214.1L341.0 214.1L341.5 214.1L342.0 214.1L342.5 214.1L343.0 214.1L343.5 214.1L344.0 214.1L344.5 214.1L345.0 214.1L345.5 214.1L346.0 214.1L346.5 214.1L347.0 214.1L347.5 214.1L348.0 214.1L348.5 214.1L349.0 214.1L349.5 214.1L350.0 214.1L350.5 214.0L351.0 214.0L351.5 214.0L352.0 214.0L352.5 214.0L353.0 214.0L353.5 214.0L354.0 214.0L354.5 214.0L355.0 214.0L355.5 214.0L356.0 214.0L356.5 214.0L357.0 214.0L357.5 214.0L358.0 214.0L358.5 214.0L359.0 214.0L359.5 214.0L360.0 214.0L360.5 214.0L361.0 214.0L361.5 214.0L362.0 214.0L362.5 213.9L363.0 213.9L363.5 213.9L364.0 213.9L364.5 213.8L365.0 213.8L365.5 213.7L366.0 213.6L366.5 213.5L367.0 213.5L367.5 213.4L368.0 213.3L368.5 213.2L369.0 213.1L369.5 213.1L370.0 213.0L370.5 212.9L371.0 212.9L371.5 212.8L372.0 212.7L372.5 212.7L373.0 212.6L373.5 212.5L374.0 212.5L374.5 212.4L375.0 212.3L375.5 212.2L376.0 212.2L376.5 212.1L377.0 212.0L377.5 212.0L378.0 211.9L378.5 211.8L379.0 211.7L379.5 211.7L380.0 211.6L380.5 211.5L381.0 211.4L381.5 211.4L382.0 211.3L382.5 211.2L383.0 211.1L383.5 211.1L384.0 211.0L384.5 210.9L385.0 210.8L385.5 210.8L386.0 210.7L386.5 210.6L387.0 210.6L387.5 210.5L388.0 210.4L388.5 210.4L389.0 210.3L389.5 210.2L390.0 210.2L390.5 210.1L391.0 210.0L391.5 210.0L392.0 209.9L392.5 209.8L393.0 209.8L393.5 209.7L394.0 209.6L394.5 209.6L395.0 209.5L395.5 209.5L396.0 209.4L396.5 209.4L397.0 209.3L397.5 209.3L398.0 209.2L398.5 209.2L399.0 209.1L399.5 209.1L400.0 209.0L400.5 209.0L401.0 209.0L401.5 208.9L402.0 208.9L402.5 208.8L403.0 208.8L403.5 208.7L404.0 208.7L404.5 208.6L405.0 208.6L405.5 208.5L406.0 208.5L406.5 208.4L407.0 208.4L407.5 208.3L408.0 208.3L408.5 208.2L409.0 208.2L409.5 208.1L410.0 208.0L410.5 208.0L411.0 207.9L411.5 207.9L412.0 207.8L412.5 207.8L413.0 207.7L413.5 207.7L414.0 207.6L414.5 207.6L415.0 207.5L415.5 207.5L416.0 207.4L416.5 207.4L417.0 207.4L417.5 207.3L418.0 207.3L418.5 207.2L419.0 207.2L419.5 207.2L420.0 207.1L420.5 207.1L421.0 207.1L421.5 207.0L422.0 207.0L422.5 207.0L423.0 206.9L423.5 206.9L424.0 206.9L424.5 206.8L425.0 206.8L425.5 206.8L426.0 206.8L426.5 206.8L427.0 206.7L427.5 206.7L428.0 206.7L428.5 206.7L429.0 206.6L429.5 206.6L430.0 206.6L430.5 206.6L431.0 206.6L431.5 206.6L432.0 206.5L432.5 206.5L433.0 206.5L433.5 206.5L434.0 206.5L434.5 206.5L435.0 206.5L435.5 206.5L436.0 206.4L436.5 206.4L437.0 206.4L437.5 206.4L438.0 206.4L438.5 206.4L439.0 206.4L439.5 206.4L440.0 206.4L440.5 206.4L441.0 206.4L441.5 206.4L442.0 206.4L442.5 206.4L443.0 206.4L443.5 206.4L444.0 206.4L444.5 206.4L445.0 206.4L445.5 206.4L446.0 206.4L446.5 206.4L447.0 206.4L447.5 206.4L448.0 206.4L448.5 206.4L449.0 206.4L449.5 206.4L450.0 206.4L450.5 206.4L451.0 206.4L451.5 206.4L452.0 206.4L452.5 206.4L453.0 206.4L453.5 206.4L454.0 206.4L454.5 206.4L455.0 206.4L455.5 206.4L456.0 206.4L456.5 206.5L457.0 206.5L457.5 206.5L458.0 206.5L458.5 206.5L459.0 206.5L459.5 206.5L460.0 206.5L460.5 206.5L461.0 206.5L461.5 206.5L462.0 206.5L462.5 206.5L463.0 206.5L463.5 206.5L464.0 206.6L464.5 206.6L465.0 206.6L465.5 206.6L466.0 206.6L466.5 206.6L467.0 206.6L467.5 206.6L468.0 206.6L468.5 206.6L469.0 206.6L469.5 206.6L470.0 206.6L470.5 206.6L471.0 206.7L471.5 206.7L472.0 206.7L472.5 206.7L473.0 206.7L473.5 206.7L474.0 206.7L474.5 206.7L475.0 206.7L475.5 206.7L476.0 206.7L476.5 206.7L477.0 206.7L477.5 206.7L478.0 206.7L478.5 206.7L479.0 206.7L479.5 206.7L480.0 206.8L480.5 206.8L481.0 206.8L481.5 206.8L482.0 206.8L482.5 206.8L483.0 206.8L483.5 206.8L484.0 206.8L484.5 206.8L485.0 206.8L485.5 206.8L486.0 206.8L486.5 206.8L487.0 206.8L487.5 206.8L488.0 206.8L488.5 206.8L489.0 206.8L489.5 206.8L490.0 206.8L490.5 206.9L491.0 206.9L491.5 206.9L492.0 206.9L492.5 206.9L493.0 206.9L493.5 206.9L494.0 206.9L494.5 206.9L495.0 206.9L495.5 206.9L496.0 206.9L496.5 206.9L497.0 206.9L497.5 206.9L498.0 206.9L498.5 206.9L499.0 206.9L499.5 206.9L500.0 206.9L500.5 206.9L501.0 206.9L501.5 206.9L502.0 206.9L502.5 207.0L503.0 207.0L503.5 207.0L504.0 207.0L504.5 207.0L505.0 207.0L505.5 207.0L506.0 207.0L506.5 207.0L507.0 207.0L507.5 207.0L508.0 207.0L508.5 207.0L509.0 207.0L509.5 207.0L510.0 207.0L510.5 207.0L511.0 207.0L511.5 207.0L512.0 207.0L512.5 207.0L513.0 207.0L513.5 207.0L514.0 207.0L514.5 207.0L515.0 207.0L515.5 207.0L516.0 207.0L516.5 207.0L517.0 207.0L517.5 207.0L518.0 207.0L518.5 207.1L519.0 207.1L519.5 207.1L520.0 207.1L520.5 207.1L521.0 207.1L521.5 207.1L522.0 207.1L522.5 207.1L523.0 207.1L523.5 207.1L524.0 207.1L524.5 207.1L525.0 207.1L525.5 207.1L526.0 207.1L526.5 207.1L527.0 207.1L527.5 207.1L528.0 207.1L528.5 207.1L529.0 207.1L529.5 207.1L530.0 207.1L530.5 207.1L531.0 207.1L531.5 207.1L532.0 207.1L532.5 207.1L533.0 207.1L533.5 207.1L534.0 207.1L534.5 207.1L535.0 207.1L535.5 207.1L536.0 207.1L536.5 207.1L537.0 207.1L537.5 207.1L538.0 207.1L538.5 207.1L539.0 207.1L539.5 207.1L540.0 207.1L540.5 207.1L541.0 207.1L541.5 207.1L542.0 207.1L542.5 207.1L543.0 207.1L543.5 207.1L544.0 207.1L544.5 207.1L545.0 207.2L545.5 207.1L546.0 207.1L546.5 207.1L547.0 207.1L547.5 207.1L548.0 207.1L548.5 207.1L549.0 207.1L549.5 207.1L550.0 207.1L550.5 207.1L551.0 207.1L551.5 207.1L552.0 207.1L552.5 207.1L553.0 207.1L553.5 207.1L554.0 207.1L554.5 207.1L555.0 207.1L555.5 207.1L556.0 207.1L556.5 207.1L557.0 207.1L557.5 207.1L558.0 207.1L558.5 207.1L559.0 207.1L559.5 207.1L560.0 207.1L560.5 207.1L561.0 207.1L561.5 207.1L562.0 207.1L562.5 207.1L563.0 207.1L563.5 207.1L564.0 207.1L564.5 207.1L565.0 207.1L565.5 207.1L566.0 207.1L566.5 207.1L567.0 207.1L567.5 207.1L568.0 207.1L568.5 207.1L569.0 207.1L569.5 207.1L570.0 207.1L570.5 207.1L571.0 207.1L571.5 207.1L572.0 207.1L572.5 207.1L573.0 207.1L573.5 207.1L574.0 207.1L574.5 207.1L575.0 207.1L575.5 207.1L576.0 207.1L576.5 207.1L577.0 207.1L577.5 207.1L578.0 207.1L578.5 207.1L579.0 207.1L579.5 207.1L580.0 207.1L580.5 207.1L581.0 207.1L581.5 207.1L582.0 207.1L582.5 207.1L583.0 207.1L583.5 207.1L584.0 207.1L584.5 207.1L585.0 207.1L585.5 207.1L586.0 207.1L586.5 207.1L587.0 207.1L587.5 207.1L588.0 207.1L588.5 207.1L589.0 207.1L589.5 207.1L590.0 207.1L590.5 207.1L591.0 207.1L591.5 207.1L592.0 207.1L592.5 207.1L593.0 207.1L593.5 207.1L594.0 207.1L594.5 207.1L595.0 207.1L595.5 207.1L596.0 207.1L596.5 207.1L597.0 207.1L597.5 207.1L598.0 207.1L598.5 207.1L599.0 207.1L599.5 207.1L600.0 207.1L600.5 207.1L601.0 207.1L601.5 207.1L602.0 207.1L602.5 207.1L603.0 207.1L603.5 207.1L604.0 207.1L604.5 207.1L605.0 207.1L605.5 207.1L606.0 207.1L606.5 207.1L607.0 207.1L607.5 207.1L608.0 207.1L608.5 207.1L609.0 207.1L609.5 207.1L610.0 207.1L610.5 207.1L611.0 207.1L611.5 207.1L612.0 207.1L612.5 207.1L613.0 207.1L613.5 207.1L614.0 207.1L614.5 207.1L615.0 207.1L615.5 207.1L616.0 207.1L616.5 207.1L617.0 207.1L617.5 207.1L618.0 207.1L618.5 207.1L619.0 207.1L619.5 207.1L620.0 207.1L620.5 207.1L621.0 207.1L621.5 207.1L622.0 207.1L622.5 207.1L623.0 207.1L623.5 207.1L624.0 207.1L624.5 207.1L625.0 207.1L625.5 207.1L626.0 207.1L626.5 207.1L627.0 207.1L627.5 207.1L628.0 207.1L628.5 207.1L629.0 207.1L629.5 207.1L630.0 207.0L630.5 207.0L631.0 207.0L631.5 207.0L632.0 207.0L632.5 207.0L633.0 207.0L633.5 207.0L634.0 207.0L634.5 207.0L635.0 207.0L635.5 207.0L636.0 207.0L636.5 207.0L637.0 207.0L637.5 207.0L638.0 207.0L638.5 207.0L639.0 207.0L639.5 207.0L640.0 207.0L640.5 207.0L641.0 207.0L641.5 207.0L642.0 207.0L642.5 207.0L643.0 207.0L643.5 207.0L644.0 207.0L644.5 207.0L645.0 207.0L645.5 207.0L646.0 207.0L646.5 207.0L647.0 207.0L647.5 207.0L648.0 207.0L648.5 207.0L649.0 207.0L649.5 207.0L650.0 207.0L650.5 207.0L651.0 207.0L651.5 207.0L652.0 207.0L652.5 207.0L653.0 207.0L653.5 207.0L654.0 207.0L654.5 207.0L655.0 207.0L655.5 207.0L656.0 207.0L656.5 207.0L657.0 207.0L657.5 207.0L658.0 207.0L658.5 207.0L659.0 207.0L659.5 207.0L660.0 207.0L660.5 207.0L661.0 207.0L661.5 207.0L662.0 207.0L662.5 207.0L663.0 207.0L663.5 207.0L664.0 207.0L664.5 207.0L665.0 207.0L665.5 207.0L666.0 207.0L666.5 207.0L667.0 207.0L667.5 207.0L668.0 207.0L668.5 207.0L669.0 207.0L669.5 207.0L670.0 207.0L670.5 207.0L670.6 206.9" fill="none" stroke="#92129a" stroke-width="2.2" stroke-linejoin="round" stroke-linecap="round"/><text transform="translate(24.0,89.0) rotate(-90)" font-family='"Liberation Serif", serif' font-weight="bold" font-size="16">Torque (Nm)</text><text transform="translate(15.4,178.4) rotate(-90)" font-family='"Liberation Serif", serif' font-weight="bold" font-size="15.7">Voltage (V)</text><text transform="translate(11.4,277.0) rotate(-90)" font-family='"Liberation Serif", serif' font-weight="bold" font-size="16.2">Speed (RPM)</text><text x="296.5" y="292.9" font-family='"Liberation Serif", serif' font-weight="bold" font-size="14.2">Time (seconds)</text><text x="217.3" y="54.7" font-family='"Liberation Serif", serif' font-weight="bold" font-size="16" fill="#571a64">Electro MagneticTorque</text><text x="62" y="114.9" font-family='"Liberation Serif", serif' font-weight="bold" font-size="12.9" fill="#7e2f8e">Rotor Back EMF</text><text x="295.5" y="229.6" font-family='"Liberation Serif", serif' font-weight="bold" font-size="15.7" fill="#4f1752">Rotor Speed</text></svg>
</body></html>
